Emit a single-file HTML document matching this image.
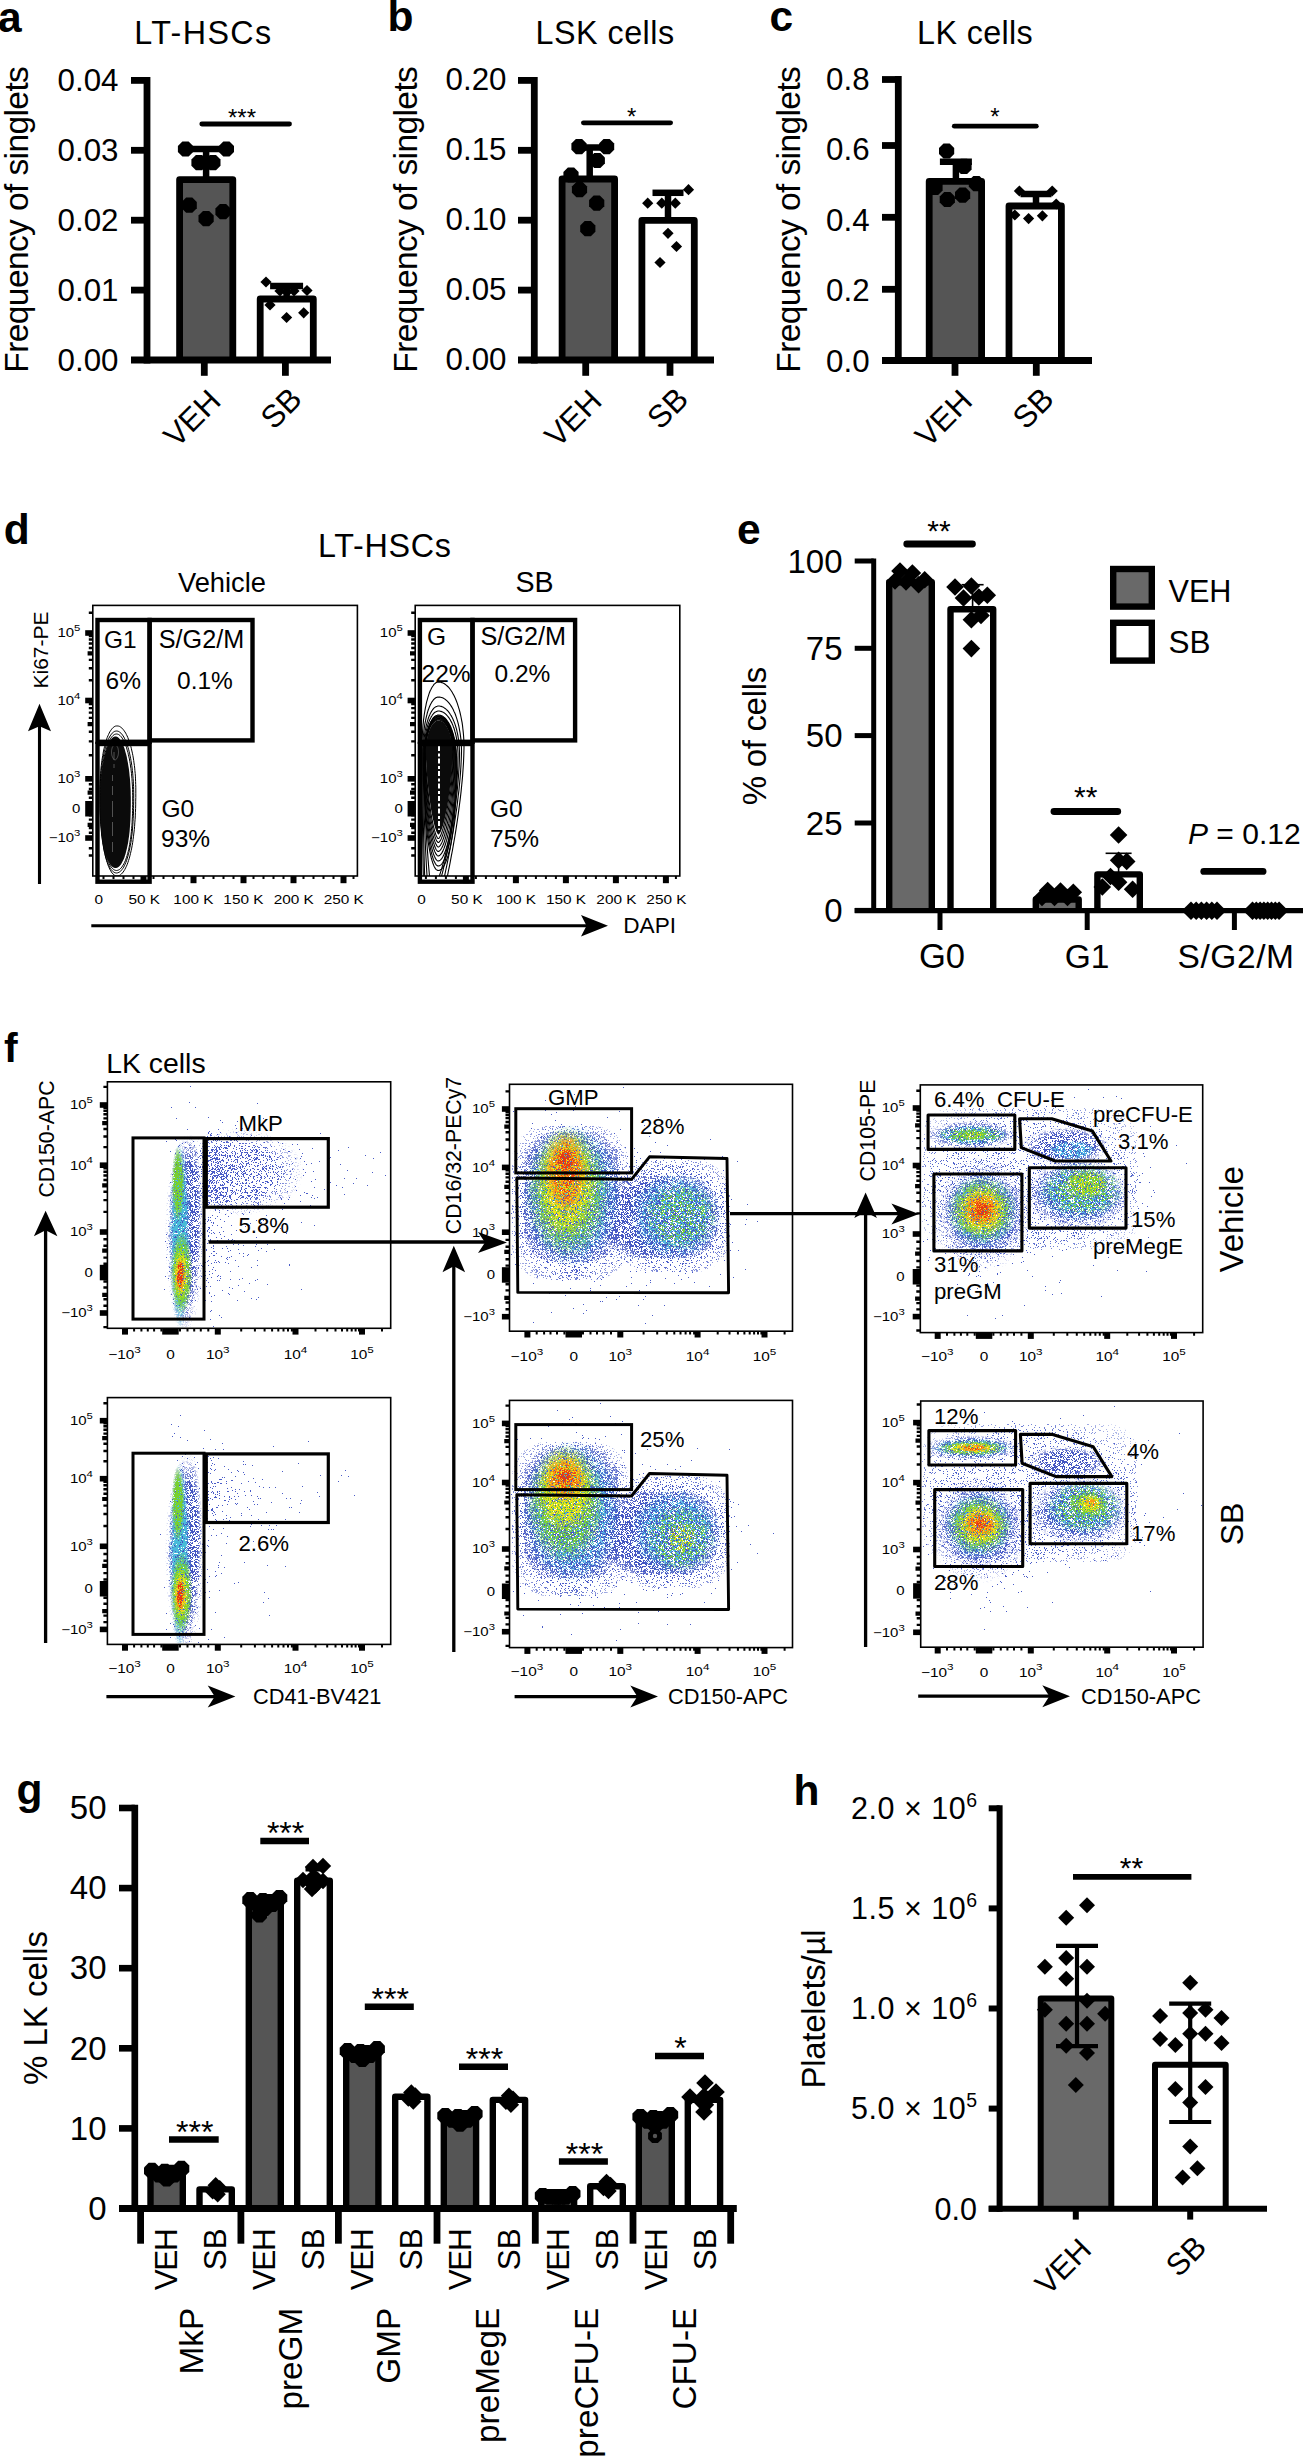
<!DOCTYPE html>
<html><head><meta charset="utf-8"><title>Figure</title><style>html,body{margin:0;padding:0;background:#fff}svg{display:block}</style></head><body>
<svg width="1303" height="2456" viewBox="0 0 1303 2456" font-family="Liberation Sans, Arial, Helvetica, sans-serif" fill="#000">
<rect width="1303" height="2456" fill="#fff"/>
<text x="-2.0" y="31.5" font-size="42.5" font-weight="bold">a</text>
<text x="202.7" y="44.3" font-size="32.3" textLength="137" lengthAdjust="spacing" text-anchor="middle">LT-HSCs</text>
<text x="27.7" y="219.4" font-size="33.5" textLength="306.5" lengthAdjust="spacing" text-anchor="middle" transform="rotate(-90 27.7 219.4)">Frequency of singlets</text>
<text x="118.5" y="91.2" font-size="31.3" text-anchor="end">0.04</text>
<text x="118.5" y="161.2" font-size="31.3" text-anchor="end">0.03</text>
<text x="118.5" y="231.1" font-size="31.3" text-anchor="end">0.02</text>
<text x="118.5" y="301.1" font-size="31.3" text-anchor="end">0.01</text>
<text x="118.5" y="371.0" font-size="31.3" text-anchor="end">0.00</text>
<path d="M179.6 360.0V179.6H232.8V360.0" fill="#555555" stroke="#000" stroke-width="6.8" stroke-linejoin="round"/>
<path d="M260.2 360.0V299.0H313.3V360.0" fill="#fff" stroke="#000" stroke-width="6.8" stroke-linejoin="round"/>
<line x1="131.0" y1="80.4" x2="147.0" y2="80.4" stroke="#000" stroke-width="6.8"/>
<line x1="131.0" y1="150.3" x2="147.0" y2="150.3" stroke="#000" stroke-width="6.8"/>
<line x1="131.0" y1="220.2" x2="147.0" y2="220.2" stroke="#000" stroke-width="6.8"/>
<line x1="131.0" y1="290.1" x2="147.0" y2="290.1" stroke="#000" stroke-width="6.8"/>
<line x1="147.0" y1="77.0" x2="147.0" y2="363.4" stroke="#000" stroke-width="6.8"/>
<line x1="131.0" y1="360.0" x2="331.0" y2="360.0" stroke="#000" stroke-width="6.8"/>
<line x1="204.3" y1="360.0" x2="204.3" y2="375.8" stroke="#000" stroke-width="6.8"/>
<line x1="285.4" y1="360.0" x2="285.4" y2="375.8" stroke="#000" stroke-width="6.8"/>
<line x1="206.1" y1="149.0" x2="206.1" y2="179.2" stroke="#000" stroke-width="6.5"/>
<line x1="180.6" y1="149.0" x2="231.6" y2="149.0" stroke="#000" stroke-width="6.5"/>
<line x1="286.6" y1="286.0" x2="286.6" y2="298.6" stroke="#000" stroke-width="6.5"/>
<line x1="270.1" y1="286.0" x2="303.1" y2="286.0" stroke="#000" stroke-width="6.5"/>
<line x1="201.8" y1="124.0" x2="289.5" y2="124.0" stroke="#000" stroke-width="4.8" stroke-linecap="round"/>
<text x="242.0" y="126.0" font-size="24" text-anchor="middle">***</text>
<g fill="#000">
<polygon points="193.1,152.1 188.6,156.6 182.4,156.6 177.9,152.1 177.9,145.9 182.4,141.4 188.6,141.4 193.1,145.9"/>
<polygon points="234.0,152.1 229.5,156.6 223.3,156.6 218.8,152.1 218.8,145.9 223.3,141.4 229.5,141.4 234.0,145.9"/>
<polygon points="206.6,165.7 202.1,170.2 195.9,170.2 191.4,165.7 191.4,159.5 195.9,155.0 202.1,155.0 206.6,159.5"/>
<polygon points="220.5,165.7 216.0,170.2 209.8,170.2 205.3,165.7 205.3,159.5 209.8,155.0 216.0,155.0 220.5,159.5"/>
<polygon points="196.8,208.3 192.3,212.8 186.1,212.8 181.6,208.3 181.6,202.1 186.1,197.6 192.3,197.6 196.8,202.1"/>
<polygon points="213.7,221.8 209.2,226.3 203.0,226.3 198.5,221.8 198.5,215.6 203.0,211.1 209.2,211.1 213.7,215.6"/>
<polygon points="230.6,214.7 226.1,219.2 219.9,219.2 215.4,214.7 215.4,208.5 219.9,204.0 226.1,204.0 230.6,208.5"/>
<polygon points="260.4,282.0 266.0,276.4 271.6,282.0 266.0,287.6"/>
<polygon points="301.4,290.5 307.0,284.9 312.6,290.5 307.0,296.1"/>
<polygon points="264.4,305.0 270.0,299.4 275.6,305.0 270.0,310.6"/>
<polygon points="281.0,317.5 286.6,311.9 292.2,317.5 286.6,323.1"/>
<polygon points="298.1,312.8 303.7,307.2 309.3,312.8 303.7,318.4"/>
<polygon points="274.4,291.0 280.0,285.4 285.6,291.0 280.0,296.6"/>
<polygon points="281.4,292.0 287.0,286.4 292.6,292.0 287.0,297.6"/>
<polygon points="288.4,291.0 294.0,285.4 299.6,291.0 294.0,296.6"/>
</g>
<text x="222.5" y="403.0" font-size="31.5" text-anchor="end" transform="rotate(-45 222.5 403.0)">VEH</text>
<text x="303.5" y="401.0" font-size="31.5" text-anchor="end" transform="rotate(-45 303.5 401.0)">SB</text>
<text x="387.5" y="31.4" font-size="42.5" font-weight="bold">b</text>
<text x="604.8" y="44.3" font-size="32.3" textLength="138.5" lengthAdjust="spacing" text-anchor="middle">LSK cells</text>
<text x="416.8" y="219.4" font-size="33.5" textLength="306.5" lengthAdjust="spacing" text-anchor="middle" transform="rotate(-90 416.8 219.4)">Frequency of singlets</text>
<text x="506.5" y="90.4" font-size="31.3" text-anchor="end">0.20</text>
<text x="506.5" y="160.3" font-size="31.3" text-anchor="end">0.15</text>
<text x="506.5" y="230.2" font-size="31.3" text-anchor="end">0.10</text>
<text x="506.5" y="300.1" font-size="31.3" text-anchor="end">0.05</text>
<text x="506.5" y="370.0" font-size="31.3" text-anchor="end">0.00</text>
<path d="M562.1 360.0V179.0H614.6V360.0" fill="#555555" stroke="#000" stroke-width="6.8" stroke-linejoin="round"/>
<path d="M641.9 360.0V220.4H694.3V360.0" fill="#fff" stroke="#000" stroke-width="6.8" stroke-linejoin="round"/>
<line x1="518.0" y1="80.4" x2="534.3" y2="80.4" stroke="#000" stroke-width="6.8"/>
<line x1="518.0" y1="150.3" x2="534.3" y2="150.3" stroke="#000" stroke-width="6.8"/>
<line x1="518.0" y1="220.2" x2="534.3" y2="220.2" stroke="#000" stroke-width="6.8"/>
<line x1="518.0" y1="290.1" x2="534.3" y2="290.1" stroke="#000" stroke-width="6.8"/>
<line x1="534.3" y1="77.0" x2="534.3" y2="363.4" stroke="#000" stroke-width="6.8"/>
<line x1="518.0" y1="360.0" x2="714.0" y2="360.0" stroke="#000" stroke-width="6.8"/>
<line x1="585.7" y1="360.0" x2="585.7" y2="375.8" stroke="#000" stroke-width="6.8"/>
<line x1="670.0" y1="360.0" x2="670.0" y2="375.8" stroke="#000" stroke-width="6.8"/>
<line x1="589.7" y1="147.4" x2="589.7" y2="178.6" stroke="#000" stroke-width="6.5"/>
<line x1="573.7" y1="147.4" x2="605.7" y2="147.4" stroke="#000" stroke-width="6.5"/>
<line x1="668.0" y1="192.8" x2="668.0" y2="220.0" stroke="#000" stroke-width="6.5"/>
<line x1="652.5" y1="192.8" x2="683.5" y2="192.8" stroke="#000" stroke-width="6.5"/>
<line x1="583.4" y1="122.8" x2="670.6" y2="122.8" stroke="#000" stroke-width="4.8" stroke-linecap="round"/>
<text x="631.7" y="125.0" font-size="24" text-anchor="middle">*</text>
<g fill="#000">
<polygon points="586.6,149.8 582.1,154.3 575.9,154.3 571.4,149.8 571.4,143.6 575.9,139.1 582.1,139.1 586.6,143.6"/>
<polygon points="614.2,149.8 609.7,154.3 603.5,154.3 599.0,149.8 599.0,143.6 603.5,139.1 609.7,139.1 614.2,143.6"/>
<polygon points="604.9,163.6 600.4,168.1 594.2,168.1 589.7,163.6 589.7,157.4 594.2,152.9 600.4,152.9 604.9,157.4"/>
<polygon points="578.6,178.1 574.1,182.6 567.9,182.6 563.4,178.1 563.4,171.9 567.9,167.4 574.1,167.4 578.6,171.9"/>
<polygon points="587.1,192.8 582.6,197.3 576.4,197.3 571.9,192.8 571.9,186.6 576.4,182.1 582.6,182.1 587.1,186.6"/>
<polygon points="604.3,206.3 599.8,210.8 593.6,210.8 589.1,206.3 589.1,200.1 593.6,195.6 599.8,195.6 604.3,200.1"/>
<polygon points="595.4,231.8 590.9,236.3 584.7,236.3 580.2,231.8 580.2,225.6 584.7,221.1 590.9,221.1 595.4,225.6"/>
<polygon points="682.9,189.7 688.5,184.1 694.1,189.7 688.5,195.3"/>
<polygon points="642.1,203.2 647.7,197.6 653.3,203.2 647.7,208.8"/>
<polygon points="656.2,203.2 661.8,197.6 667.4,203.2 661.8,208.8"/>
<polygon points="669.7,203.2 675.3,197.6 680.9,203.2 675.3,208.8"/>
<polygon points="662.4,233.3 668.0,227.7 673.6,233.3 668.0,238.9"/>
<polygon points="670.9,246.5 676.5,240.9 682.1,246.5 676.5,252.1"/>
<polygon points="654.4,262.5 660.0,256.9 665.6,262.5 660.0,268.1"/>
</g>
<text x="603.5" y="403.0" font-size="31.5" text-anchor="end" transform="rotate(-45 603.5 403.0)">VEH</text>
<text x="690.0" y="401.0" font-size="31.5" text-anchor="end" transform="rotate(-45 690.0 401.0)">SB</text>
<text x="769.4" y="31.4" font-size="42.5" font-weight="bold">c</text>
<text x="974.9" y="44.3" font-size="32.3" textLength="115.7" lengthAdjust="spacing" text-anchor="middle">LK cells</text>
<text x="800.0" y="219.4" font-size="33.5" textLength="306.5" lengthAdjust="spacing" text-anchor="middle" transform="rotate(-90 800.0 219.4)">Frequency of singlets</text>
<text x="869.6" y="89.7" font-size="31.3" text-anchor="end">0.8</text>
<text x="869.6" y="160.0" font-size="31.3" text-anchor="end">0.6</text>
<text x="869.6" y="230.6" font-size="31.3" text-anchor="end">0.4</text>
<text x="869.6" y="301.0" font-size="31.3" text-anchor="end">0.2</text>
<text x="869.6" y="371.5" font-size="31.3" text-anchor="end">0.0</text>
<path d="M929.2 360.5V181.4H981.6V360.5" fill="#555555" stroke="#000" stroke-width="6.8" stroke-linejoin="round"/>
<path d="M1009.0 360.5V206.0H1061.4V360.5" fill="#fff" stroke="#000" stroke-width="6.8" stroke-linejoin="round"/>
<line x1="882.0" y1="79.5" x2="898.3" y2="79.5" stroke="#000" stroke-width="6.8"/>
<line x1="882.0" y1="145.5" x2="898.3" y2="145.5" stroke="#000" stroke-width="6.8"/>
<line x1="882.0" y1="217.3" x2="898.3" y2="217.3" stroke="#000" stroke-width="6.8"/>
<line x1="882.0" y1="289.3" x2="898.3" y2="289.3" stroke="#000" stroke-width="6.8"/>
<line x1="898.3" y1="76.1" x2="898.3" y2="363.9" stroke="#000" stroke-width="6.8"/>
<line x1="882.0" y1="360.5" x2="1092.0" y2="360.5" stroke="#000" stroke-width="6.8"/>
<line x1="955.0" y1="360.5" x2="955.0" y2="375.8" stroke="#000" stroke-width="6.8"/>
<line x1="1036.3" y1="360.5" x2="1036.3" y2="375.8" stroke="#000" stroke-width="6.8"/>
<line x1="955.9" y1="161.8" x2="955.9" y2="181.0" stroke="#000" stroke-width="6.5"/>
<line x1="939.9" y1="161.8" x2="971.9" y2="161.8" stroke="#000" stroke-width="6.5"/>
<line x1="1036.0" y1="194.0" x2="1036.0" y2="205.6" stroke="#000" stroke-width="6.5"/>
<line x1="1020.5" y1="194.0" x2="1051.5" y2="194.0" stroke="#000" stroke-width="6.5"/>
<line x1="954.3" y1="126.2" x2="1036.3" y2="126.2" stroke="#000" stroke-width="4.8" stroke-linecap="round"/>
<text x="994.8" y="125.0" font-size="24" text-anchor="middle">*</text>
<g fill="#000">
<polygon points="954.2,154.1 949.7,158.6 943.5,158.6 939.0,154.1 939.0,147.9 943.5,143.4 949.7,143.4 954.2,147.9"/>
<polygon points="971.6,169.5 967.1,174.0 960.9,174.0 956.4,169.5 956.4,163.3 960.9,158.8 967.1,158.8 971.6,163.3"/>
<polygon points="984.0,186.7 979.5,191.2 973.3,191.2 968.8,186.7 968.8,180.5 973.3,176.0 979.5,176.0 984.0,180.5"/>
<polygon points="942.6,190.4 938.1,194.9 931.9,194.9 927.4,190.4 927.4,184.2 931.9,179.7 938.1,179.7 942.6,184.2"/>
<polygon points="970.2,198.3 965.7,202.8 959.5,202.8 955.0,198.3 955.0,192.1 959.5,187.6 965.7,187.6 970.2,192.1"/>
<polygon points="954.9,202.6 950.4,207.1 944.2,207.1 939.7,202.6 939.7,196.4 944.2,191.9 950.4,191.9 954.9,196.4"/>
<polygon points="1013.8,191.0 1019.4,185.4 1025.0,191.0 1019.4,196.6"/>
<polygon points="1046.6,191.0 1052.2,185.4 1057.8,191.0 1052.2,196.6"/>
<polygon points="1050.6,204.0 1056.2,198.4 1061.8,204.0 1056.2,209.6"/>
<polygon points="1009.2,215.0 1014.8,209.4 1020.4,215.0 1014.8,220.6"/>
<polygon points="1023.0,218.6 1028.6,213.0 1034.2,218.6 1028.6,224.2"/>
<polygon points="1036.8,215.8 1042.4,210.2 1048.0,215.8 1042.4,221.4"/>
</g>
<text x="974.0" y="403.0" font-size="31.5" text-anchor="end" transform="rotate(-45 974.0 403.0)">VEH</text>
<text x="1055.5" y="401.0" font-size="31.5" text-anchor="end" transform="rotate(-45 1055.5 401.0)">SB</text>
<text x="3.7" y="544.2" font-size="42.5" font-weight="bold">d</text>
<text x="384.5" y="556.8" font-size="32.3" textLength="133" lengthAdjust="spacing" text-anchor="middle">LT-HSCs</text>
<text x="222.0" y="591.5" font-size="27.3" text-anchor="middle">Vehicle</text>
<text x="534.5" y="591.5" font-size="28.6" text-anchor="middle">SB</text>
<text x="48.2" y="650.0" font-size="21" text-anchor="middle" transform="rotate(-90 48.2 650.0)">Ki67-PE</text>
<line x1="39.5" y1="884.0" x2="39.5" y2="722.0" stroke="#000" stroke-width="3.1"/>
<polygon points="39.5,703.7 28.0,731.2 39.5,726.2 51.0,731.2" fill="#000"/>
<line x1="91.3" y1="925.7" x2="590.0" y2="925.7" stroke="#000" stroke-width="3.1"/>
<polygon points="608.0,925.7 581.0,915.0 586.5,925.7 581.0,936.5" fill="#000"/>
<text x="623.3" y="932.8" font-size="22.6">DAPI</text>
<clipPath id="cd0"><rect x="93" y="606" width="264" height="270"/></clipPath>
<clipPath id="cd1"><rect x="416" y="606" width="264" height="270"/></clipPath>
<rect x="92.8" y="605.4" width="264.6" height="270.6" fill="none" stroke="#000" stroke-width="1.6"/>
<rect x="85.2" y="630.2" width="7.6" height="5.6"/>
<text transform="translate(80.4 637.4) scale(1.22 1)" font-size="12.3" text-anchor="end">10<tspan font-size="9.3" dy="-6.2">5</tspan></text>
<rect x="85.2" y="697.7" width="7.6" height="5.6"/>
<text transform="translate(80.4 704.9) scale(1.22 1)" font-size="12.3" text-anchor="end">10<tspan font-size="9.3" dy="-6.2">4</tspan></text>
<rect x="85.2" y="776.0" width="7.6" height="5.6"/>
<text transform="translate(80.4 783.2) scale(1.22 1)" font-size="12.3" text-anchor="end">10<tspan font-size="9.3" dy="-6.2">3</tspan></text>
<rect x="85.2" y="801.0" width="7.6" height="15.5"/>
<text transform="translate(80.4 813.2) scale(1.22 1)" font-size="12.3" text-anchor="end">0</text>
<rect x="85.2" y="835.2" width="7.6" height="5.6"/>
<text transform="translate(80.4 842.4) scale(1.22 1)" font-size="12.3" text-anchor="end">−10<tspan font-size="9.3" dy="-6.2">3</tspan></text>
<path d="M88.8 680.2h4M88.8 668.3h4M88.8 659.9h4M88.8 648.0h4M88.8 643.5h4M88.8 639.5h4M88.8 636.1h4M88.8 755.2h4M88.8 741.4h4M88.8 731.7h4M88.8 717.9h4M88.8 712.6h4M88.8 708.1h4M88.8 704.1h4M88.8 612.7h4M88.8 784.2h4M88.8 789.0h4M88.8 797.7h4M88.8 802.2h4M88.8 815.2h4M88.8 819.6h4M88.8 828.1h4M88.8 832.7h4M88.8 848.2h4M88.8 855.5h4" stroke="#000" stroke-width="2.4"/>
<path d="M87.6 653.3h5.2M87.6 724.1h5.2M87.6 792.6h5.2M87.6 824.9h5.2" stroke="#000" stroke-width="4.2"/>
<rect x="140.5" y="876.0" width="6" height="7.2"/>
<rect x="190.5" y="876.0" width="6" height="7.2"/>
<rect x="240.5" y="876.0" width="6" height="7.2"/>
<rect x="290.5" y="876.0" width="6" height="7.2"/>
<rect x="340.5" y="876.0" width="6" height="7.2"/>
<path d="M103.5 876.0v3M113.5 876.0v3M123.5 876.0v3M133.5 876.0v3M153.5 876.0v3M163.5 876.0v3M173.5 876.0v3M183.5 876.0v3M203.5 876.0v3M213.5 876.0v3M223.5 876.0v3M233.5 876.0v3M253.5 876.0v3M263.5 876.0v3M273.5 876.0v3M283.5 876.0v3M303.5 876.0v3M313.5 876.0v3M323.5 876.0v3M333.5 876.0v3M353.5 876.0v3" stroke="#000" stroke-width="2"/>
<text transform="translate(98.8 903.7) scale(1.2 1)" font-size="12.8" text-anchor="middle">0</text>
<text transform="translate(144.3 903.7) scale(1.2 1)" font-size="12.8" text-anchor="middle">50 K</text>
<text transform="translate(193.4 903.7) scale(1.2 1)" font-size="12.8" text-anchor="middle">100 K</text>
<text transform="translate(243.4 903.7) scale(1.2 1)" font-size="12.8" text-anchor="middle">150 K</text>
<text transform="translate(293.8 903.7) scale(1.2 1)" font-size="12.8" text-anchor="middle">200 K</text>
<text transform="translate(343.8 903.7) scale(1.2 1)" font-size="12.8" text-anchor="middle">250 K</text>
<g clip-path="url(#cd0)">
<g fill="none" stroke="#000" stroke-width="1">
<path d="M117.0 725.9L117.8 726.0L118.6 726.1L119.5 726.4L120.3 726.9L121.1 727.4L121.9 728.1L122.7 728.9L123.4 729.8L124.2 730.8L124.9 731.9L125.7 733.1L126.4 734.5L127.1 735.9L127.8 737.5L128.4 739.1L129.1 740.9L129.7 742.7L130.3 744.7L130.9 746.7L131.4 748.8L131.9 751.0L132.4 753.2L132.9 755.6L133.3 758.0L133.7 760.4L134.0 762.9L134.4 765.5L134.7 768.1L134.9 770.7L135.2 773.4L135.4 776.1L135.5 778.9L135.6 781.6L135.7 784.4L135.8 787.2L135.8 790.0L135.8 793.8L135.8 797.5L135.7 801.2L135.7 804.9L135.6 808.6L135.4 812.3L135.3 815.9L135.1 819.4L134.8 822.9L134.6 826.3L134.3 829.7L133.9 833.0L133.5 836.2L133.1 839.3L132.7 842.4L132.2 845.3L131.7 848.1L131.1 850.8L130.5 853.4L129.9 855.9L129.3 858.2L128.6 860.4L127.9 862.5L127.2 864.5L126.4 866.3L125.6 867.9L124.8 869.5L124.0 870.8L123.2 872.0L122.3 873.1L121.4 874.0L120.6 874.7L119.7 875.3L118.8 875.7L117.9 875.9L117.0 876.0L117.0 876.0L116.2 875.9L115.4 875.7L114.6 875.3L113.8 874.7L113.0 874.0L112.2 873.1L111.4 872.0L110.7 870.8L109.9 869.5L109.2 867.9L108.5 866.3L107.8 864.5L107.2 862.5L106.5 860.4L105.9 858.2L105.3 855.9L104.8 853.4L104.2 850.8L103.7 848.1L103.3 845.3L102.8 842.4L102.4 839.3L102.0 836.2L101.7 833.0L101.4 829.7L101.1 826.3L100.9 822.9L100.7 819.4L100.5 815.9L100.3 812.3L100.2 808.6L100.1 804.9L100.1 801.2L100.0 797.5L100.0 793.8L100.0 790.0L100.0 787.2L100.1 784.4L100.1 781.6L100.3 778.9L100.4 776.1L100.6 773.4L100.8 770.7L101.0 768.1L101.3 765.5L101.6 762.9L101.9 760.4L102.3 758.0L102.7 755.6L103.1 753.2L103.5 751.0L104.0 748.8L104.5 746.7L105.0 744.7L105.5 742.7L106.1 740.9L106.7 739.1L107.2 737.5L107.9 735.9L108.5 734.5L109.2 733.1L109.8 731.9L110.5 730.8L111.2 729.8L111.9 728.9L112.6 728.1L113.3 727.4L114.0 726.9L114.8 726.4L115.5 726.1L116.3 726.0L117.0 725.9Z"/>
<path d="M116.5 731.0L117.3 731.1L118.0 731.2L118.7 731.5L119.5 732.0L120.2 732.5L121.0 733.2L121.7 734.0L122.4 734.9L123.1 735.9L123.8 737.0L124.4 738.2L125.1 739.6L125.7 741.0L126.4 742.6L127.0 744.2L127.6 746.0L128.1 747.8L128.7 749.7L129.2 751.8L129.7 753.9L130.1 756.0L130.6 758.3L131.0 760.6L131.4 763.0L131.8 765.4L132.1 768.0L132.4 770.5L132.7 773.1L132.9 775.8L133.1 778.4L133.3 781.1L133.4 783.9L133.6 786.6L133.6 789.4L133.7 792.2L133.7 795.0L133.7 798.4L133.7 801.8L133.6 805.2L133.6 808.5L133.5 811.9L133.4 815.2L133.2 818.5L133.0 821.7L132.8 824.8L132.6 828.0L132.3 831.0L132.0 834.0L131.6 836.9L131.3 839.7L130.9 842.5L130.4 845.1L129.9 847.7L129.4 850.2L128.9 852.5L128.3 854.8L127.7 856.9L127.1 858.9L126.5 860.8L125.8 862.5L125.1 864.2L124.4 865.7L123.7 867.1L122.9 868.3L122.1 869.4L121.4 870.3L120.6 871.2L119.8 871.8L119.0 872.3L118.1 872.7L117.3 872.9L116.5 873.0L116.5 873.0L115.7 872.9L114.9 872.7L114.1 872.3L113.4 871.8L112.6 871.2L111.8 870.3L111.1 869.4L110.4 868.3L109.6 867.1L108.9 865.7L108.2 864.2L107.6 862.5L106.9 860.8L106.3 858.9L105.7 856.9L105.2 854.8L104.6 852.5L104.1 850.2L103.6 847.7L103.2 845.1L102.7 842.5L102.3 839.7L102.0 836.9L101.6 834.0L101.3 831.0L101.1 828.0L100.8 824.8L100.6 821.7L100.5 818.5L100.3 815.2L100.2 811.9L100.1 808.5L100.1 805.2L100.0 801.8L100.0 798.4L100.0 795.0L100.0 792.2L100.1 789.4L100.1 786.6L100.3 783.9L100.4 781.1L100.6 778.4L100.8 775.8L101.0 773.1L101.3 770.5L101.5 768.0L101.9 765.4L102.2 763.0L102.6 760.6L103.0 758.3L103.4 756.0L103.9 753.9L104.3 751.8L104.8 749.7L105.4 747.8L105.9 746.0L106.5 744.2L107.0 742.6L107.6 741.0L108.2 739.6L108.9 738.2L109.5 737.0L110.2 735.9L110.9 734.9L111.5 734.0L112.2 733.2L112.9 732.5L113.6 732.0L114.3 731.5L115.1 731.2L115.8 731.1L116.5 731.0Z"/>
<path d="M116.5 734.0L117.2 734.1L117.9 734.2L118.6 734.5L119.3 735.0L120.0 735.5L120.7 736.2L121.4 737.0L122.0 737.9L122.7 738.9L123.3 740.0L124.0 741.2L124.6 742.6L125.2 744.0L125.8 745.6L126.4 747.2L126.9 749.0L127.4 750.8L128.0 752.7L128.4 754.8L128.9 756.9L129.4 759.0L129.8 761.3L130.2 763.6L130.5 766.0L130.9 768.4L131.2 771.0L131.5 773.5L131.7 776.1L132.0 778.8L132.1 781.4L132.3 784.1L132.5 786.9L132.6 789.6L132.6 792.4L132.7 795.2L132.7 798.0L132.7 801.2L132.7 804.3L132.6 807.5L132.6 810.6L132.5 813.7L132.4 816.8L132.2 819.8L132.1 822.8L131.9 825.7L131.6 828.6L131.4 831.5L131.1 834.2L130.8 837.0L130.4 839.6L130.0 842.1L129.6 844.6L129.2 847.0L128.7 849.3L128.2 851.5L127.6 853.5L127.1 855.5L126.5 857.4L125.9 859.1L125.3 860.8L124.6 862.3L123.9 863.7L123.2 865.0L122.5 866.1L121.8 867.1L121.1 868.0L120.3 868.8L119.6 869.4L118.8 869.9L118.0 870.2L117.3 870.4L116.5 870.5L116.5 870.5L115.7 870.4L115.0 870.2L114.2 869.9L113.5 869.4L112.7 868.8L112.0 868.0L111.3 867.1L110.5 866.1L109.8 865.0L109.2 863.7L108.5 862.3L107.9 860.8L107.2 859.1L106.6 857.4L106.1 855.5L105.5 853.5L105.0 851.5L104.5 849.3L104.0 847.0L103.6 844.6L103.2 842.1L102.8 839.6L102.4 837.0L102.1 834.2L101.8 831.5L101.5 828.6L101.3 825.7L101.1 822.8L101.0 819.8L100.8 816.8L100.7 813.7L100.6 810.6L100.6 807.5L100.5 804.3L100.5 801.2L100.5 798.0L100.5 795.2L100.6 792.4L100.6 789.6L100.7 786.9L100.9 784.1L101.0 781.4L101.2 778.8L101.5 776.1L101.7 773.5L102.0 771.0L102.3 768.4L102.6 766.0L103.0 763.6L103.4 761.3L103.8 759.0L104.2 756.9L104.7 754.8L105.2 752.7L105.7 750.8L106.2 749.0L106.8 747.2L107.3 745.6L107.9 744.0L108.5 742.6L109.1 741.2L109.7 740.0L110.4 738.9L111.0 737.9L111.7 737.0L112.4 736.2L113.0 735.5L113.7 735.0L114.4 734.5L115.1 734.2L115.8 734.1L116.5 734.0Z"/>
</g>
<path d="M115.5 736.5L116.2 736.6L116.8 736.7L117.5 737.0L118.2 737.5L118.8 738.0L119.5 738.7L120.1 739.4L120.7 740.3L121.4 741.3L122.0 742.4L122.6 743.7L123.2 745.0L123.7 746.4L124.3 748.0L124.8 749.6L125.3 751.4L125.8 753.2L126.3 755.1L126.8 757.1L127.2 759.2L127.6 761.3L128.0 763.6L128.4 765.9L128.8 768.2L129.1 770.7L129.4 773.2L129.6 775.7L129.9 778.3L130.1 780.9L130.3 783.6L130.4 786.3L130.6 789.0L130.7 791.7L130.7 794.5L130.8 797.2L130.8 800.0L130.8 803.0L130.8 805.9L130.7 808.9L130.7 811.8L130.6 814.7L130.5 817.6L130.4 820.4L130.2 823.3L130.0 826.0L129.8 828.7L129.6 831.4L129.3 834.0L129.0 836.5L128.6 839.0L128.3 841.4L127.9 843.7L127.4 845.9L127.0 848.1L126.5 850.1L126.0 852.1L125.5 853.9L124.9 855.7L124.4 857.4L123.8 858.9L123.2 860.3L122.5 861.6L121.9 862.8L121.2 863.9L120.5 864.9L119.8 865.7L119.1 866.4L118.4 867.0L117.7 867.4L117.0 867.7L116.2 867.9L115.5 868.0L115.5 868.0L114.8 867.9L114.0 867.7L113.3 867.4L112.6 867.0L111.9 866.4L111.2 865.7L110.5 864.9L109.8 863.9L109.1 862.8L108.5 861.6L107.8 860.3L107.2 858.9L106.6 857.4L106.1 855.7L105.5 853.9L105.0 852.1L104.5 850.1L104.0 848.1L103.6 845.9L103.1 843.7L102.7 841.4L102.4 839.0L102.0 836.5L101.7 834.0L101.4 831.4L101.2 828.7L101.0 826.0L100.8 823.3L100.6 820.4L100.5 817.6L100.4 814.7L100.3 811.8L100.3 808.9L100.2 805.9L100.2 803.0L100.2 800.0L100.2 797.2L100.3 794.5L100.3 791.7L100.4 789.0L100.6 786.3L100.7 783.6L100.9 780.9L101.1 778.3L101.4 775.7L101.6 773.2L101.9 770.7L102.2 768.2L102.6 765.9L103.0 763.6L103.4 761.3L103.8 759.2L104.2 757.1L104.7 755.1L105.2 753.2L105.7 751.4L106.2 749.6L106.7 748.0L107.3 746.4L107.8 745.0L108.4 743.7L109.0 742.4L109.6 741.3L110.3 740.3L110.9 739.4L111.5 738.7L112.2 738.0L112.8 737.5L113.5 737.0L114.2 736.7L114.8 736.6L115.5 736.5Z" fill="#0b0b0b"/>
<path d="M114 752v8m0 4v4M112.5 775v6m0 5v9m0 6v16m0 5v14m0 6v10" stroke="#aaa" stroke-width="0.45" fill="none"/>
<path d="M115.0 745.0L115.2 745.0L115.3 745.0L115.5 745.1L115.6 745.1L115.8 745.2L115.9 745.2L116.1 745.3L116.2 745.4L116.3 745.5L116.5 745.7L116.6 745.8L116.8 745.9L116.9 746.1L117.0 746.3L117.1 746.4L117.2 746.6L117.4 746.8L117.5 747.1L117.6 747.3L117.7 747.5L117.8 747.7L117.9 748.0L118.0 748.2L118.0 748.5L118.1 748.8L118.2 749.0L118.2 749.3L118.3 749.6L118.3 749.9L118.4 750.2L118.4 750.5L118.4 750.8L118.5 751.1L118.5 751.4L118.5 751.7L118.5 752.0L118.5 752.3L118.5 752.7L118.5 753.0L118.4 753.4L118.4 753.7L118.4 754.1L118.3 754.4L118.2 754.7L118.2 755.1L118.1 755.4L118.0 755.7L117.9 756.0L117.8 756.3L117.7 756.6L117.6 756.9L117.5 757.1L117.4 757.4L117.3 757.7L117.2 757.9L117.0 758.1L116.9 758.3L116.8 758.6L116.6 758.7L116.5 758.9L116.3 759.1L116.2 759.3L116.1 759.4L115.9 759.5L115.8 759.6L115.7 759.7L115.5 759.8L115.4 759.9L115.3 759.9L115.2 760.0L115.1 760.0L115.0 760.0L115.0 760.0L114.9 760.0L114.8 760.0L114.7 759.9L114.6 759.9L114.5 759.8L114.3 759.7L114.2 759.6L114.1 759.5L113.9 759.4L113.8 759.3L113.7 759.1L113.5 758.9L113.4 758.7L113.2 758.6L113.1 758.3L113.0 758.1L112.8 757.9L112.7 757.7L112.6 757.4L112.5 757.1L112.4 756.9L112.3 756.6L112.2 756.3L112.1 756.0L112.0 755.7L111.9 755.4L111.8 755.1L111.8 754.7L111.7 754.4L111.6 754.1L111.6 753.7L111.6 753.4L111.5 753.0L111.5 752.7L111.5 752.3L111.5 752.0L111.5 751.7L111.5 751.4L111.5 751.1L111.6 750.8L111.6 750.5L111.6 750.2L111.7 749.9L111.7 749.6L111.8 749.3L111.8 749.0L111.9 748.8L112.0 748.5L112.0 748.2L112.1 748.0L112.2 747.7L112.3 747.5L112.4 747.3L112.5 747.1L112.6 746.8L112.8 746.6L112.9 746.4L113.0 746.3L113.1 746.1L113.2 745.9L113.4 745.8L113.5 745.7L113.7 745.5L113.8 745.4L113.9 745.3L114.1 745.2L114.2 745.2L114.4 745.1L114.5 745.1L114.7 745.0L114.8 745.0L115.0 745.0Z" fill="none" stroke="#888" stroke-width="0.6"/>
</g>
<g fill="none" stroke="#000" stroke-width="4.4">
<rect x="97.5" y="620" width="52.1" height="121.8"/>
<rect x="149.6" y="620" width="102.9" height="120.4"/>
<rect x="97.5" y="744" width="52.1" height="137.7"/>
</g>
<text x="104.0" y="648.0" font-size="24.5">G1</text>
<text x="105.5" y="688.8" font-size="24.5">6%</text>
<text x="158.8" y="648.0" font-size="25.2">S/G2/M</text>
<text x="177.0" y="688.8" font-size="24.5">0.1%</text>
<text x="161.5" y="816.8" font-size="24.5">G0</text>
<text x="161.0" y="846.9" font-size="24.5">93%</text>
<rect x="415.2" y="605.4" width="264.6" height="270.6" fill="none" stroke="#000" stroke-width="1.6"/>
<rect x="407.6" y="630.2" width="7.6" height="5.6"/>
<text transform="translate(402.8 637.4) scale(1.22 1)" font-size="12.3" text-anchor="end">10<tspan font-size="9.3" dy="-6.2">5</tspan></text>
<rect x="407.6" y="697.7" width="7.6" height="5.6"/>
<text transform="translate(402.8 704.9) scale(1.22 1)" font-size="12.3" text-anchor="end">10<tspan font-size="9.3" dy="-6.2">4</tspan></text>
<rect x="407.6" y="776.0" width="7.6" height="5.6"/>
<text transform="translate(402.8 783.2) scale(1.22 1)" font-size="12.3" text-anchor="end">10<tspan font-size="9.3" dy="-6.2">3</tspan></text>
<rect x="407.6" y="801.0" width="7.6" height="15.5"/>
<text transform="translate(402.8 813.2) scale(1.22 1)" font-size="12.3" text-anchor="end">0</text>
<rect x="407.6" y="835.2" width="7.6" height="5.6"/>
<text transform="translate(402.8 842.4) scale(1.22 1)" font-size="12.3" text-anchor="end">−10<tspan font-size="9.3" dy="-6.2">3</tspan></text>
<path d="M411.2 680.2h4M411.2 668.3h4M411.2 659.9h4M411.2 648.0h4M411.2 643.5h4M411.2 639.5h4M411.2 636.1h4M411.2 755.2h4M411.2 741.4h4M411.2 731.7h4M411.2 717.9h4M411.2 712.6h4M411.2 708.1h4M411.2 704.1h4M411.2 612.7h4M411.2 784.2h4M411.2 789.0h4M411.2 797.7h4M411.2 802.2h4M411.2 815.2h4M411.2 819.6h4M411.2 828.1h4M411.2 832.7h4M411.2 848.2h4M411.2 855.5h4" stroke="#000" stroke-width="2.4"/>
<path d="M410.0 653.3h5.2M410.0 724.1h5.2M410.0 792.6h5.2M410.0 824.9h5.2" stroke="#000" stroke-width="4.2"/>
<rect x="462.9" y="876.0" width="6" height="7.2"/>
<rect x="512.9" y="876.0" width="6" height="7.2"/>
<rect x="562.9" y="876.0" width="6" height="7.2"/>
<rect x="612.9" y="876.0" width="6" height="7.2"/>
<rect x="662.9" y="876.0" width="6" height="7.2"/>
<path d="M425.9 876.0v3M435.9 876.0v3M445.9 876.0v3M455.9 876.0v3M475.9 876.0v3M485.9 876.0v3M495.9 876.0v3M505.9 876.0v3M525.9 876.0v3M535.9 876.0v3M545.9 876.0v3M555.9 876.0v3M575.9 876.0v3M585.9 876.0v3M595.9 876.0v3M605.9 876.0v3M625.9 876.0v3M635.9 876.0v3M645.9 876.0v3M655.9 876.0v3M675.9 876.0v3" stroke="#000" stroke-width="2"/>
<text transform="translate(421.4 903.7) scale(1.2 1)" font-size="12.8" text-anchor="middle">0</text>
<text transform="translate(466.9 903.7) scale(1.2 1)" font-size="12.8" text-anchor="middle">50 K</text>
<text transform="translate(516.0 903.7) scale(1.2 1)" font-size="12.8" text-anchor="middle">100 K</text>
<text transform="translate(566.0 903.7) scale(1.2 1)" font-size="12.8" text-anchor="middle">150 K</text>
<text transform="translate(616.4 903.7) scale(1.2 1)" font-size="12.8" text-anchor="middle">200 K</text>
<text transform="translate(666.4 903.7) scale(1.2 1)" font-size="12.8" text-anchor="middle">250 K</text>
<g clip-path="url(#cd1)">
<g fill="none" stroke="#000" stroke-width="1.1">
<path d="M438.5 682.0L439.6 682.1L440.7 682.3L441.8 682.6L442.9 683.0L444.0 683.6L445.1 684.2L446.2 685.1L447.2 686.0L448.3 687.0L449.3 688.2L450.3 689.5L451.2 690.8L452.2 692.3L453.1 693.9L454.0 695.6L454.9 697.4L455.7 699.3L456.5 701.3L457.3 703.4L458.0 705.6L458.7 707.8L459.4 710.1L460.0 712.5L460.6 715.0L461.1 717.5L461.6 720.1L462.1 722.7L462.5 725.4L462.8 728.2L463.1 730.9L463.4 733.7L463.6 736.5L463.8 739.4L463.9 742.2L464.0 745.1L464.0 748.0L463.8 755.3L463.5 762.6L463.0 769.9L462.5 777.1L461.8 784.3L461.1 791.4L460.3 798.4L459.4 805.3L458.5 812.1L457.6 818.8L456.6 825.3L455.6 831.8L454.6 838.0L453.5 844.1L452.5 850.0L451.4 855.7L450.4 861.2L449.4 866.4L448.3 871.5L447.4 876.3L446.4 880.9L445.5 885.2L444.6 889.3L443.7 893.1L443.0 896.6L442.2 899.8L441.5 902.7L440.9 905.4L440.4 907.7L439.9 909.8L439.5 911.5L439.1 913.0L438.8 914.1L438.7 914.9L438.5 915.3L438.5 915.5L438.5 1200.0L438.5 1199.6L438.4 1198.3L438.2 1196.1L438.0 1193.1L437.7 1189.3L437.4 1184.6L437.0 1179.1L436.6 1172.7L436.1 1165.6L435.6 1157.7L435.0 1148.9L434.4 1139.4L433.7 1129.2L433.1 1118.3L432.4 1106.6L431.7 1094.3L431.0 1081.2L430.2 1067.6L429.5 1053.4L428.8 1038.5L428.1 1023.2L427.4 1007.3L426.8 990.9L426.1 974.0L425.5 956.7L424.9 939.0L424.4 921.0L423.9 902.6L423.5 883.9L423.1 865.0L422.8 845.8L422.5 826.5L422.3 807.0L422.1 787.4L422.0 767.7L422.0 748.0L422.0 745.1L422.1 742.2L422.1 739.4L422.3 736.5L422.4 733.7L422.6 730.9L422.8 728.2L423.0 725.4L423.3 722.7L423.5 720.1L423.9 717.5L424.2 715.0L424.6 712.5L425.0 710.1L425.4 707.8L425.9 705.6L426.3 703.4L426.8 701.3L427.4 699.3L427.9 697.4L428.5 695.6L429.0 693.9L429.6 692.3L430.2 690.8L430.9 689.5L431.5 688.2L432.2 687.0L432.9 686.0L433.5 685.1L434.2 684.2L434.9 683.6L435.6 683.0L436.3 682.6L437.1 682.3L437.8 682.1L438.5 682.0"/>
<path d="M438.5 697.0L439.5 697.1L440.5 697.2L441.5 697.5L442.5 697.8L443.5 698.3L444.5 698.9L445.4 699.5L446.4 700.3L447.3 701.2L448.2 702.1L449.1 703.2L450.0 704.3L450.9 705.6L451.7 706.9L452.5 708.3L453.3 709.8L454.0 711.4L454.8 713.0L455.5 714.8L456.1 716.6L456.7 718.4L457.3 720.3L457.9 722.3L458.4 724.4L458.9 726.5L459.3 728.6L459.7 730.8L460.1 733.0L460.4 735.3L460.7 737.6L461.0 739.9L461.2 742.2L461.3 744.6L461.4 747.0L461.5 749.4L461.5 751.8L461.3 758.3L461.0 764.8L460.6 771.4L460.1 777.8L459.5 784.3L458.9 790.6L458.1 796.9L457.4 803.1L456.6 809.2L455.7 815.2L454.8 821.1L453.9 826.9L453.0 832.5L452.0 837.9L451.1 843.2L450.2 848.3L449.2 853.3L448.3 858.0L447.4 862.5L446.5 866.8L445.6 871.0L444.8 874.8L444.0 878.5L443.2 881.9L442.5 885.0L441.8 887.9L441.2 890.6L440.7 892.9L440.2 895.0L439.7 896.9L439.4 898.4L439.1 899.7L438.8 900.7L438.6 901.4L438.5 901.9L438.5 902.0L438.5 1100.0L438.5 1099.7L438.4 1098.7L438.2 1097.0L438.0 1094.7L437.8 1091.7L437.4 1088.1L437.1 1083.9L436.7 1079.0L436.2 1073.5L435.7 1067.4L435.1 1060.7L434.6 1053.3L433.9 1045.5L433.3 1037.0L432.6 1028.0L432.0 1018.5L431.3 1008.5L430.6 998.0L429.9 987.0L429.2 975.6L428.6 963.8L427.9 951.5L427.3 938.9L426.6 925.9L426.1 912.6L425.5 898.9L425.0 885.0L424.5 870.9L424.1 856.5L423.8 841.9L423.4 827.1L423.2 812.2L423.0 797.2L422.8 782.1L422.7 766.9L422.7 751.8L422.7 749.4L422.8 747.0L422.8 744.6L422.9 742.2L423.1 739.9L423.2 737.6L423.4 735.3L423.7 733.0L423.9 730.8L424.2 728.6L424.5 726.5L424.8 724.4L425.2 722.3L425.6 720.3L426.0 718.4L426.4 716.6L426.9 714.8L427.3 713.0L427.8 711.4L428.3 709.8L428.9 708.3L429.4 706.9L430.0 705.6L430.6 704.3L431.2 703.2L431.8 702.1L432.5 701.2L433.1 700.3L433.7 699.5L434.4 698.9L435.1 698.3L435.8 697.8L436.4 697.5L437.1 697.2L437.8 697.1L438.5 697.0"/>
<path d="M438.5 706.0L439.4 706.0L440.3 706.2L441.2 706.4L442.1 706.7L443.0 707.1L443.9 707.6L444.8 708.2L445.7 708.9L446.5 709.7L447.4 710.5L448.2 711.4L449.0 712.4L449.8 713.5L450.5 714.7L451.3 715.9L452.0 717.2L452.7 718.6L453.3 720.1L454.0 721.6L454.6 723.1L455.2 724.8L455.7 726.5L456.2 728.2L456.7 730.0L457.1 731.8L457.5 733.7L457.9 735.6L458.2 737.6L458.5 739.6L458.8 741.6L459.0 743.6L459.2 745.7L459.3 747.7L459.4 749.8L459.5 751.9L459.5 754.0L459.4 759.8L459.2 765.7L458.8 771.5L458.4 777.3L457.9 783.0L457.4 788.7L456.8 794.3L456.1 799.8L455.4 805.3L454.6 810.6L453.9 815.9L453.0 821.0L452.2 826.0L451.3 830.9L450.5 835.6L449.6 840.1L448.7 844.5L447.8 848.8L447.0 852.8L446.2 856.6L445.3 860.3L444.5 863.8L443.8 867.0L443.1 870.0L442.4 872.9L441.7 875.4L441.1 877.8L440.6 879.9L440.1 881.8L439.7 883.4L439.3 884.8L439.0 886.0L438.8 886.9L438.6 887.5L438.5 887.9L438.5 888.0L438.5 1000.0L438.5 999.8L438.4 999.1L438.2 997.9L438.0 996.3L437.8 994.2L437.5 991.6L437.1 988.6L436.7 985.2L436.3 981.3L435.8 977.0L435.3 972.2L434.7 967.0L434.1 961.5L433.5 955.5L432.9 949.2L432.2 942.4L431.6 935.4L430.9 927.9L430.2 920.2L429.6 912.1L428.9 903.8L428.3 895.1L427.7 886.2L427.1 877.0L426.5 867.6L426.0 858.0L425.5 848.1L425.1 838.1L424.7 828.0L424.3 817.7L424.0 807.2L423.8 796.7L423.6 786.1L423.4 775.4L423.3 764.7L423.3 754.0L423.3 751.9L423.4 749.8L423.4 747.7L423.5 745.7L423.7 743.6L423.8 741.6L424.0 739.6L424.2 737.6L424.5 735.6L424.7 733.7L425.0 731.8L425.3 730.0L425.7 728.2L426.0 726.5L426.4 724.8L426.9 723.1L427.3 721.6L427.8 720.1L428.2 718.6L428.7 717.2L429.2 715.9L429.8 714.7L430.3 713.5L430.9 712.4L431.5 711.4L432.1 710.5L432.7 709.7L433.3 708.9L433.9 708.2L434.6 707.6L435.2 707.1L435.9 706.7L436.5 706.4L437.2 706.2L437.8 706.0L438.5 706.0"/>
<path d="M438.5 711.0L439.4 711.0L440.2 711.2L441.0 711.4L441.9 711.7L442.7 712.0L443.5 712.5L444.4 713.0L445.2 713.7L446.0 714.4L446.7 715.1L447.5 716.0L448.2 716.9L449.0 717.9L449.7 719.0L450.4 720.1L451.0 721.4L451.7 722.6L452.3 724.0L452.9 725.4L453.4 726.8L454.0 728.3L454.5 729.9L454.9 731.5L455.4 733.1L455.8 734.8L456.2 736.5L456.5 738.3L456.8 740.1L457.1 741.9L457.3 743.8L457.5 745.7L457.7 747.6L457.8 749.5L457.9 751.4L458.0 753.3L458.0 755.2L457.9 760.6L457.8 765.9L457.6 771.3L457.2 776.6L456.9 781.8L456.5 787.0L456.0 792.2L455.4 797.2L454.9 802.2L454.2 807.1L453.6 811.9L452.9 816.6L452.2 821.2L451.4 825.7L450.6 830.0L449.9 834.2L449.1 838.2L448.3 842.0L447.5 845.8L446.7 849.3L445.9 852.6L445.1 855.8L444.4 858.8L443.7 861.6L443.0 864.1L442.3 866.5L441.7 868.7L441.1 870.6L440.5 872.3L440.1 873.8L439.6 875.1L439.3 876.1L439.0 876.9L438.7 877.5L438.6 877.9L438.5 878.0L438.5 950.0L438.5 949.8L438.4 949.3L438.3 948.3L438.1 947.0L437.8 945.4L437.5 943.4L437.2 941.0L436.8 938.3L436.4 935.2L435.9 931.8L435.4 928.0L434.9 923.9L434.3 919.5L433.7 914.8L433.1 909.8L432.5 904.4L431.8 898.8L431.2 893.0L430.6 886.8L429.9 880.4L429.3 873.8L428.7 867.0L428.1 859.9L427.6 852.6L427.0 845.2L426.5 837.6L426.0 829.8L425.6 821.9L425.2 813.8L424.9 805.7L424.6 797.4L424.3 789.1L424.1 780.7L424.0 772.2L423.9 763.7L423.9 755.2L423.9 753.3L424.0 751.4L424.0 749.5L424.1 747.6L424.2 745.7L424.4 743.8L424.6 741.9L424.8 740.1L425.0 738.3L425.3 736.5L425.5 734.8L425.9 733.1L426.2 731.5L426.5 729.9L426.9 728.3L427.3 726.8L427.7 725.4L428.2 724.0L428.6 722.6L429.1 721.4L429.6 720.1L430.1 719.0L430.7 717.9L431.2 716.9L431.8 716.0L432.3 715.1L432.9 714.4L433.5 713.7L434.1 713.0L434.7 712.5L435.3 712.0L436.0 711.7L436.6 711.4L437.2 711.2L437.9 711.0L438.5 711.0"/>
<path d="M438.3 715.0L439.1 715.0L439.9 715.2L440.7 715.4L441.5 715.7L442.3 716.1L443.0 716.5L443.8 717.1L444.6 717.7L445.3 718.4L446.0 719.2L446.7 720.1L447.4 721.0L448.1 722.0L448.8 723.1L449.4 724.3L450.1 725.5L450.7 726.8L451.2 728.2L451.8 729.6L452.3 731.1L452.8 732.6L453.3 734.2L453.7 735.8L454.1 737.5L454.5 739.2L454.9 741.0L455.2 742.8L455.5 744.6L455.8 746.5L456.0 748.4L456.2 750.3L456.3 752.2L456.4 754.1L456.5 756.1L456.6 758.0L456.6 760.0L456.6 764.8L456.6 769.6L456.5 774.4L456.4 779.2L456.3 783.9L456.2 788.6L456.0 793.2L455.8 797.8L455.6 802.3L455.3 806.7L455.0 811.0L454.6 815.2L454.3 819.4L453.8 823.4L453.4 827.3L452.9 831.0L452.4 834.7L451.9 838.1L451.3 841.5L450.7 844.6L450.1 847.7L449.4 850.5L448.7 853.2L448.0 855.7L447.3 858.0L446.5 860.1L445.8 862.1L445.0 863.8L444.2 865.4L443.4 866.7L442.5 867.9L441.7 868.8L440.9 869.6L440.0 870.1L439.2 870.4L438.3 870.5L438.3 870.5L437.6 870.4L437.0 870.1L436.3 869.6L435.6 868.8L435.0 867.9L434.3 866.7L433.7 865.4L433.1 863.8L432.5 862.1L431.9 860.1L431.3 858.0L430.7 855.7L430.2 853.2L429.6 850.5L429.1 847.7L428.6 844.6L428.1 841.5L427.7 838.1L427.3 834.7L426.9 831.0L426.5 827.3L426.2 823.4L425.8 819.4L425.5 815.2L425.3 811.0L425.0 806.7L424.8 802.3L424.6 797.8L424.5 793.2L424.3 788.6L424.2 783.9L424.1 779.2L424.1 774.4L424.0 769.6L424.0 764.8L424.0 760.0L424.0 758.0L424.1 756.1L424.1 754.1L424.2 752.2L424.3 750.3L424.5 748.4L424.7 746.5L424.9 744.6L425.1 742.8L425.3 741.0L425.6 739.2L425.9 737.5L426.2 735.8L426.6 734.2L427.0 732.6L427.3 731.1L427.8 729.6L428.2 728.2L428.6 726.8L429.1 725.5L429.6 724.3L430.1 723.1L430.6 722.0L431.2 721.0L431.7 720.1L432.3 719.2L432.8 718.4L433.4 717.7L434.0 717.1L434.6 716.5L435.2 716.1L435.8 715.7L436.4 715.4L437.1 715.2L437.7 715.0L438.3 715.0Z"/>
<path d="M438.3 715.7L439.1 715.7L439.8 715.9L440.6 716.1L441.4 716.4L442.1 716.7L442.9 717.2L443.6 717.7L444.4 718.3L445.1 719.0L445.8 719.7L446.5 720.6L447.2 721.5L447.8 722.5L448.5 723.5L449.1 724.6L449.7 725.8L450.3 727.0L450.8 728.3L451.4 729.7L451.9 731.1L452.4 732.6L452.8 734.1L453.3 735.7L453.7 737.3L454.0 738.9L454.4 740.6L454.7 742.3L455.0 744.1L455.2 745.9L455.4 747.7L455.6 749.5L455.8 751.4L455.9 753.2L456.0 755.1L456.0 757.0L456.0 758.9L456.0 763.5L456.0 768.2L455.9 772.8L455.8 777.5L455.7 782.0L455.5 786.6L455.4 791.1L455.1 795.5L454.9 799.9L454.6 804.1L454.3 808.3L453.9 812.4L453.5 816.4L453.1 820.3L452.6 824.1L452.1 827.7L451.6 831.2L451.1 834.6L450.5 837.9L449.9 840.9L449.3 843.9L448.7 846.6L448.0 849.2L447.3 851.6L446.6 853.9L445.9 856.0L445.1 857.8L444.4 859.5L443.6 861.0L442.9 862.3L442.1 863.5L441.3 864.4L440.6 865.1L439.8 865.6L439.0 865.9L438.3 866.0L438.3 866.0L437.7 865.9L437.1 865.6L436.5 865.1L435.9 864.4L435.3 863.5L434.7 862.3L434.0 861.0L433.4 859.5L432.9 857.8L432.3 856.0L431.7 853.9L431.1 851.6L430.6 849.2L430.1 846.6L429.6 843.9L429.1 840.9L428.6 837.9L428.1 834.6L427.7 831.2L427.3 827.7L426.9 824.1L426.5 820.3L426.2 816.4L425.9 812.4L425.6 808.3L425.4 804.1L425.1 799.9L424.9 795.5L424.7 791.1L424.6 786.6L424.5 782.0L424.4 777.5L424.3 772.8L424.2 768.2L424.2 763.5L424.2 758.9L424.2 757.0L424.3 755.1L424.3 753.2L424.4 751.4L424.5 749.5L424.7 747.7L424.9 745.9L425.1 744.1L425.3 742.3L425.5 740.6L425.8 738.9L426.1 737.3L426.4 735.7L426.7 734.1L427.1 732.6L427.5 731.1L427.9 729.7L428.3 728.3L428.8 727.0L429.2 725.8L429.7 724.6L430.2 723.5L430.7 722.5L431.2 721.5L431.8 720.6L432.3 719.7L432.9 719.0L433.5 718.3L434.1 717.7L434.7 717.2L435.2 716.7L435.9 716.4L436.5 716.1L437.1 715.9L437.7 715.7L438.3 715.7Z"/>
<path d="M438.3 716.4L439.0 716.4L439.8 716.6L440.5 716.8L441.3 717.0L442.0 717.4L442.7 717.8L443.5 718.3L444.2 718.9L444.9 719.5L445.6 720.3L446.2 721.1L446.9 721.9L447.5 722.9L448.1 723.9L448.7 724.9L449.3 726.1L449.9 727.3L450.4 728.5L450.9 729.8L451.4 731.2L451.9 732.6L452.4 734.0L452.8 735.5L453.2 737.1L453.5 738.6L453.8 740.3L454.2 741.9L454.4 743.6L454.7 745.3L454.9 747.0L455.1 748.8L455.2 750.5L455.3 752.3L455.4 754.1L455.4 755.9L455.5 757.7L455.4 762.2L455.4 766.7L455.3 771.2L455.2 775.6L455.1 780.1L454.9 784.4L454.7 788.8L454.4 793.0L454.2 797.2L453.9 801.4L453.5 805.4L453.1 809.4L452.7 813.2L452.3 817.0L451.8 820.6L451.4 824.1L450.8 827.5L450.3 830.7L449.7 833.9L449.2 836.8L448.5 839.7L447.9 842.3L447.3 844.8L446.6 847.2L445.9 849.3L445.3 851.3L444.6 853.1L443.8 854.8L443.1 856.2L442.4 857.5L441.7 858.6L441.0 859.4L440.3 860.1L439.6 860.6L438.9 860.9L438.3 861.0L438.3 861.0L437.8 860.9L437.3 860.6L436.7 860.1L436.1 859.4L435.5 858.6L435.0 857.5L434.4 856.2L433.8 854.8L433.2 853.1L432.7 851.3L432.1 849.3L431.6 847.2L431.0 844.8L430.5 842.3L430.0 839.7L429.5 836.8L429.0 833.9L428.6 830.7L428.1 827.5L427.7 824.1L427.3 820.6L427.0 817.0L426.6 813.2L426.3 809.4L426.0 805.4L425.7 801.4L425.5 797.2L425.2 793.0L425.0 788.8L424.9 784.4L424.7 780.1L424.6 775.6L424.5 771.2L424.4 766.7L424.4 762.2L424.4 757.7L424.4 755.9L424.5 754.1L424.5 752.3L424.6 750.5L424.7 748.8L424.9 747.0L425.0 745.3L425.2 743.6L425.5 741.9L425.7 740.3L426.0 738.6L426.3 737.1L426.6 735.5L426.9 734.0L427.3 732.6L427.7 731.2L428.1 729.8L428.5 728.5L428.9 727.3L429.4 726.1L429.8 724.9L430.3 723.9L430.8 722.9L431.4 721.9L431.9 721.1L432.4 720.3L433.0 719.5L433.5 718.9L434.1 718.3L434.7 717.8L435.3 717.4L435.9 717.0L436.5 716.8L437.1 716.6L437.7 716.4L438.3 716.4Z"/>
<path d="M438.3 717.1L439.0 717.1L439.7 717.3L440.5 717.4L441.2 717.7L441.9 718.0L442.6 718.4L443.3 718.9L444.0 719.5L444.6 720.1L445.3 720.8L446.0 721.6L446.6 722.4L447.2 723.3L447.8 724.2L448.4 725.3L449.0 726.3L449.5 727.5L450.0 728.7L450.5 729.9L451.0 731.2L451.5 732.5L451.9 733.9L452.3 735.4L452.7 736.8L453.0 738.3L453.3 739.9L453.6 741.5L453.9 743.1L454.1 744.7L454.3 746.4L454.5 748.0L454.6 749.7L454.7 751.4L454.8 753.1L454.9 754.8L454.9 756.6L454.9 760.9L454.8 765.2L454.7 769.5L454.6 773.8L454.4 778.1L454.2 782.3L454.0 786.5L453.7 790.6L453.4 794.6L453.1 798.6L452.8 802.5L452.4 806.3L452.0 810.0L451.5 813.6L451.1 817.1L450.6 820.5L450.1 823.7L449.5 826.9L449.0 829.9L448.4 832.7L447.8 835.5L447.2 838.0L446.6 840.4L445.9 842.7L445.3 844.8L444.6 846.7L444.0 848.4L443.3 850.0L442.7 851.4L442.0 852.6L441.3 853.6L440.7 854.5L440.0 855.1L439.4 855.6L438.8 855.9L438.3 856.0L438.3 856.0L437.9 855.9L437.4 855.6L436.9 855.1L436.3 854.5L435.8 853.6L435.2 852.6L434.7 851.4L434.2 850.0L433.6 848.4L433.1 846.7L432.5 844.8L432.0 842.7L431.5 840.4L431.0 838.0L430.4 835.5L430.0 832.7L429.5 829.9L429.0 826.9L428.6 823.7L428.2 820.5L427.8 817.1L427.4 813.6L427.0 810.0L426.7 806.3L426.4 802.5L426.1 798.6L425.8 794.6L425.6 790.6L425.3 786.5L425.1 782.3L425.0 778.1L424.8 773.8L424.7 769.5L424.7 765.2L424.6 760.9L424.6 756.6L424.6 754.8L424.7 753.1L424.7 751.4L424.8 749.7L424.9 748.0L425.1 746.4L425.2 744.7L425.4 743.1L425.6 741.5L425.9 739.9L426.1 738.3L426.4 736.8L426.7 735.4L427.1 733.9L427.4 732.5L427.8 731.2L428.2 729.9L428.6 728.7L429.0 727.5L429.5 726.3L430.0 725.3L430.4 724.2L430.9 723.3L431.4 722.4L432.0 721.6L432.5 720.8L433.1 720.1L433.6 719.5L434.2 718.9L434.8 718.4L435.3 718.0L435.9 717.7L436.5 717.4L437.1 717.3L437.7 717.1L438.3 717.1Z"/>
<path d="M438.3 717.8L439.0 717.8L439.7 717.9L440.4 718.1L441.1 718.4L441.8 718.7L442.4 719.1L443.1 719.5L443.8 720.1L444.4 720.7L445.1 721.3L445.7 722.1L446.3 722.8L446.9 723.7L447.5 724.6L448.0 725.6L448.6 726.6L449.1 727.7L449.6 728.8L450.1 730.0L450.6 731.2L451.0 732.5L451.4 733.8L451.8 735.2L452.2 736.6L452.5 738.1L452.8 739.5L453.1 741.0L453.3 742.6L453.6 744.1L453.8 745.7L453.9 747.3L454.1 748.9L454.2 750.5L454.3 752.1L454.3 753.8L454.3 755.4L454.3 759.6L454.2 763.8L454.1 768.0L453.9 772.1L453.8 776.2L453.5 780.3L453.3 784.3L453.0 788.3L452.7 792.2L452.4 796.0L452.0 799.8L451.6 803.5L451.2 807.0L450.7 810.5L450.3 813.9L449.8 817.2L449.3 820.3L448.8 823.4L448.2 826.3L447.6 829.0L447.1 831.6L446.5 834.1L445.9 836.5L445.3 838.6L444.7 840.6L444.1 842.5L443.4 844.2L442.8 845.7L442.2 847.1L441.6 848.2L441.0 849.2L440.4 850.0L439.8 850.7L439.3 851.1L438.7 851.4L438.3 851.5L438.3 851.5L437.9 851.4L437.5 851.1L437.0 850.7L436.5 850.0L436.0 849.2L435.5 848.2L435.0 847.1L434.5 845.7L434.0 844.2L433.4 842.5L432.9 840.6L432.4 838.6L431.9 836.5L431.4 834.1L430.9 831.6L430.4 829.0L429.9 826.3L429.5 823.4L429.0 820.3L428.6 817.2L428.2 813.9L427.8 810.5L427.4 807.0L427.1 803.5L426.8 799.8L426.4 796.0L426.2 792.2L425.9 788.3L425.7 784.3L425.4 780.3L425.3 776.2L425.1 772.1L425.0 768.0L424.9 763.8L424.8 759.6L424.8 755.4L424.8 753.8L424.9 752.1L424.9 750.5L425.0 748.9L425.1 747.3L425.3 745.7L425.4 744.1L425.6 742.6L425.8 741.0L426.1 739.5L426.3 738.1L426.6 736.6L426.9 735.2L427.2 733.8L427.6 732.5L428.0 731.2L428.3 730.0L428.8 728.8L429.2 727.7L429.6 726.6L430.1 725.6L430.6 724.6L431.0 723.7L431.6 722.8L432.1 722.1L432.6 721.3L433.1 720.7L433.7 720.1L434.2 719.5L434.8 719.1L435.4 718.7L436.0 718.4L436.5 718.1L437.1 717.9L437.7 717.8L438.3 717.8Z"/>
<path d="M438.3 718.5L439.0 718.5L439.6 718.6L440.3 718.8L441.0 719.0L441.6 719.3L442.3 719.7L442.9 720.2L443.6 720.7L444.2 721.2L444.8 721.9L445.4 722.5L446.0 723.3L446.6 724.1L447.2 725.0L447.7 725.9L448.2 726.9L448.7 727.9L449.2 729.0L449.7 730.1L450.1 731.3L450.6 732.5L451.0 733.8L451.3 735.1L451.7 736.4L452.0 737.8L452.3 739.2L452.6 740.6L452.8 742.0L453.0 743.5L453.2 745.0L453.4 746.5L453.5 748.1L453.6 749.6L453.7 751.2L453.7 752.7L453.7 754.3L453.7 758.3L453.6 762.4L453.5 766.4L453.3 770.4L453.1 774.4L452.9 778.3L452.6 782.2L452.3 786.0L451.9 789.8L451.6 793.5L451.2 797.1L450.8 800.6L450.4 804.1L449.9 807.5L449.5 810.7L449.0 813.9L448.5 816.9L448.0 819.8L447.5 822.6L446.9 825.3L446.4 827.8L445.8 830.2L445.2 832.5L444.7 834.6L444.1 836.5L443.5 838.3L442.9 839.9L442.4 841.4L441.8 842.7L441.2 843.8L440.7 844.8L440.1 845.6L439.6 846.2L439.1 846.6L438.7 846.9L438.3 847.0L438.3 847.0L438.0 846.9L437.6 846.6L437.2 846.2L436.7 845.6L436.3 844.8L435.8 843.8L435.3 842.7L434.8 841.4L434.3 839.9L433.8 838.3L433.3 836.5L432.8 834.6L432.3 832.5L431.8 830.2L431.4 827.8L430.9 825.3L430.4 822.6L430.0 819.8L429.5 816.9L429.1 813.9L428.7 810.7L428.3 807.5L427.9 804.1L427.5 800.6L427.2 797.1L426.9 793.5L426.5 789.8L426.3 786.0L426.0 782.2L425.8 778.3L425.6 774.4L425.4 770.4L425.2 766.4L425.1 762.4L425.0 758.3L425.0 754.3L425.0 752.7L425.1 751.2L425.1 749.6L425.2 748.1L425.3 746.5L425.5 745.0L425.6 743.5L425.8 742.0L426.0 740.6L426.2 739.2L426.5 737.8L426.8 736.4L427.1 735.1L427.4 733.8L427.7 732.5L428.1 731.3L428.5 730.1L428.9 729.0L429.3 727.9L429.8 726.9L430.2 725.9L430.7 725.0L431.2 724.1L431.7 723.3L432.2 722.5L432.7 721.9L433.2 721.2L433.8 720.7L434.3 720.2L434.9 719.7L435.4 719.3L436.0 719.0L436.6 718.8L437.1 718.6L437.7 718.5L438.3 718.5Z"/>
<path d="M438.3 719.2L438.9 719.2L439.6 719.3L440.2 719.5L440.9 719.7L441.5 720.0L442.1 720.4L442.8 720.8L443.4 721.2L444.0 721.8L444.6 722.4L445.2 723.0L445.7 723.7L446.3 724.5L446.8 725.3L447.4 726.2L447.9 727.1L448.3 728.1L448.8 729.1L449.3 730.2L449.7 731.3L450.1 732.5L450.5 733.7L450.8 734.9L451.2 736.2L451.5 737.5L451.8 738.8L452.0 740.2L452.3 741.5L452.5 742.9L452.7 744.4L452.8 745.8L452.9 747.2L453.0 748.7L453.1 750.2L453.2 751.7L453.2 753.1L453.1 757.0L453.0 760.9L452.8 764.8L452.6 768.7L452.4 772.5L452.1 776.3L451.8 780.0L451.5 783.7L451.2 787.3L450.8 790.9L450.4 794.4L450.0 797.8L449.6 801.2L449.1 804.4L448.7 807.5L448.2 810.6L447.7 813.5L447.2 816.3L446.7 819.0L446.2 821.6L445.7 824.0L445.1 826.3L444.6 828.5L444.1 830.5L443.5 832.4L443.0 834.1L442.4 835.7L441.9 837.1L441.4 838.4L440.9 839.5L440.4 840.4L439.9 841.1L439.4 841.7L439.0 842.2L438.6 842.4L438.3 842.5L438.3 842.5L438.0 842.4L437.7 842.2L437.3 841.7L436.9 841.1L436.5 840.4L436.0 839.5L435.6 838.4L435.1 837.1L434.7 835.7L434.2 834.1L433.7 832.4L433.2 830.5L432.8 828.5L432.3 826.3L431.8 824.0L431.3 821.6L430.9 819.0L430.4 816.3L430.0 813.5L429.6 810.6L429.2 807.5L428.7 804.4L428.4 801.2L428.0 797.8L427.6 794.4L427.3 790.9L427.0 787.3L426.7 783.7L426.4 780.0L426.1 776.3L425.9 772.5L425.7 768.7L425.5 764.8L425.4 760.9L425.3 757.0L425.2 753.1L425.2 751.7L425.2 750.2L425.3 748.7L425.4 747.2L425.5 745.8L425.6 744.4L425.8 742.9L426.0 741.5L426.2 740.2L426.4 738.8L426.7 737.5L427.0 736.2L427.3 734.9L427.6 733.7L427.9 732.5L428.3 731.3L428.6 730.2L429.0 729.1L429.4 728.1L429.9 727.1L430.3 726.2L430.8 725.3L431.3 724.5L431.8 723.7L432.3 723.0L432.8 722.4L433.3 721.8L433.8 721.2L434.4 720.8L434.9 720.4L435.5 720.0L436.0 719.7L436.6 719.5L437.2 719.3L437.7 719.2L438.3 719.2Z"/>
<path d="M438.3 719.9L438.9 719.9L439.5 720.0L440.2 720.2L440.8 720.4L441.4 720.7L442.0 721.0L442.6 721.4L443.2 721.8L443.8 722.3L444.3 722.9L444.9 723.5L445.4 724.2L446.0 724.9L446.5 725.7L447.0 726.5L447.5 727.4L448.0 728.3L448.4 729.3L448.8 730.3L449.3 731.4L449.6 732.5L450.0 733.6L450.4 734.8L450.7 736.0L451.0 737.2L451.3 738.4L451.5 739.7L451.7 741.0L451.9 742.3L452.1 743.7L452.3 745.1L452.4 746.4L452.5 747.8L452.5 749.2L452.6 750.6L452.6 752.0L452.5 755.8L452.4 759.5L452.2 763.3L451.9 767.0L451.7 770.7L451.4 774.4L451.1 778.0L450.8 781.6L450.4 785.1L450.0 788.6L449.6 791.9L449.2 795.2L448.8 798.5L448.3 801.6L447.9 804.7L447.4 807.6L447.0 810.4L446.5 813.2L446.0 815.8L445.5 818.3L445.0 820.6L444.5 822.9L444.0 825.0L443.5 826.9L443.0 828.7L442.5 830.4L442.0 831.9L441.5 833.3L441.0 834.5L440.6 835.6L440.1 836.4L439.7 837.2L439.3 837.8L438.9 838.2L438.5 838.4L438.3 838.5L438.3 838.5L438.1 838.4L437.8 838.2L437.4 837.8L437.1 837.2L436.7 836.4L436.3 835.6L435.8 834.5L435.4 833.3L435.0 831.9L434.5 830.4L434.1 828.7L433.6 826.9L433.2 825.0L432.7 822.9L432.3 820.6L431.8 818.3L431.4 815.8L430.9 813.2L430.5 810.4L430.1 807.6L429.6 804.7L429.2 801.6L428.8 798.5L428.5 795.2L428.1 791.9L427.7 788.6L427.4 785.1L427.1 781.6L426.8 778.0L426.5 774.4L426.2 770.7L426.0 767.0L425.8 763.3L425.6 759.5L425.5 755.8L425.4 752.0L425.4 750.6L425.4 749.2L425.5 747.8L425.6 746.4L425.7 745.1L425.8 743.7L426.0 742.3L426.2 741.0L426.4 739.7L426.6 738.4L426.9 737.2L427.1 736.0L427.4 734.8L427.7 733.6L428.1 732.5L428.4 731.4L428.8 730.3L429.2 729.3L429.6 728.3L430.0 727.4L430.4 726.5L430.9 725.7L431.4 724.9L431.9 724.2L432.3 723.5L432.8 722.9L433.4 722.3L433.9 721.8L434.4 721.4L435.0 721.0L435.5 720.7L436.1 720.4L436.6 720.2L437.2 720.0L437.7 719.9L438.3 719.9Z"/>
</g>
<path d="M438.5 720.5L439.1 720.5L439.7 720.6L440.3 720.8L440.9 721.0L441.5 721.2L442.1 721.6L442.7 722.0L443.3 722.4L443.9 722.9L444.4 723.5L445.0 724.1L445.5 724.7L446.0 725.4L446.5 726.2L447.0 727.0L447.5 727.9L448.0 728.8L448.4 729.7L448.8 730.7L449.2 731.8L449.6 732.8L450.0 733.9L450.3 735.1L450.6 736.2L450.9 737.5L451.2 738.7L451.4 739.9L451.7 741.2L451.9 742.5L452.0 743.8L452.2 745.2L452.3 746.5L452.4 747.9L452.4 749.3L452.5 750.6L452.5 752.0L452.4 755.6L452.3 759.2L452.1 762.8L451.9 766.3L451.6 769.9L451.3 773.4L451.0 776.8L450.7 780.2L450.3 783.6L450.0 786.9L449.6 790.1L449.2 793.2L448.8 796.3L448.3 799.3L447.9 802.2L447.4 805.0L447.0 807.7L446.5 810.3L446.0 812.8L445.5 815.2L445.0 817.5L444.6 819.6L444.1 821.6L443.6 823.4L443.1 825.2L442.6 826.8L442.1 828.2L441.6 829.5L441.2 830.7L440.7 831.7L440.3 832.5L439.8 833.2L439.4 833.8L439.1 834.2L438.7 834.4L438.5 834.5L438.5 834.5L438.3 834.4L438.0 834.2L437.6 833.8L437.3 833.2L436.9 832.5L436.5 831.7L436.1 830.7L435.7 829.5L435.2 828.2L434.8 826.8L434.4 825.2L433.9 823.4L433.5 821.6L433.0 819.6L432.6 817.5L432.1 815.2L431.7 812.8L431.2 810.3L430.8 807.7L430.4 805.0L430.0 802.2L429.6 799.3L429.2 796.3L428.8 793.2L428.4 790.1L428.1 786.9L427.8 783.6L427.4 780.2L427.1 776.8L426.9 773.4L426.6 769.9L426.4 766.3L426.2 762.8L426.0 759.2L425.9 755.6L425.8 752.0L425.8 750.6L425.8 749.3L425.9 747.9L426.0 746.5L426.1 745.2L426.2 743.8L426.4 742.5L426.6 741.2L426.8 739.9L427.0 738.7L427.2 737.5L427.5 736.2L427.8 735.1L428.1 733.9L428.4 732.8L428.8 731.8L429.1 730.7L429.5 729.7L429.9 728.8L430.3 727.9L430.8 727.0L431.2 726.2L431.7 725.4L432.1 724.7L432.6 724.1L433.1 723.5L433.6 722.9L434.2 722.4L434.7 722.0L435.2 721.6L435.8 721.2L436.3 721.0L436.8 720.8L437.4 720.6L437.9 720.5L438.5 720.5Z" fill="#0b0b0b"/>
<path d="M439.0 746v84" stroke="#fff" stroke-width="2" stroke-dasharray="5 2.5 3 2" fill="none"/>
</g>
<g fill="none" stroke="#000" stroke-width="4.4">
<rect x="419.9" y="620" width="52.6" height="121.8"/>
<rect x="472.5" y="620" width="102.6" height="120.4"/>
<rect x="419.9" y="744" width="52.6" height="137.7"/>
</g>
<text x="427.0" y="645.0" font-size="24.5">G</text>
<text x="421.5" y="681.7" font-size="24.5">22%</text>
<text x="480.5" y="645.0" font-size="25.2">S/G2/M</text>
<text x="494.5" y="681.7" font-size="24.5">0.2%</text>
<text x="490.0" y="816.8" font-size="24.5">G0</text>
<text x="490.0" y="846.9" font-size="24.5">75%</text>
<text x="736.9" y="544.3" font-size="42.5" font-weight="bold">e</text>
<text x="765.5" y="736.0" font-size="33" textLength="138.5" lengthAdjust="spacing" text-anchor="middle" transform="rotate(-90 765.5 736.0)">% of cells</text>
<text x="842.5" y="572.7" font-size="33" text-anchor="end">100</text>
<text x="842.5" y="660.0" font-size="33" text-anchor="end">75</text>
<text x="842.5" y="747.3" font-size="33" text-anchor="end">50</text>
<text x="842.5" y="834.7" font-size="33" text-anchor="end">25</text>
<text x="842.5" y="922.1" font-size="33" text-anchor="end">0</text>
<path d="M889.2 910.6V582.2H931.8V910.6" fill="#696969" stroke="#000" stroke-width="6.4" stroke-linejoin="round"/>
<path d="M950.5 910.6V609.2H993.2V910.6" fill="#fff" stroke="#000" stroke-width="6.4" stroke-linejoin="round"/>
<path d="M1035.8 910.6V899.5H1078.7V910.6" fill="#696969" stroke="#000" stroke-width="6.4" stroke-linejoin="round"/>
<path d="M1097.4 910.6V874.4H1139.8V910.6" fill="#fff" stroke="#000" stroke-width="6.4" stroke-linejoin="round"/>
<line x1="854.7" y1="561.0" x2="873.7" y2="561.0" stroke="#000" stroke-width="5"/>
<line x1="854.7" y1="648.3" x2="873.7" y2="648.3" stroke="#000" stroke-width="5"/>
<line x1="854.7" y1="735.6" x2="873.7" y2="735.6" stroke="#000" stroke-width="5"/>
<line x1="854.7" y1="823.0" x2="873.7" y2="823.0" stroke="#000" stroke-width="5"/>
<line x1="854.7" y1="910.4" x2="873.7" y2="910.4" stroke="#000" stroke-width="5"/>
<line x1="873.7" y1="558.5" x2="873.7" y2="913.0" stroke="#000" stroke-width="5"/>
<line x1="854.7" y1="910.6" x2="1303.0" y2="910.6" stroke="#000" stroke-width="5.3"/>
<line x1="940.0" y1="910.0" x2="940.0" y2="930.0" stroke="#000" stroke-width="5"/>
<line x1="1087.2" y1="910.0" x2="1087.2" y2="930.0" stroke="#000" stroke-width="5"/>
<line x1="1234.4" y1="910.0" x2="1234.4" y2="930.0" stroke="#000" stroke-width="5"/>
<text x="942.0" y="967.8" font-size="34.6" text-anchor="middle">G0</text>
<text x="1087.0" y="967.8" font-size="33.5" text-anchor="middle">G1</text>
<text x="1235.7" y="967.8" font-size="33.5" textLength="116.5" lengthAdjust="spacing" text-anchor="middle">S/G2/M</text>
<line x1="972.6" y1="584.7" x2="972.6" y2="606.0" stroke="#000" stroke-width="1.6"/>
<line x1="961.6" y1="584.7" x2="983.6" y2="584.7" stroke="#000" stroke-width="1.6"/>
<line x1="1118.6" y1="853.3" x2="1118.6" y2="872.0" stroke="#000" stroke-width="1.6"/>
<line x1="1105.6" y1="853.3" x2="1131.6" y2="853.3" stroke="#000" stroke-width="1.6"/>
<line x1="906.8" y1="544.0" x2="972.4" y2="544.0" stroke="#000" stroke-width="6.9" stroke-linecap="round"/>
<text x="939.0" y="541.0" font-size="30" text-anchor="middle">**</text>
<line x1="1054.0" y1="811.5" x2="1117.7" y2="811.5" stroke="#000" stroke-width="6.9" stroke-linecap="round"/>
<text x="1085.7" y="806.5" font-size="30" text-anchor="middle">**</text>
<line x1="1203.8" y1="871.4" x2="1263.0" y2="871.4" stroke="#000" stroke-width="6.9" stroke-linecap="round"/>
<text x="1188.0" y="843.5" font-size="30"><tspan font-style="italic">P</tspan> = 0.12</text>
<g fill="#000">
<polygon points="891.2,571.0 900.0,562.2 908.8,571.0 900.0,579.8"/>
<polygon points="903.6,573.0 912.4,564.2 921.2,573.0 912.4,581.8"/>
<polygon points="915.9,579.8 924.7,571.0 933.5,579.8 924.7,588.6"/>
<polygon points="886.2,581.0 895.0,572.2 903.8,581.0 895.0,589.8"/>
<polygon points="897.2,582.0 906.0,573.2 914.8,582.0 906.0,590.8"/>
<polygon points="909.8,584.7 918.6,575.9 927.4,584.7 918.6,593.5"/>
<polygon points="946.2,587.0 955.0,578.2 963.8,587.0 955.0,595.8"/>
<polygon points="962.6,586.0 971.4,577.2 980.2,586.0 971.4,594.8"/>
<polygon points="978.5,595.3 987.3,586.5 996.1,595.3 987.3,604.1"/>
<polygon points="954.7,598.0 963.5,589.2 972.3,598.0 963.5,606.8"/>
<polygon points="970.0,597.0 978.8,588.2 987.6,597.0 978.8,605.8"/>
<polygon points="962.6,619.8 971.4,611.0 980.2,619.8 971.4,628.6"/>
<polygon points="972.2,615.4 981.0,606.6 989.8,615.4 981.0,624.2"/>
<polygon points="962.6,648.6 971.4,639.8 980.2,648.6 971.4,657.4"/>
<polygon points="1038.9,890.5 1047.7,881.7 1056.5,890.5 1047.7,899.3"/>
<polygon points="1051.7,891.0 1060.5,882.2 1069.3,891.0 1060.5,899.8"/>
<polygon points="1064.5,892.3 1073.3,883.5 1082.1,892.3 1073.3,901.1"/>
<polygon points="1033.2,897.5 1042.0,888.7 1050.8,897.5 1042.0,906.3"/>
<polygon points="1045.7,897.5 1054.5,888.7 1063.3,897.5 1054.5,906.3"/>
<polygon points="1058.7,897.5 1067.5,888.7 1076.3,897.5 1067.5,906.3"/>
<polygon points="1109.8,835.0 1118.6,826.2 1127.4,835.0 1118.6,843.8"/>
<polygon points="1109.8,860.2 1118.6,851.4 1127.4,860.2 1118.6,869.0"/>
<polygon points="1117.9,861.4 1126.7,852.6 1135.5,861.4 1126.7,870.2"/>
<polygon points="1101.7,876.5 1110.5,867.7 1119.3,876.5 1110.5,885.3"/>
<polygon points="1093.5,887.0 1102.3,878.2 1111.1,887.0 1102.3,895.8"/>
<polygon points="1109.8,882.3 1118.6,873.5 1127.4,882.3 1118.6,891.1"/>
<polygon points="1123.8,889.3 1132.6,880.5 1141.4,889.3 1132.6,898.1"/>
<polygon points="1181.7,910.7 1191.0,901.4 1200.3,910.7 1191.0,920.0"/>
<polygon points="1186.9,910.7 1196.2,901.4 1205.5,910.7 1196.2,920.0"/>
<polygon points="1192.1,910.7 1201.4,901.4 1210.7,910.7 1201.4,920.0"/>
<polygon points="1197.3,910.7 1206.6,901.4 1215.9,910.7 1206.6,920.0"/>
<polygon points="1202.5,910.7 1211.8,901.4 1221.1,910.7 1211.8,920.0"/>
<polygon points="1207.7,910.7 1217.0,901.4 1226.3,910.7 1217.0,920.0"/>
<polygon points="1243.2,910.7 1252.5,901.4 1261.8,910.7 1252.5,920.0"/>
<polygon points="1247.0,910.7 1256.3,901.4 1265.6,910.7 1256.3,920.0"/>
<polygon points="1250.8,910.7 1260.1,901.4 1269.4,910.7 1260.1,920.0"/>
<polygon points="1254.6,910.7 1263.9,901.4 1273.2,910.7 1263.9,920.0"/>
<polygon points="1258.4,910.7 1267.7,901.4 1277.0,910.7 1267.7,920.0"/>
<polygon points="1262.2,910.7 1271.5,901.4 1280.8,910.7 1271.5,920.0"/>
<polygon points="1266.0,910.7 1275.3,901.4 1284.6,910.7 1275.3,920.0"/>
<polygon points="1269.8,910.7 1279.1,901.4 1288.4,910.7 1279.1,920.0"/>
</g>
<rect x="1113.2" y="569.0" width="38.6" height="37.6" fill="#696969" stroke="#000" stroke-width="6.4"/>
<rect x="1113.2" y="622.8" width="38.6" height="37.8" fill="#fff" stroke="#000" stroke-width="6.4"/>
<text x="1168.5" y="601.6" font-size="30.6">VEH</text>
<text x="1168.5" y="653.3" font-size="31.5">SB</text>
<defs>
<radialGradient id="rg"><stop offset="0.62" stop-color="#fff"/><stop offset="1" stop-color="#000"/></radialGradient>
<radialGradient id="rg2" r="0.72"><stop offset="0.6" stop-color="#fff"/><stop offset="1" stop-color="#000"/></radialGradient>
<mask id="fr" maskContentUnits="objectBoundingBox"><rect width="1" height="1" fill="url(#rg2)"/></mask>
<mask id="fd" maskContentUnits="objectBoundingBox"><rect width="1" height="1" fill="url(#rg)"/></mask>
<pattern id="pB0" width="40" height="40" patternUnits="userSpaceOnUse"><path d="M0 0m15 0h1m5 0h1m1 0h1m2 0h1M0 1m3 0h1m6 0h1m5 0h1m3 0h1m6 0h1M0 2m15 0h1M0 3h1m9 0h1m7 0h1m2 0h1m11 0h2m3 0h1M0 4m4 0h1m19 0h1m9 0h1m1 0h1M0 5m5 0h1M0 6m2 0h2m1 0h1m4 0h1m2 0h1m3 0h1m10 0h1M0 7m1 0h1m28 0h1m4 0h1m1 0h1M0 8m11 0h1m21 0h1M0 9m1 0h1m17 0h1M0 10m26 0h1m10 0h1m1 0h1M0 11m10 0h1m8 0h1m9 0h1M0 12m13 0h1m2 0h1m16 0h1m4 0h1M0 13m11 0h1m2 0h1m6 0h1m11 0h1m1 0h1M0 14m1 0h1m2 0h1m16 0h1M0 15m12 0h2m5 0h2m9 0h1M0 16m10 0h2m5 0h1m2 0h1M0 17m18 0h1m6 0h1m2 0h2m2 0h1M0 18m34 0h1M0 19h1m3 0h1m23 0h1m9 0h1M0 20m16 0h1m3 0h1M0 21m2 0h1m11 0h1m5 0h1M0 22m15 0h1m9 0h1m6 0h1M0 23m18 0h1M0 24m7 0h2m10 0h1m11 0h1M0 25m15 0h1m7 0h1m4 0h1m6 0h1M0 26m11 0h1m3 0h1m5 0h2M0 27m4 0h1m10 0h1m18 0h1m4 0h1M0 28m4 0h1m8 0h1M0 29m5 0h1m6 0h1m5 0h1m7 0h1m5 0h1M0 30h1m4 0h1m6 0h1m6 0h2m13 0h1m2 0h1M0 31m23 0h1m3 0h1M0 32m1 0h1m2 0h1m4 0h1m2 0h1m2 0h1m19 0h2M0 33m11 0h1m2 0h1m18 0h1m2 0h1m1 0h1M0 34m4 0h1m22 0h1m10 0h1M0 35m32 0h2M0 36m3 0h1m23 0h1m10 0h1M0 37m1 0h1m5 0h1m23 0h1M0 38h2m2 0h1m9 0h1m11 0h1m2 0h1m4 0h1m2 0h1M0 39m13 0h1m24 0h1" transform="translate(0 .5)" stroke="#5064cc" stroke-width="1" fill="none"/></pattern>
<pattern id="pB1" width="40" height="40" patternUnits="userSpaceOnUse"><path d="M0 0m8 0h1m14 0h1m10 0h1M0 1m5 0h1m5 0h1m8 0h1m10 0h1M0 2m2 0h1m10 0h1m1 0h2m3 0h1m5 0h1m8 0h1M0 3m3 0h1m2 0h2m10 0h1M0 4m1 0h1m9 0h1m8 0h1m1 0h1m7 0h1M0 5m6 0h1m7 0h1m2 0h2m7 0h1m1 0h1m3 0h1m3 0h1M0 6h1m1 0h2m5 0h1m5 0h1m1 0h1m7 0h2m3 0h1m1 0h2m4 0h1M0 7h1m1 0h1m19 0h1m1 0h1m4 0h1m6 0h1m2 0h1M0 8m12 0h2m8 0h1m7 0h1m1 0h1m4 0h1M0 9m1 0h1m5 0h1m6 0h1m2 0h2m3 0h2m8 0h1m2 0h1M0 10m4 0h1m1 0h1m3 0h1m17 0h1M0 11m1 0h1m2 0h1m4 0h1m3 0h1m5 0h1m13 0h1m4 0h1M0 12m5 0h1m10 0h1m13 0h1m2 0h1m1 0h1m1 0h1M0 13m1 0h1m1 0h2m6 0h1m9 0h1m4 0h1m9 0h1M0 14m3 0h1m2 0h2m2 0h2m6 0h2m6 0h1m10 0h1M0 15m16 0h1m10 0h1m10 0h1M0 16m1 0h1m1 0h1m6 0h1m3 0h1m6 0h1m2 0h1m2 0h1m2 0h1m6 0h1m1 0h1M0 17m4 0h1m12 0h1m2 0h2m3 0h1m6 0h1m1 0h1M0 18m13 0h1m7 0h1m2 0h1m7 0h1m5 0h1M0 19m5 0h1m32 0h1M0 20m6 0h1m1 0h1m8 0h1m1 0h1m10 0h2M0 21m16 0h1m9 0h2m9 0h1M0 22m11 0h2m10 0h1m3 0h2m3 0h1M0 23h1m1 0h2m1 0h2m2 0h1m6 0h1M0 24m20 0h1m9 0h1M0 25m5 0h1m8 0h1m6 0h1m8 0h1m8 0h1M0 26m2 0h1m5 0h2m5 0h1m18 0h1M0 27m12 0h1m1 0h1m3 0h2m4 0h3M0 28m1 0h1m3 0h1m19 0h1m1 0h1M0 29m4 0h1m8 0h1m1 0h2m2 0h1m16 0h1M0 30h1m4 0h1m5 0h2m1 0h1m1 0h2m9 0h1M0 31h1m11 0h1m3 0h2m3 0h1m10 0h1m1 0h1M0 32m2 0h1m1 0h4m2 0h2m3 0h2m2 0h1m2 0h2m2 0h1m4 0h1m3 0h1M0 33m1 0h1m5 0h1m10 0h1m13 0h1m2 0h1m1 0h1M0 34m14 0h3m4 0h1m13 0h1M0 35h2m6 0h3m6 0h1m1 0h1m1 0h3m1 0h1m3 0h1M0 36m2 0h1m5 0h2m15 0h1m1 0h1m1 0h2m8 0h1M0 37m2 0h2m2 0h1m4 0h1m2 0h1m1 0h2m5 0h1m6 0h1m7 0h1M0 38h1m6 0h1m7 0h3m8 0h1M0 39m10 0h1m4 0h2m2 0h1m11 0h1m4 0h2" transform="translate(0 .5)" stroke="#4a5cc8" stroke-width="1" fill="none"/></pattern>
<pattern id="pB2" width="40" height="40" patternUnits="userSpaceOnUse"><path d="M0 0h1m2 0h2m1 0h1m1 0h1m3 0h1m1 0h1m1 0h2m1 0h1m9 0h1m8 0h2M0 1h2m1 0h1m3 0h1m1 0h1m2 0h1m1 0h1m1 0h2m5 0h1m1 0h1m1 0h3m2 0h1m2 0h2m2 0h1M0 2m3 0h4m3 0h3m6 0h1m3 0h1m1 0h6m3 0h5M0 3m1 0h4m1 0h1m2 0h3m2 0h1m1 0h1m2 0h1m5 0h1m1 0h1m1 0h2m3 0h1m3 0h2M0 4h1m4 0h2m1 0h4m2 0h1m1 0h2m1 0h1m1 0h7m1 0h1m1 0h1m2 0h2m3 0h1M0 5m13 0h1m4 0h1m1 0h1m1 0h1m1 0h1m3 0h1m1 0h2m3 0h2m2 0h1M0 6m2 0h1m1 0h2m2 0h1m1 0h1m1 0h2m8 0h2m3 0h1m1 0h4m2 0h3M0 7h2m7 0h1m2 0h1m1 0h1m1 0h2m7 0h1m3 0h2m8 0h1M0 8m1 0h1m4 0h1m3 0h6m4 0h1m4 0h3m1 0h1m9 0h1M0 9m4 0h2m9 0h4m1 0h2m1 0h4m3 0h1m1 0h1m1 0h3m1 0h1M0 10m1 0h1m1 0h3m6 0h2m4 0h1m3 0h1m2 0h1m1 0h2m1 0h3m1 0h1M0 11h1m1 0h1m1 0h2m1 0h1m2 0h1m1 0h1m4 0h1m1 0h1m3 0h1m2 0h1m4 0h2m1 0h1m1 0h3M0 12m3 0h3m3 0h5m2 0h1m1 0h1m2 0h2m2 0h1m1 0h1m3 0h2m4 0h2M0 13h3m1 0h4m3 0h1m1 0h1m2 0h1m1 0h2m1 0h1m5 0h2m1 0h1m1 0h1m2 0h2M0 14h1m1 0h1m2 0h4m3 0h1m1 0h2m4 0h3m1 0h1m8 0h3m3 0h1M0 15m6 0h1m1 0h1m3 0h1m1 0h1m1 0h1m6 0h1m3 0h1m1 0h3m1 0h1m4 0h2M0 16m4 0h2m4 0h2m3 0h4m2 0h2m1 0h1m3 0h1m1 0h1m1 0h1m3 0h1m2 0h1M0 17m1 0h3m1 0h2m1 0h1m1 0h2m8 0h2m1 0h1m3 0h3m9 0h1M0 18h1m3 0h1m3 0h1m1 0h6m1 0h1m5 0h1m2 0h1m6 0h2m3 0h1M0 19m4 0h3m11 0h1m5 0h1m1 0h2m1 0h1m1 0h1m2 0h1m1 0h1M0 20m2 0h2m2 0h1m5 0h1m2 0h1m2 0h1m2 0h3m3 0h1m4 0h1m2 0h2M0 21h1m1 0h1m9 0h1m1 0h2m1 0h3m2 0h5m7 0h2m1 0h1M0 22h1m2 0h1m1 0h3m2 0h1m4 0h1m3 0h2m1 0h3m1 0h2m2 0h1m8 0h1M0 23m1 0h2m1 0h1m1 0h1m7 0h2m3 0h1m1 0h2m1 0h1m2 0h1m1 0h1m1 0h1m6 0h1M0 24h2m3 0h1m1 0h4m2 0h2m2 0h1m1 0h2m2 0h1m4 0h3M0 25m6 0h2m1 0h1m4 0h2m2 0h2m11 0h1m4 0h3M0 26m1 0h1m3 0h2m1 0h2m4 0h1m1 0h2m2 0h1m1 0h3m8 0h2m4 0h1M0 27m2 0h1m4 0h1m2 0h1m1 0h4m6 0h1m1 0h1m1 0h1m2 0h1m1 0h6m1 0h1M0 28h1m10 0h3m1 0h1m1 0h1m4 0h1m1 0h1m4 0h2m1 0h2m3 0h2M0 29m3 0h8m2 0h2m1 0h2m1 0h1m3 0h2m1 0h1m1 0h1m2 0h2M0 30h1m3 0h3m2 0h1m2 0h5m6 0h1m4 0h1m1 0h1m3 0h2m1 0h1M0 31m4 0h2m1 0h1m1 0h1m5 0h1m6 0h2m2 0h1m3 0h1m1 0h1m2 0h5M0 32m2 0h1m8 0h2m3 0h1m1 0h1m3 0h2m1 0h2m3 0h2m3 0h1m1 0h3M0 33m1 0h2m2 0h2m4 0h1m12 0h1m2 0h2m6 0h1m2 0h2M0 34h1m2 0h2m4 0h2m1 0h1m1 0h2m1 0h2m3 0h1m2 0h3m1 0h1m2 0h1m1 0h1m1 0h1M0 35m4 0h2m1 0h3m1 0h1m3 0h4m1 0h2m1 0h1m3 0h1m2 0h1m1 0h1m1 0h3M0 36m1 0h1m5 0h3m1 0h1m1 0h1m1 0h2m1 0h1m2 0h3m1 0h1m2 0h1m1 0h1m2 0h1m1 0h1m1 0h2M0 37m1 0h1m1 0h1m1 0h1m2 0h2m1 0h1m1 0h1m1 0h1m2 0h2m2 0h2m1 0h2m4 0h2m4 0h3M0 38h1m1 0h1m2 0h1m2 0h7m2 0h1m4 0h1m2 0h1m1 0h2m1 0h1m1 0h1M0 39m7 0h2m1 0h1m2 0h2m1 0h1m2 0h1m2 0h1m12 0h3" transform="translate(0 .5)" stroke="#4254c0" stroke-width="1" fill="none"/></pattern>
<pattern id="pC" width="40" height="40" patternUnits="userSpaceOnUse"><path d="M0 0h1m6 0h1m1 0h1m2 0h2m3 0h1m4 0h4m1 0h3m2 0h1m2 0h1m2 0h1M0 1m2 0h1m2 0h2m2 0h2m4 0h2m2 0h7m4 0h1m1 0h1m5 0h1M0 2h1m1 0h1m1 0h2m1 0h2m1 0h1m2 0h1m1 0h1m1 0h2m4 0h3m1 0h3m6 0h2m1 0h1M0 3m1 0h4m1 0h4m3 0h3m4 0h3m1 0h3m1 0h3m1 0h1m1 0h2m3 0h1M0 4m3 0h2m5 0h1m2 0h2m4 0h1m1 0h1m6 0h1m1 0h6m3 0h1M0 5h1m1 0h2m2 0h2m2 0h1m1 0h1m1 0h1m2 0h1m2 0h1m2 0h1m3 0h2m3 0h1m2 0h2M0 6h1m2 0h1m6 0h3m8 0h2m1 0h1m1 0h3m1 0h1m3 0h2M0 7h1m1 0h2m1 0h2m1 0h1m1 0h1m2 0h1m1 0h1m1 0h2m3 0h1m2 0h2m1 0h3m6 0h2M0 8m3 0h4m4 0h4m3 0h2m1 0h1m3 0h2m1 0h2m5 0h4M0 9h2m5 0h1m1 0h1m1 0h4m1 0h3m3 0h2m1 0h2m4 0h1M0 10m3 0h1m6 0h1m2 0h1m3 0h4m4 0h3m11 0h1M0 11h1m2 0h1m2 0h2m2 0h1m1 0h1m2 0h1m4 0h2m1 0h1m1 0h1m1 0h1m2 0h1m1 0h2m3 0h3M0 12m1 0h4m2 0h1m1 0h1m2 0h1m5 0h1m3 0h3m1 0h1m3 0h1m7 0h1M0 13m3 0h3m7 0h4m4 0h2m2 0h1m1 0h1m2 0h1m1 0h1M0 14h1m1 0h2m1 0h1m3 0h1m1 0h1m5 0h1m2 0h1m1 0h2m6 0h2m7 0h1M0 15m2 0h1m2 0h1m8 0h1m2 0h1m1 0h1m1 0h4m5 0h1m2 0h1m3 0h1m1 0h1M0 16h1m1 0h2m11 0h2m2 0h1m1 0h1m3 0h2m1 0h3m3 0h1m1 0h1m1 0h1M0 17h1m3 0h2m1 0h4m1 0h2m2 0h1m5 0h1m1 0h5m1 0h1m2 0h1m1 0h1M0 18h1m2 0h1m3 0h2m5 0h1m2 0h1m3 0h1m1 0h1m1 0h1m1 0h1m4 0h4M0 19h2m1 0h1m1 0h1m2 0h1m1 0h4m2 0h1m1 0h2m3 0h1m4 0h1m2 0h4m2 0h1M0 20h2m4 0h1m8 0h2m2 0h1m3 0h1m3 0h1m7 0h1m1 0h1m1 0h1M0 21h3m1 0h1m1 0h2m1 0h1m1 0h1m1 0h2m2 0h1m1 0h1m1 0h1m3 0h1m6 0h2M0 22m1 0h3m5 0h2m1 0h1m2 0h2m2 0h1m1 0h1m2 0h3m3 0h1m1 0h1m3 0h2m1 0h1M0 23h1m1 0h2m1 0h1m1 0h1m2 0h1m2 0h1m1 0h1m1 0h1m3 0h1m3 0h2m4 0h1m1 0h1m3 0h3M0 24h3m1 0h1m1 0h1m1 0h1m1 0h2m1 0h3m3 0h1m1 0h1m1 0h2m1 0h1m5 0h1m2 0h1m1 0h1M0 25m3 0h1m2 0h1m5 0h1m2 0h1m2 0h1m1 0h2m2 0h2m7 0h2m1 0h1m1 0h1M0 26m1 0h2m4 0h2m1 0h3m2 0h3m5 0h1m1 0h1m1 0h2m1 0h1m1 0h1m2 0h3M0 27m1 0h5m1 0h1m1 0h3m5 0h2m5 0h1m9 0h1M0 28h1m2 0h2m4 0h9m2 0h1m1 0h1m1 0h1m8 0h2m3 0h1M0 29h1m1 0h3m4 0h7m1 0h1m2 0h1m1 0h1m3 0h1m11 0h2M0 30m2 0h1m1 0h2m1 0h1m1 0h1m1 0h1m3 0h1m1 0h2m1 0h3m1 0h2m3 0h3m1 0h3m2 0h2M0 31h1m2 0h2m1 0h1m1 0h3m2 0h2m1 0h1m1 0h1m2 0h1m2 0h1m1 0h1m3 0h2m2 0h1m2 0h1m1 0h1M0 32h3m1 0h1m1 0h1m1 0h1m6 0h1m6 0h2m1 0h1m4 0h1m5 0h3M0 33m2 0h5m2 0h2m2 0h1m5 0h1m1 0h3m2 0h2m3 0h1m3 0h1m1 0h2M0 34h3m1 0h2m1 0h1m1 0h3m2 0h5m1 0h3m1 0h2m3 0h1m2 0h2m2 0h1m1 0h2M0 35m3 0h3m2 0h1m2 0h1m1 0h2m3 0h1m1 0h1m7 0h2m1 0h2m3 0h4M0 36h2m3 0h1m1 0h1m2 0h1m1 0h1m3 0h2m2 0h1m3 0h3m1 0h1m1 0h1m1 0h1m3 0h1m1 0h2M0 37m1 0h1m2 0h1m4 0h1m1 0h1m1 0h2m2 0h1m2 0h1m3 0h3m1 0h1m1 0h1m1 0h1m2 0h4M0 38m1 0h2m5 0h1m3 0h4m1 0h4m3 0h1m1 0h1m1 0h2m5 0h3m1 0h1M0 39h4m3 0h1m2 0h1m1 0h4m4 0h2m1 0h1m1 0h3m6 0h1m1 0h3" transform="translate(0 .5)" stroke="#4fb4e4" stroke-width="1" fill="none"/></pattern>
<pattern id="pG" width="40" height="40" patternUnits="userSpaceOnUse"><path d="M0 0m2 0h1m2 0h2m1 0h1m2 0h3m2 0h3m3 0h1m1 0h2m3 0h1m4 0h4m1 0h1M0 1m2 0h2m1 0h1m2 0h2m2 0h1m1 0h1m4 0h3m1 0h7m1 0h2m2 0h5M0 2m1 0h2m1 0h1m5 0h1m1 0h6m2 0h2m2 0h4m1 0h2m2 0h3m1 0h1M0 3m1 0h1m1 0h2m1 0h2m4 0h1m1 0h7m1 0h3m1 0h1m1 0h1m3 0h1m3 0h3M0 4m3 0h1m1 0h1m1 0h2m1 0h1m2 0h1m6 0h2m1 0h1m1 0h3m4 0h7M0 5h1m1 0h4m1 0h3m2 0h2m5 0h1m2 0h1m2 0h3m1 0h2m1 0h2m1 0h1m1 0h2M0 6m1 0h1m4 0h3m5 0h3m1 0h2m1 0h6m1 0h3m1 0h1m1 0h1m1 0h1m1 0h2M0 7m1 0h11m1 0h1m7 0h1m1 0h2m1 0h1m1 0h2m3 0h2m2 0h1M0 8m1 0h3m1 0h3m2 0h2m5 0h1m2 0h2m4 0h1m2 0h1m4 0h2m1 0h2M0 9m1 0h2m3 0h3m2 0h1m3 0h4m4 0h1m1 0h1m2 0h3m1 0h1m1 0h1m1 0h2m1 0h1M0 10h1m5 0h2m1 0h1m1 0h1m1 0h1m1 0h2m4 0h1m1 0h2m1 0h2m5 0h3m2 0h2M0 11m2 0h1m1 0h2m3 0h3m1 0h1m2 0h1m1 0h2m1 0h1m2 0h5m2 0h1m3 0h4M0 12h2m1 0h1m1 0h3m4 0h1m1 0h5m2 0h1m2 0h1m1 0h2m1 0h9m1 0h1M0 13h2m1 0h3m2 0h1m1 0h1m2 0h1m1 0h3m1 0h5m1 0h2m1 0h3m2 0h1m1 0h1m3 0h1M0 14m2 0h1m1 0h1m1 0h4m1 0h3m5 0h5m1 0h1m2 0h2m2 0h1m5 0h2M0 15h1m1 0h1m1 0h2m1 0h1m1 0h1m1 0h1m4 0h1m1 0h1m2 0h3m2 0h1m2 0h1m1 0h3m1 0h1m1 0h2M0 16h6m1 0h2m1 0h1m4 0h3m2 0h1m1 0h3m1 0h3m1 0h1m1 0h4m1 0h2M0 17h1m3 0h1m4 0h1m2 0h1m1 0h2m4 0h6m1 0h1m2 0h1m2 0h1m2 0h3M0 18m4 0h4m2 0h2m1 0h9m1 0h1m1 0h2m1 0h4m1 0h2m1 0h2M0 19h1m1 0h2m2 0h1m1 0h3m1 0h2m1 0h2m2 0h5m1 0h1m2 0h4m1 0h2m1 0h1m2 0h1M0 20h1m1 0h1m4 0h2m3 0h7m1 0h2m2 0h1m1 0h1m1 0h1m2 0h1m4 0h2m1 0h1M0 21h1m1 0h2m1 0h1m1 0h1m1 0h1m2 0h4m2 0h1m2 0h3m1 0h3m2 0h4m1 0h1m1 0h3M0 22h1m2 0h3m1 0h1m2 0h2m1 0h1m1 0h2m1 0h1m2 0h2m1 0h2m3 0h5m2 0h4M0 23h4m2 0h2m2 0h1m2 0h1m2 0h1m1 0h1m1 0h2m1 0h1m1 0h1m2 0h1m3 0h2m1 0h2m2 0h1M0 24h4m1 0h2m1 0h3m1 0h1m1 0h7m1 0h1m2 0h6m1 0h2m1 0h1m2 0h2M0 25m1 0h3m1 0h3m2 0h5m1 0h3m1 0h1m1 0h2m1 0h1m2 0h1m2 0h1m1 0h2m1 0h1m1 0h1M0 26h1m4 0h1m3 0h3m2 0h1m1 0h1m5 0h4m3 0h1m1 0h2m2 0h1m3 0h1M0 27h1m1 0h16m1 0h3m3 0h3m1 0h1m3 0h3m1 0h1m1 0h1M0 28m2 0h3m1 0h3m1 0h1m1 0h4m1 0h1m4 0h5m5 0h1m1 0h1m2 0h2M0 29h2m1 0h2m1 0h6m2 0h1m3 0h1m5 0h1m2 0h4m1 0h2m3 0h3M0 30m2 0h2m2 0h7m1 0h2m3 0h1m4 0h3m1 0h4m2 0h2m2 0h1M0 31m5 0h8m1 0h1m4 0h1m2 0h4m2 0h3m1 0h1m1 0h2m2 0h2M0 32m3 0h3m4 0h1m2 0h1m1 0h2m1 0h2m2 0h3m4 0h2m5 0h1m1 0h1M0 33m2 0h3m3 0h1m1 0h2m2 0h1m1 0h3m2 0h4m1 0h3m2 0h3m2 0h2m1 0h1M0 34m3 0h1m8 0h4m1 0h3m3 0h6m1 0h3m1 0h1m1 0h3M0 35h1m1 0h2m2 0h1m4 0h3m2 0h1m2 0h1m2 0h1m4 0h2m1 0h4m1 0h3m1 0h1M0 36h3m1 0h2m4 0h3m1 0h3m1 0h2m2 0h2m1 0h6m3 0h2m1 0h3M0 37m7 0h3m2 0h1m3 0h1m1 0h9m1 0h3m3 0h2m1 0h3M0 38h4m1 0h4m1 0h1m2 0h2m1 0h1m4 0h5m4 0h1m1 0h3m1 0h1m1 0h2M0 39h5m2 0h4m1 0h1m2 0h2m4 0h2m2 0h3m3 0h3m2 0h1m1 0h2" transform="translate(0 .5)" stroke="#74cc3c" stroke-width="1" fill="none"/></pattern>
<pattern id="pY" width="40" height="40" patternUnits="userSpaceOnUse"><path d="M0 0m1 0h1m3 0h4m1 0h1m1 0h4m1 0h2m1 0h8m1 0h1m1 0h1m3 0h3m1 0h1M0 1h1m1 0h1m1 0h2m2 0h2m1 0h1m1 0h4m1 0h1m1 0h1m3 0h2m1 0h5m3 0h4M0 2h3m1 0h1m1 0h1m1 0h4m1 0h2m3 0h5m1 0h4m1 0h1m1 0h1m2 0h1m2 0h1M0 3h1m1 0h1m1 0h1m2 0h2m2 0h1m1 0h3m1 0h2m1 0h2m1 0h1m1 0h1m3 0h4m1 0h6M0 4h2m1 0h2m1 0h1m2 0h3m1 0h1m3 0h3m1 0h4m1 0h1m1 0h1m1 0h1m1 0h3m1 0h2m1 0h1M0 5m3 0h3m8 0h3m1 0h1m1 0h1m5 0h1m1 0h2m1 0h3m3 0h3M0 6h2m1 0h1m4 0h1m2 0h3m1 0h2m2 0h2m2 0h1m3 0h3m5 0h1m1 0h3M0 7h1m1 0h2m2 0h1m2 0h2m3 0h3m2 0h1m1 0h1m3 0h2m1 0h1m5 0h6M0 8h3m4 0h2m1 0h5m1 0h1m1 0h1m1 0h1m1 0h1m1 0h1m1 0h4m1 0h3m3 0h1M0 9m1 0h3m1 0h3m1 0h2m1 0h4m2 0h4m3 0h1m1 0h2m2 0h6M0 10m3 0h2m2 0h1m3 0h1m2 0h1m1 0h1m3 0h5m2 0h2m2 0h1m1 0h2m2 0h1M0 11m4 0h1m9 0h5m2 0h4m1 0h1m2 0h2m1 0h5m2 0h1M0 12h3m2 0h2m3 0h1m1 0h1m2 0h2m2 0h1m5 0h2m1 0h1m2 0h1m1 0h3m1 0h3M0 13m2 0h2m1 0h1m1 0h3m1 0h9m1 0h4m1 0h2m1 0h3m2 0h2m1 0h3M0 14m1 0h1m5 0h1m1 0h1m2 0h1m1 0h1m3 0h2m2 0h1m1 0h1m1 0h2m1 0h1m1 0h1m2 0h1m3 0h2M0 15h4m3 0h3m2 0h1m1 0h2m1 0h1m2 0h1m2 0h2m4 0h1m3 0h3m1 0h3M0 16h3m2 0h2m1 0h1m2 0h4m1 0h2m1 0h1m1 0h4m5 0h3m2 0h2m1 0h2M0 17h2m2 0h7m1 0h1m1 0h3m3 0h1m1 0h3m1 0h5m1 0h6M0 18m1 0h1m1 0h1m2 0h1m2 0h4m2 0h1m2 0h3m2 0h3m1 0h1m1 0h1m2 0h2m1 0h1m1 0h1M0 19h4m3 0h2m1 0h3m1 0h5m1 0h1m2 0h5m1 0h1m1 0h2m1 0h3M0 20h1m2 0h4m3 0h4m1 0h3m3 0h1m1 0h3m1 0h1m1 0h2m3 0h1m1 0h1m1 0h2M0 21m1 0h3m1 0h8m1 0h1m2 0h2m1 0h1m2 0h2m1 0h1m2 0h3m1 0h1m1 0h1m1 0h1M0 22m2 0h1m1 0h1m3 0h1m1 0h1m1 0h2m2 0h1m1 0h4m1 0h2m2 0h1m1 0h2m1 0h1m1 0h3m1 0h1M0 23h1m1 0h1m1 0h2m1 0h2m3 0h2m2 0h5m3 0h2m3 0h2m1 0h1m1 0h1m1 0h4M0 24h2m1 0h7m1 0h5m5 0h3m1 0h1m1 0h2m2 0h3m1 0h1m1 0h1m1 0h1M0 25m1 0h1m1 0h1m1 0h1m3 0h1m1 0h2m1 0h6m1 0h1m6 0h1m1 0h3m1 0h4m1 0h1M0 26h1m2 0h6m1 0h1m1 0h1m1 0h1m2 0h1m2 0h12m1 0h2m1 0h3M0 27h1m1 0h1m3 0h1m1 0h1m1 0h3m1 0h2m1 0h1m1 0h3m1 0h1m2 0h1m2 0h2m1 0h1m1 0h3m1 0h2M0 28h1m2 0h1m1 0h5m1 0h1m1 0h1m2 0h5m6 0h5m2 0h2m2 0h2M0 29h1m1 0h3m1 0h1m3 0h7m1 0h3m1 0h3m3 0h1m2 0h1m4 0h1M0 30m3 0h1m1 0h2m1 0h1m4 0h3m1 0h2m1 0h1m4 0h1m2 0h12M0 31h2m1 0h1m1 0h1m1 0h4m1 0h2m1 0h7m1 0h1m3 0h2m2 0h1m3 0h1m1 0h1m1 0h1M0 32h4m5 0h1m5 0h5m1 0h1m4 0h3m2 0h4m1 0h2m1 0h1M0 33h2m5 0h7m1 0h2m4 0h3m1 0h1m1 0h7m1 0h2m1 0h2M0 34m1 0h4m1 0h4m1 0h5m3 0h1m1 0h2m3 0h2m1 0h3m2 0h1M0 35h2m1 0h1m1 0h2m2 0h4m2 0h1m2 0h1m2 0h2m2 0h1m2 0h1m1 0h4m1 0h1M0 36m1 0h4m2 0h3m2 0h2m2 0h3m3 0h7m4 0h3m1 0h2M0 37h1m1 0h1m2 0h1m1 0h4m2 0h1m2 0h4m1 0h2m1 0h2m3 0h5m2 0h1m1 0h2M0 38h2m2 0h1m1 0h2m1 0h8m1 0h1m4 0h2m1 0h2m1 0h6m2 0h1m1 0h1M0 39m2 0h1m1 0h1m1 0h7m2 0h4m2 0h1m1 0h1m3 0h3m2 0h2m1 0h1" transform="translate(0 .5)" stroke="#ece41c" stroke-width="1" fill="none"/></pattern>
<pattern id="pO" width="40" height="40" patternUnits="userSpaceOnUse"><path d="M0 0m2 0h1m2 0h2m1 0h7m1 0h2m2 0h1m1 0h2m3 0h5m1 0h1m1 0h3M0 1h2m2 0h1m1 0h1m1 0h1m2 0h3m3 0h1m1 0h1m1 0h2m1 0h1m1 0h7m2 0h3m1 0h1M0 2m1 0h2m1 0h1m2 0h14m2 0h1m2 0h1m2 0h4m1 0h4M0 3h1m2 0h1m1 0h1m1 0h3m2 0h1m2 0h1m2 0h1m1 0h2m2 0h1m1 0h1m1 0h1m2 0h1m1 0h1m2 0h3M0 4m1 0h5m1 0h8m1 0h3m4 0h3m4 0h3m4 0h1M0 5m2 0h2m1 0h1m3 0h1m3 0h1m2 0h3m1 0h3m1 0h1m1 0h9m4 0h1M0 6m1 0h5m2 0h2m4 0h1m1 0h8m2 0h4m2 0h1m1 0h3m2 0h1M0 7m1 0h1m4 0h3m4 0h2m6 0h2m1 0h1m2 0h7m4 0h2M0 8m3 0h1m1 0h2m1 0h2m1 0h2m1 0h1m1 0h2m1 0h1m1 0h3m1 0h4m1 0h1m5 0h1m2 0h1M0 9h1m2 0h2m2 0h2m2 0h1m3 0h1m1 0h3m1 0h1m2 0h2m3 0h4m1 0h1m1 0h1M0 10m1 0h1m1 0h1m1 0h6m1 0h4m1 0h1m1 0h1m1 0h2m1 0h1m2 0h6m4 0h2M0 11m1 0h3m4 0h1m2 0h2m2 0h1m1 0h1m1 0h1m2 0h1m1 0h2m1 0h1m3 0h4m2 0h1m1 0h1M0 12m1 0h2m1 0h2m2 0h1m1 0h1m1 0h1m4 0h4m1 0h2m1 0h1m2 0h2m2 0h1m4 0h1M0 13m4 0h2m2 0h5m1 0h4m4 0h1m3 0h4m5 0h1m1 0h2M0 14m1 0h1m2 0h6m2 0h3m1 0h1m1 0h2m1 0h2m1 0h4m1 0h2m2 0h1m1 0h3m1 0h1M0 15h5m1 0h1m1 0h2m1 0h7m1 0h1m1 0h3m1 0h3m1 0h1m1 0h1m3 0h1m1 0h1M0 16h4m1 0h3m6 0h1m1 0h2m1 0h2m2 0h2m1 0h3m1 0h1m1 0h2m3 0h2M0 17m1 0h3m2 0h1m2 0h2m1 0h1m1 0h2m1 0h2m1 0h1m2 0h1m1 0h2m1 0h2m1 0h1m1 0h1m3 0h3M0 18m1 0h1m2 0h2m2 0h3m1 0h1m2 0h2m1 0h6m1 0h1m1 0h2m3 0h1m1 0h1m2 0h1M0 19m2 0h2m1 0h1m1 0h2m2 0h4m1 0h2m1 0h1m6 0h6m1 0h3m2 0h2M0 20m1 0h2m2 0h3m2 0h7m2 0h1m1 0h2m1 0h4m1 0h1m1 0h6m2 0h1M0 21h3m1 0h1m1 0h9m2 0h2m2 0h1m2 0h2m1 0h1m1 0h2m2 0h1m1 0h1M0 22m1 0h2m1 0h2m1 0h1m3 0h1m1 0h1m2 0h1m1 0h3m2 0h1m2 0h1m1 0h4m1 0h4m1 0h1M0 23m1 0h6m3 0h1m2 0h4m2 0h5m2 0h1m2 0h1m2 0h3m1 0h1m2 0h1M0 24h1m2 0h1m1 0h1m5 0h4m3 0h1m3 0h1m1 0h3m3 0h1m1 0h1m2 0h2M0 25m1 0h2m1 0h1m2 0h3m2 0h1m1 0h1m2 0h1m1 0h2m6 0h3m2 0h2m2 0h1m2 0h1M0 26m6 0h1m1 0h1m1 0h3m3 0h3m3 0h7m1 0h2m1 0h1m2 0h1m1 0h2M0 27m1 0h1m1 0h1m1 0h1m6 0h1m1 0h3m1 0h1m5 0h1m2 0h1m1 0h3m2 0h1m1 0h1M0 28h3m1 0h1m5 0h1m3 0h2m2 0h3m7 0h1m1 0h1m1 0h1m2 0h2m1 0h1M0 29h2m3 0h1m4 0h1m5 0h1m2 0h2m1 0h3m1 0h1m4 0h5m1 0h1m1 0h1M0 30m2 0h3m1 0h1m1 0h1m2 0h1m1 0h3m1 0h1m1 0h3m3 0h2m2 0h1m4 0h3m2 0h1M0 31h1m1 0h1m1 0h1m1 0h1m2 0h1m1 0h1m2 0h1m3 0h2m3 0h1m1 0h1m3 0h1m1 0h9M0 32h1m1 0h5m1 0h1m4 0h1m1 0h1m1 0h1m1 0h1m1 0h1m2 0h1m2 0h1m1 0h2m2 0h2m2 0h1m1 0h1M0 33m2 0h2m4 0h1m2 0h3m1 0h1m1 0h4m2 0h2m4 0h1m3 0h3M0 34h1m4 0h2m1 0h2m1 0h1m4 0h1m2 0h2m1 0h2m3 0h1m2 0h1m1 0h3m2 0h1m1 0h1M0 35m6 0h1m2 0h9m3 0h2m1 0h2m3 0h1m3 0h1m3 0h2M0 36m1 0h1m1 0h2m3 0h2m3 0h1m1 0h2m2 0h1m2 0h1m2 0h3m1 0h1m1 0h1m1 0h1m1 0h5M0 37m4 0h1m1 0h3m2 0h2m5 0h1m3 0h1m1 0h1m1 0h1m2 0h1m1 0h2m2 0h1m1 0h1M0 38h3m4 0h2m2 0h1m4 0h1m1 0h3m1 0h1m1 0h1m3 0h2m1 0h1m1 0h2m1 0h4M0 39h2m1 0h2m2 0h5m2 0h3m1 0h2m2 0h1m4 0h1m3 0h1m1 0h1" transform="translate(0 .5)" stroke="#f89a18" stroke-width="1" fill="none"/></pattern>
<pattern id="pR" width="40" height="40" patternUnits="userSpaceOnUse"><path d="M0 0h1m1 0h1m1 0h1m4 0h1m6 0h1m1 0h1m2 0h2m2 0h1m1 0h1m1 0h1m2 0h1m1 0h3m1 0h2M0 1h6m5 0h1m2 0h1m1 0h3m1 0h1m2 0h2m1 0h2m1 0h1m1 0h1m1 0h1m1 0h1m2 0h1M0 2h2m3 0h1m1 0h2m1 0h4m1 0h3m2 0h2m3 0h1m1 0h4m1 0h5m1 0h2M0 3m2 0h4m1 0h1m1 0h1m1 0h8m1 0h1m2 0h1m2 0h1m2 0h3m5 0h1M0 4m4 0h1m3 0h5m1 0h1m2 0h1m3 0h1m2 0h2m4 0h1m2 0h2m1 0h1m1 0h1M0 5m1 0h2m1 0h1m1 0h4m3 0h1m1 0h2m2 0h2m2 0h3m3 0h1m2 0h4m1 0h3M0 6m1 0h2m2 0h2m1 0h1m1 0h1m2 0h1m3 0h1m1 0h1m2 0h1m1 0h5m2 0h1m2 0h4M0 7m3 0h3m3 0h4m1 0h3m1 0h5m1 0h2m1 0h3m2 0h2m4 0h2M0 8h2m3 0h2m3 0h2m1 0h1m1 0h1m1 0h1m1 0h1m1 0h3m2 0h2m1 0h2m3 0h2m2 0h1M0 9m3 0h2m1 0h2m2 0h3m1 0h3m3 0h3m1 0h1m1 0h3m2 0h1m1 0h1m2 0h4M0 10h1m2 0h2m2 0h3m1 0h1m2 0h1m1 0h4m2 0h2m3 0h1m2 0h1m1 0h1m1 0h2m1 0h1m1 0h1M0 11h2m1 0h1m1 0h2m1 0h2m1 0h8m3 0h4m1 0h2m1 0h1m1 0h3m1 0h2M0 12h1m4 0h1m1 0h1m4 0h1m4 0h3m1 0h3m1 0h4m1 0h1m1 0h3m2 0h2M0 13h2m1 0h1m1 0h1m3 0h6m1 0h5m1 0h1m2 0h1m3 0h3m1 0h1m1 0h2M0 14h1m2 0h2m1 0h3m2 0h5m2 0h8m1 0h3m1 0h3m1 0h2m1 0h2M0 15m2 0h1m1 0h4m1 0h1m1 0h1m2 0h1m1 0h1m2 0h4m3 0h1m3 0h3m2 0h1M0 16m5 0h2m1 0h3m1 0h2m4 0h3m3 0h1m2 0h2m3 0h4m1 0h1m1 0h1M0 17h4m1 0h3m1 0h2m2 0h3m1 0h1m2 0h1m1 0h2m1 0h2m3 0h1m1 0h7M0 18h1m3 0h7m2 0h1m1 0h1m3 0h1m1 0h3m1 0h1m1 0h1m2 0h3m3 0h2m1 0h1M0 19h1m1 0h2m2 0h1m1 0h1m2 0h5m1 0h4m1 0h4m4 0h1m2 0h1m3 0h2M0 20h1m1 0h3m1 0h5m3 0h4m1 0h1m5 0h1m4 0h1m2 0h1M0 21m3 0h1m1 0h4m3 0h2m1 0h1m2 0h1m4 0h1m1 0h1m3 0h1m1 0h2m2 0h1m2 0h2M0 22m2 0h1m7 0h2m4 0h1m2 0h4m2 0h1m2 0h2m2 0h2m1 0h4M0 23m3 0h2m4 0h1m2 0h1m1 0h2m1 0h2m2 0h1m4 0h6m1 0h5m1 0h1M0 24h3m1 0h1m1 0h2m1 0h2m3 0h1m2 0h2m1 0h3m1 0h1m1 0h2m1 0h1m1 0h2m1 0h3m1 0h1M0 25m2 0h6m3 0h5m2 0h3m5 0h1m1 0h4m2 0h1m1 0h2m1 0h1M0 26m1 0h1m1 0h1m2 0h9m1 0h7m2 0h1m2 0h3m4 0h1m3 0h1M0 27h1m1 0h1m3 0h3m1 0h2m2 0h5m1 0h1m1 0h1m1 0h4m2 0h1m1 0h1m2 0h5M0 28m1 0h1m2 0h2m1 0h1m3 0h6m1 0h1m3 0h8m1 0h1m1 0h2m1 0h2m1 0h1M0 29h1m3 0h9m1 0h2m4 0h3m2 0h1m2 0h7m1 0h1M0 30h2m1 0h2m1 0h2m1 0h4m1 0h2m3 0h3m1 0h1m2 0h3m1 0h1m1 0h1m1 0h2m1 0h2M0 31m4 0h1m1 0h1m3 0h1m1 0h3m3 0h2m2 0h1m2 0h2m3 0h2m2 0h3m2 0h1M0 32m2 0h3m2 0h2m1 0h1m3 0h1m1 0h1m1 0h4m2 0h1m1 0h2m2 0h2m2 0h1m1 0h3M0 33m2 0h1m4 0h4m6 0h2m1 0h3m5 0h3m3 0h2m3 0h1M0 34h3m2 0h3m3 0h1m6 0h2m3 0h5m1 0h2m1 0h2m1 0h2m2 0h1M0 35m1 0h3m1 0h1m3 0h1m1 0h1m3 0h1m2 0h2m1 0h2m5 0h1m1 0h2m1 0h1m2 0h2m1 0h1M0 36h5m1 0h3m3 0h1m2 0h4m1 0h2m7 0h2m2 0h1m4 0h1M0 37h5m1 0h5m4 0h7m3 0h1m4 0h2m2 0h1m1 0h3M0 38h1m1 0h4m1 0h2m3 0h1m3 0h2m1 0h7m1 0h4m1 0h1m1 0h1m1 0h2M0 39m1 0h1m1 0h3m1 0h2m1 0h1m3 0h8m1 0h3m1 0h6m1 0h2m2 0h1" transform="translate(0 .5)" stroke="#e63a12" stroke-width="1" fill="none"/></pattern>
<pattern id="pG1" width="40" height="40" patternUnits="userSpaceOnUse"><path d="M0 0m5 0h1m5 0h2m2 0h1m5 0h4m9 0h1m1 0h1M0 1h1m6 0h2m9 0h1m3 0h1M0 2h2m1 0h1m2 0h1m19 0h1m2 0h2m3 0h2m2 0h2M0 3m1 0h1m2 0h1m9 0h1m7 0h1m8 0h2m1 0h1m4 0h1M0 4h1m1 0h1m3 0h1m2 0h3m1 0h1m10 0h1m1 0h1m1 0h3M0 5h1m2 0h1m2 0h4m2 0h1m3 0h2m4 0h1m1 0h1m2 0h2m4 0h2m1 0h2M0 6h1m2 0h1m1 0h2m1 0h1m3 0h2m4 0h1m2 0h1m1 0h1m5 0h1m1 0h1m1 0h1m1 0h1m2 0h1M0 7m7 0h1m1 0h2m5 0h1m2 0h3m1 0h2m6 0h1m2 0h2M0 8m1 0h1m5 0h1m10 0h1m1 0h1m1 0h1m3 0h1m3 0h2M0 9h1m2 0h1m5 0h1m3 0h2m6 0h1m1 0h2m3 0h1m2 0h1m3 0h1M0 10m1 0h1m1 0h2m3 0h2m1 0h1m1 0h2m7 0h2m3 0h1m4 0h1m1 0h2M0 11m1 0h1m4 0h1m1 0h1m1 0h1m10 0h1m1 0h1m1 0h1m1 0h1m3 0h1m3 0h3M0 12m7 0h1m2 0h1m2 0h1m3 0h1m2 0h1m1 0h1M0 13m3 0h1m3 0h1m1 0h2m1 0h2m7 0h2m1 0h1m5 0h1m2 0h2m3 0h1M0 14m3 0h1m3 0h1m6 0h1m1 0h1m4 0h1m2 0h2M0 15m1 0h1m3 0h1m2 0h1m4 0h1m3 0h1m1 0h1m12 0h3m1 0h1m1 0h1M0 16h1m3 0h1m17 0h1m1 0h1m5 0h2m1 0h1m1 0h1m1 0h2M0 17m3 0h1m7 0h1m4 0h1m7 0h1m4 0h1m3 0h2m3 0h1M0 18h1m4 0h1m1 0h1m2 0h1m1 0h1m3 0h1m4 0h2m5 0h1m2 0h4m1 0h1m2 0h1M0 19m1 0h1m5 0h1m2 0h1m28 0h1M0 20m1 0h1m1 0h2m7 0h1m8 0h1m9 0h2m5 0h1M0 21m2 0h1m7 0h1m4 0h1m8 0h1m7 0h1m1 0h1m1 0h2M0 22m6 0h1m1 0h1m1 0h1m5 0h1m6 0h1m1 0h2m4 0h1m6 0h2M0 23m7 0h2m1 0h3m7 0h1m6 0h1m4 0h1m1 0h1M0 24m1 0h1m1 0h1m6 0h2m2 0h1m4 0h1m10 0h3m2 0h1M0 25h1m6 0h2m5 0h1m3 0h1m1 0h2m1 0h1m9 0h1M0 26h1m2 0h1m5 0h2m4 0h1m3 0h1m2 0h1m3 0h1M0 27h1m17 0h2m2 0h1m1 0h2m6 0h2M0 28h1m2 0h3m1 0h2m5 0h1m4 0h2m11 0h1m3 0h1m1 0h1M0 29m2 0h3m4 0h1m1 0h1m3 0h1m5 0h3m7 0h1m1 0h2m1 0h1m2 0h1M0 30m2 0h3m2 0h1m7 0h1m2 0h1m3 0h2m3 0h1m2 0h1M0 31h1m2 0h2m3 0h1m1 0h2m4 0h1m2 0h1m4 0h1m2 0h1m1 0h1M0 32m1 0h3m2 0h2m2 0h1m1 0h1m3 0h1m1 0h1m16 0h1M0 33m2 0h1m5 0h3m5 0h2m3 0h1m1 0h3m5 0h1m4 0h1M0 34m1 0h1m2 0h1m3 0h1m2 0h2m3 0h1m3 0h1m1 0h3m8 0h1m3 0h2M0 35h1m4 0h1m4 0h1m7 0h1m6 0h3m1 0h1m1 0h1m2 0h1M0 36m1 0h2m5 0h1m2 0h1m8 0h1m4 0h1m4 0h3m3 0h2m1 0h1M0 37m2 0h1m10 0h1m4 0h1m3 0h1m5 0h3m1 0h1m5 0h1M0 38m2 0h1m1 0h3m2 0h1m8 0h2m2 0h1m3 0h1m1 0h2m4 0h2m2 0h1M0 39m2 0h1m1 0h1m5 0h2m11 0h1m1 0h2m8 0h1" transform="translate(0 .5)" stroke="#74cc3c" stroke-width="1" fill="none"/></pattern>
<pattern id="pY1" width="40" height="40" patternUnits="userSpaceOnUse"><path d="M0 0m4 0h2m3 0h1m5 0h2m1 0h1m6 0h1m2 0h2m6 0h1M0 1m3 0h1m6 0h1m2 0h1m4 0h1m4 0h1m10 0h1M0 2m1 0h1m2 0h1m3 0h2m10 0h2m2 0h1m4 0h2m6 0h1M0 3m5 0h1m1 0h2m6 0h1m6 0h1m2 0h2m5 0h1m3 0h1M0 4h1m1 0h1m3 0h2m3 0h1m4 0h1m1 0h1m3 0h1m4 0h1m1 0h1m2 0h2m4 0h1M0 5m3 0h1m8 0h1m11 0h5m2 0h2M0 6m3 0h1m3 0h2m12 0h1m1 0h1m2 0h1m3 0h1m4 0h1m2 0h1M0 7m3 0h2m10 0h3m7 0h1m12 0h2M0 8h1m3 0h1m5 0h1m1 0h1m10 0h1m7 0h1m6 0h1M0 9m4 0h1m7 0h1m2 0h1m4 0h1m10 0h1m1 0h1m1 0h1M0 10m2 0h2m3 0h1m3 0h1m4 0h3m7 0h1M0 11m1 0h1m1 0h2m7 0h1m11 0h1m5 0h1m2 0h1M0 12m5 0h1m6 0h1m4 0h1m2 0h2m3 0h1m2 0h1m8 0h1M0 13m1 0h1m4 0h1m3 0h1m2 0h1m3 0h1m11 0h2m1 0h2M0 14h1m6 0h1m4 0h1m4 0h2m1 0h1m1 0h1m9 0h1m1 0h1m4 0h1M0 15m2 0h1m6 0h1m5 0h1m4 0h1m10 0h1m5 0h1M0 16m6 0h1m1 0h1m5 0h1m2 0h1m6 0h1m1 0h1m1 0h1m1 0h1m3 0h3M0 17m6 0h2m1 0h2m2 0h1m5 0h2m1 0h1m3 0h1m1 0h1m3 0h1m1 0h2m2 0h1M0 18m1 0h1m2 0h1m4 0h1m2 0h1m1 0h1m6 0h1m4 0h1m3 0h1m4 0h1m2 0h2M0 19m1 0h1m1 0h1m5 0h1m7 0h1m1 0h2m4 0h1m1 0h1m6 0h2M0 20h1m1 0h1m17 0h2m5 0h1m2 0h1m2 0h1M0 21h1m1 0h1m3 0h2m4 0h1m2 0h1m6 0h1m4 0h1m2 0h2m3 0h1m2 0h1M0 22m2 0h1m1 0h2m3 0h1m3 0h1m1 0h1m5 0h4m2 0h1m8 0h1m2 0h1M0 23m1 0h1m1 0h1m1 0h1m3 0h1m1 0h1m1 0h1m1 0h1m1 0h1m2 0h1m7 0h1m2 0h1M0 24h2m1 0h1m4 0h1m5 0h1m5 0h1m3 0h1m3 0h1m1 0h2m1 0h1m4 0h2M0 25m1 0h1m1 0h1m6 0h2m8 0h1m7 0h2m2 0h1m1 0h1M0 26m1 0h1m2 0h1m2 0h1m2 0h1m4 0h1m1 0h1m4 0h3m1 0h1m2 0h1m3 0h1m5 0h1M0 27m1 0h2m4 0h1m5 0h3m1 0h2m2 0h1m16 0h1M0 28h1m6 0h1m2 0h2m7 0h1m17 0h2M0 29m4 0h1m2 0h1m5 0h1m1 0h1m1 0h2m1 0h2m3 0h1m9 0h1m2 0h2M0 30m3 0h1m4 0h1m3 0h1m5 0h1m10 0h1m7 0h2M0 31m2 0h1m1 0h1m2 0h1m2 0h1m2 0h1m1 0h1m2 0h3m2 0h1M0 32h1m1 0h1m8 0h1m4 0h2m12 0h2m1 0h1m1 0h2m1 0h1M0 33m2 0h3m3 0h2m1 0h1m2 0h1m6 0h1m4 0h1m7 0h1M0 34m2 0h2m4 0h1m1 0h1m3 0h2m4 0h1m4 0h1m1 0h1m3 0h1m2 0h2m1 0h1M0 35h1m3 0h1m4 0h1m4 0h1m1 0h1m14 0h1m1 0h1m3 0h1m1 0h1M0 36h2m2 0h1m2 0h2m1 0h1m19 0h2m7 0h1M0 37m3 0h2m2 0h1m5 0h1m3 0h1m9 0h1m2 0h1M0 38m2 0h2m4 0h1m1 0h1m10 0h1m1 0h1m5 0h2m3 0h1M0 39h1m1 0h1m1 0h1m32 0h1m1 0h1" transform="translate(0 .5)" stroke="#e4e020" stroke-width="1" fill="none"/></pattern>
<pattern id="pR1" width="40" height="40" patternUnits="userSpaceOnUse"><path d="M0 0m5 0h1m3 0h1m1 0h1m1 0h2m4 0h2m2 0h1m8 0h1m2 0h2m1 0h1M0 1m1 0h1m6 0h2m1 0h1m1 0h1m2 0h1m1 0h1m6 0h1m12 0h1M0 2m5 0h1m1 0h1m6 0h2m1 0h1m1 0h2m8 0h1m5 0h1m1 0h1M0 3h2m1 0h1m1 0h1m5 0h1m4 0h2m1 0h1m3 0h1m1 0h1m6 0h1m5 0h2M0 4m5 0h3m1 0h2m1 0h1m3 0h1m1 0h1m1 0h1m1 0h1m6 0h2m1 0h1m2 0h2M0 5m1 0h2m6 0h1m1 0h1m3 0h1m1 0h2m1 0h1m4 0h3m2 0h1m8 0h1M0 6m2 0h2m1 0h1m2 0h2m11 0h2m3 0h1m2 0h4M0 7m2 0h1m1 0h3m10 0h1m3 0h1m1 0h1m11 0h1m3 0h1M0 8m1 0h2m5 0h2m1 0h1m1 0h1m3 0h1m8 0h1m11 0h1M0 9m3 0h1m1 0h2m3 0h1m1 0h1m2 0h2m1 0h1m1 0h1m5 0h1m1 0h1m1 0h1m3 0h1m1 0h2m1 0h1M0 10m2 0h2m7 0h1m2 0h1m5 0h1m1 0h1m6 0h1m6 0h1M0 11m4 0h3m6 0h1m1 0h1m1 0h1m2 0h2m4 0h1m3 0h1m3 0h1m1 0h2M0 12h1m3 0h1m3 0h1m10 0h1m5 0h2m1 0h2m1 0h1m2 0h1m1 0h2M0 13m1 0h3m1 0h1m2 0h1m4 0h1m8 0h2m1 0h3m6 0h4m1 0h1M0 14m4 0h4m3 0h3m2 0h2m1 0h1m1 0h1m3 0h1m4 0h1m2 0h1m3 0h1M0 15m1 0h1m2 0h1m2 0h1m4 0h3m11 0h2m2 0h1m7 0h1M0 16m2 0h1m2 0h1m2 0h1m2 0h3m2 0h1m7 0h2m2 0h2m2 0h1m2 0h1m3 0h1M0 17h1m1 0h2m5 0h1m6 0h1m2 0h1m1 0h1m2 0h3m9 0h1M0 18m2 0h1m1 0h1m5 0h1m2 0h2m2 0h1m10 0h1m7 0h1m2 0h1M0 19m1 0h2m1 0h2m4 0h6m1 0h3m4 0h1m2 0h1m5 0h2m2 0h1m1 0h1M0 20m4 0h1m2 0h2m1 0h1m1 0h2m3 0h1m3 0h1m1 0h1m1 0h3m2 0h1m4 0h2M0 21m3 0h1m5 0h3m6 0h1m1 0h2m7 0h1m1 0h2m5 0h1M0 22m3 0h1m5 0h2m8 0h1m4 0h1m6 0h1m4 0h1m1 0h1M0 23m3 0h2m2 0h1m3 0h1m4 0h2m7 0h1m2 0h1m2 0h1m2 0h2M0 24m1 0h1m4 0h2m1 0h1m10 0h1m1 0h2m1 0h2m7 0h1m2 0h1m1 0h1M0 25m2 0h1m2 0h4m7 0h2m17 0h1m1 0h1M0 26m6 0h1m6 0h1m2 0h1m19 0h1M0 27m6 0h2m8 0h2m2 0h1m3 0h1m10 0h1m3 0h1M0 28m1 0h2m5 0h1m2 0h1m18 0h1m4 0h1m2 0h1M0 29h1m3 0h1m8 0h1m1 0h1m2 0h1m3 0h2m2 0h5m1 0h1m3 0h1M0 30m2 0h1m1 0h1m2 0h1m1 0h1m3 0h1m1 0h1m4 0h1m5 0h1m1 0h1m1 0h1m2 0h1m5 0h1M0 31m4 0h2m2 0h2m6 0h2m3 0h1m1 0h1m1 0h2m1 0h1m1 0h2m1 0h1m1 0h1M0 32m6 0h1m5 0h1m1 0h2m4 0h3m2 0h1m1 0h1m7 0h1m1 0h1m1 0h1M0 33h1m2 0h1m4 0h1m1 0h1m2 0h3m4 0h2m1 0h1m6 0h1M0 34m3 0h2m3 0h1m11 0h1m4 0h1m3 0h2M0 35m5 0h1m2 0h2m3 0h3m3 0h1m16 0h1m1 0h1M0 36m1 0h1m2 0h1m1 0h2m1 0h2m7 0h1m7 0h3m10 0h1M0 37m5 0h2m2 0h1m6 0h1m2 0h1m1 0h1m5 0h1m4 0h2m3 0h1M0 38m4 0h5m3 0h2m5 0h1m1 0h1m2 0h1m2 0h1m1 0h1m3 0h3M0 39m1 0h1m3 0h1m5 0h2m3 0h1m1 0h1m3 0h2m1 0h1m5 0h1m1 0h2m3 0h1" transform="translate(0 .5)" stroke="#ea4414" stroke-width="1" fill="none"/></pattern>
<pattern id="pC2" width="40" height="40" patternUnits="userSpaceOnUse"><path d="M0 0h2m2 0h8m1 0h8m2 0h1m1 0h9m1 0h1m2 0h2M0 1h3m2 0h1m1 0h3m1 0h3m2 0h6m2 0h3m1 0h1m1 0h5m2 0h3M0 2h1m1 0h1m2 0h6m1 0h12m2 0h1m1 0h3m2 0h1m1 0h5M0 3m1 0h1m2 0h3m3 0h1m1 0h2m1 0h1m3 0h10m1 0h2m3 0h1m2 0h1M0 4h4m2 0h19m2 0h5m1 0h2m1 0h4M0 5m1 0h5m1 0h1m1 0h3m2 0h1m4 0h4m2 0h3m1 0h2m1 0h4m1 0h3M0 6m2 0h1m1 0h2m1 0h1m1 0h7m3 0h2m2 0h4m1 0h4m2 0h6M0 7h12m1 0h1m1 0h2m2 0h2m1 0h1m1 0h3m1 0h1m1 0h6m1 0h3M0 8h2m1 0h9m1 0h2m1 0h7m1 0h2m1 0h2m1 0h5m1 0h4M0 9h3m2 0h1m1 0h2m2 0h8m1 0h7m1 0h2m1 0h1m1 0h1m2 0h2m1 0h1M0 10h4m1 0h2m1 0h3m1 0h4m1 0h1m1 0h9m1 0h4m1 0h4m1 0h1M0 11m1 0h1m1 0h9m1 0h5m1 0h4m2 0h10m1 0h1m2 0h1M0 12m1 0h5m1 0h1m1 0h5m4 0h4m1 0h2m1 0h1m1 0h3m1 0h6m1 0h1M0 13h1m2 0h1m2 0h3m1 0h3m3 0h3m1 0h3m2 0h6m1 0h1m1 0h3m1 0h1M0 14m2 0h2m2 0h6m1 0h3m1 0h2m1 0h1m2 0h6m2 0h9M0 15h2m3 0h1m4 0h2m1 0h3m1 0h7m1 0h1m1 0h2m1 0h6m2 0h2M0 16h7m1 0h5m1 0h1m3 0h1m4 0h2m1 0h3m1 0h7m1 0h2M0 17h1m1 0h2m2 0h5m2 0h12m1 0h2m2 0h7m1 0h1M0 18m1 0h1m5 0h1m1 0h4m2 0h1m1 0h1m1 0h3m1 0h1m1 0h5m1 0h4m1 0h1m2 0h1M0 19h1m1 0h8m2 0h2m1 0h7m2 0h4m1 0h4m2 0h5M0 20h5m1 0h1m1 0h1m1 0h3m1 0h2m1 0h1m1 0h2m1 0h3m4 0h1m1 0h2m1 0h3m1 0h1M0 21m1 0h1m1 0h3m1 0h15m1 0h7m1 0h3m1 0h2m2 0h1M0 22h2m2 0h1m1 0h6m2 0h8m1 0h4m1 0h2m1 0h7m1 0h1M0 23h3m1 0h1m1 0h1m1 0h1m3 0h1m1 0h3m1 0h3m1 0h6m1 0h1m3 0h1m1 0h3M0 24h1m1 0h2m2 0h2m3 0h5m1 0h3m2 0h5m1 0h5m1 0h5M0 25h2m1 0h5m1 0h1m1 0h3m1 0h4m3 0h13m1 0h4M0 26m2 0h3m3 0h18m2 0h3m1 0h2m1 0h2m1 0h2M0 27h4m1 0h3m1 0h8m1 0h3m1 0h1m1 0h7m1 0h2m1 0h4M0 28h2m1 0h8m1 0h4m1 0h1m1 0h1m1 0h4m3 0h2m1 0h5m1 0h3M0 29m2 0h10m1 0h1m1 0h2m1 0h1m1 0h1m2 0h1m2 0h2m2 0h1m1 0h2m1 0h2m1 0h2M0 30h2m1 0h16m1 0h3m1 0h13m1 0h2M0 31h8m3 0h4m2 0h1m1 0h2m5 0h2m2 0h6m2 0h1M0 32m3 0h1m1 0h2m1 0h2m1 0h10m2 0h3m1 0h8m1 0h1m1 0h1M0 33m1 0h1m2 0h2m1 0h1m3 0h3m4 0h1m2 0h1m1 0h5m2 0h1m1 0h1m1 0h1m1 0h1m1 0h2M0 34h5m2 0h7m2 0h4m1 0h7m1 0h9m1 0h1M0 35m1 0h4m1 0h8m1 0h2m1 0h1m1 0h4m1 0h3m1 0h2m2 0h1m1 0h4M0 36h7m3 0h1m1 0h3m1 0h3m1 0h1m1 0h4m1 0h1m1 0h8m1 0h2M0 37m1 0h5m1 0h8m2 0h3m1 0h2m2 0h1m1 0h3m1 0h2m2 0h1m1 0h1M0 38h2m1 0h2m1 0h2m2 0h1m3 0h8m1 0h2m1 0h4m1 0h1m2 0h2m1 0h3M0 39h3m1 0h3m1 0h4m1 0h3m1 0h9m1 0h1m1 0h2m1 0h1m1 0h2m1 0h2" transform="translate(0 .5)" stroke="#48bcd8" stroke-width="1" fill="none"/></pattern>
<pattern id="pG2" width="40" height="40" patternUnits="userSpaceOnUse"><path d="M0 0h5m2 0h1m2 0h2m1 0h1m1 0h1m1 0h9m1 0h13M0 1m2 0h4m1 0h5m1 0h2m1 0h2m2 0h6m1 0h3m1 0h2m1 0h6M0 2m1 0h5m1 0h2m2 0h10m2 0h5m1 0h11M0 3h13m2 0h4m1 0h1m1 0h2m1 0h1m2 0h3m1 0h8M0 4h1m1 0h7m1 0h3m1 0h17m1 0h8M0 5h1m1 0h8m1 0h3m1 0h7m1 0h7m1 0h2m1 0h6M0 6h12m1 0h2m1 0h3m2 0h2m1 0h6m1 0h3m1 0h5M0 7m1 0h5m1 0h5m3 0h8m1 0h10m1 0h5M0 8m2 0h27m1 0h6m1 0h3M0 9h22m3 0h7m1 0h1m2 0h2m1 0h1M0 10h15m1 0h2m1 0h5m1 0h6m1 0h5m1 0h2M0 11h12m1 0h2m1 0h6m1 0h2m1 0h14M0 12h5m1 0h6m2 0h4m1 0h1m1 0h5m1 0h3m1 0h3m3 0h3M0 13h4m2 0h1m1 0h1m4 0h1m1 0h10m1 0h5m1 0h6m1 0h1M0 14h5m1 0h6m1 0h7m2 0h2m1 0h2m1 0h1m1 0h3m1 0h1m1 0h2M0 15h8m1 0h4m1 0h11m1 0h3m1 0h3m1 0h5M0 16h1m1 0h2m2 0h13m1 0h5m1 0h1m1 0h3m1 0h8M0 17h2m2 0h1m1 0h4m1 0h2m2 0h12m1 0h11M0 18h3m1 0h2m1 0h3m2 0h5m1 0h1m1 0h13m1 0h5M0 19h2m1 0h21m1 0h5m1 0h4m1 0h4M0 20h4m1 0h4m1 0h3m1 0h1m3 0h2m1 0h5m2 0h12M0 21h1m2 0h9m1 0h4m1 0h10m2 0h1m1 0h7M0 22m2 0h11m1 0h9m2 0h4m1 0h3m1 0h3m1 0h1M0 23m1 0h5m1 0h5m2 0h1m1 0h6m2 0h2m1 0h1m1 0h7m1 0h1m1 0h1M0 24h2m1 0h1m1 0h5m1 0h1m1 0h11m2 0h6m1 0h1m1 0h3m1 0h1M0 25h3m1 0h1m1 0h9m1 0h2m1 0h11m1 0h2m1 0h2m1 0h3M0 26h1m1 0h2m1 0h1m1 0h1m2 0h2m1 0h4m2 0h3m1 0h6m2 0h5m1 0h2M0 27m1 0h5m1 0h1m1 0h5m1 0h11m1 0h2m1 0h1m1 0h1m1 0h6M0 28m1 0h1m1 0h7m1 0h2m1 0h5m2 0h1m1 0h3m2 0h2m1 0h9M0 29h3m1 0h3m1 0h7m1 0h2m1 0h6m4 0h1m1 0h1m1 0h4m1 0h1M0 30h4m2 0h4m1 0h10m1 0h1m1 0h8m1 0h4m1 0h2M0 31m2 0h5m1 0h5m1 0h1m1 0h6m1 0h3m1 0h2m1 0h5m1 0h4M0 32m1 0h5m1 0h2m1 0h1m1 0h8m1 0h1m1 0h8m2 0h2m2 0h2M0 33h14m1 0h4m1 0h6m2 0h1m1 0h1m1 0h6m1 0h1M0 34h2m1 0h4m2 0h1m2 0h13m1 0h1m1 0h12M0 35h7m1 0h1m1 0h5m1 0h4m1 0h5m1 0h6m1 0h6M0 36h5m1 0h1m1 0h4m2 0h7m2 0h1m2 0h2m1 0h4m1 0h2m1 0h3M0 37m1 0h1m2 0h2m1 0h1m2 0h4m1 0h4m1 0h5m1 0h9m1 0h2m1 0h1M0 38h7m1 0h6m1 0h1m1 0h8m1 0h1m1 0h6m1 0h5M0 39h1m1 0h4m1 0h5m1 0h9m1 0h1m1 0h3m1 0h4m2 0h4" transform="translate(0 .5)" stroke="#78d030" stroke-width="1" fill="none"/></pattern>
</defs>
<text x="4.0" y="1061.5" font-size="41" font-weight="bold">f</text>
<text x="106.2" y="1073.0" font-size="28.4">LK cells</text>
<text x="54.0" y="1139.0" font-size="21.3" text-anchor="middle" transform="rotate(-90 54.0 1139.0)">CD150-APC</text>
<line x1="45.6" y1="1643.0" x2="45.6" y2="1230.0" stroke="#000" stroke-width="3.3"/>
<polygon points="45.6,1210.8 33.9,1236.3 45.6,1230.3 57.4,1236.3" fill="#000"/>
<text x="461.3" y="1155.5" font-size="21.3" text-anchor="middle" transform="rotate(-90 461.3 1155.5)">CD16/32-PECy7</text>
<line x1="453.8" y1="1652.0" x2="453.8" y2="1265.0" stroke="#000" stroke-width="3.3"/>
<polygon points="453.8,1245.7 442.5,1272.2 453.8,1266.2 465.1,1272.2" fill="#000"/>
<text x="874.6" y="1130.5" font-size="21.3" text-anchor="middle" transform="rotate(-90 874.6 1130.5)">CD105-PE</text>
<line x1="865.6" y1="1647.0" x2="865.6" y2="1212.0" stroke="#000" stroke-width="3.3"/>
<polygon points="865.6,1192.5 854.3,1218.0 865.6,1212.0 876.9,1218.0" fill="#000"/>
<line x1="106.4" y1="1696.6" x2="218.0" y2="1696.6" stroke="#000" stroke-width="3.3"/>
<polygon points="235.4,1696.6 207.7,1685.6 214.7,1696.6 207.7,1707.6" fill="#000"/>
<text x="253.0" y="1704.3" font-size="21.8">CD41-BV421</text>
<line x1="514.6" y1="1696.6" x2="640.0" y2="1696.6" stroke="#000" stroke-width="3.3"/>
<polygon points="658.0,1696.6 630.3,1685.6 637.3,1696.6 630.3,1707.6" fill="#000"/>
<text x="668.0" y="1704.3" font-size="21.8">CD150-APC</text>
<line x1="918.2" y1="1696.2" x2="1052.0" y2="1696.2" stroke="#000" stroke-width="3.3"/>
<polygon points="1070.0,1696.2 1042.3,1685.2 1049.3,1696.2 1042.3,1707.2" fill="#000"/>
<text x="1081.0" y="1704.0" font-size="21.8">CD150-APC</text>
<text x="1243.0" y="1219.3" font-size="33" text-anchor="middle" transform="rotate(-90 1243.0 1219.3)">Vehicle</text>
<text x="1243.0" y="1524.0" font-size="32" text-anchor="middle" transform="rotate(-90 1243.0 1524.0)">SB</text>
<clipPath id="cf0"><rect x="108.4" y="1082.8" width="281.29999999999995" height="244.5"/></clipPath>
<g clip-path="url(#cf0)">
<ellipse cx="185.0" cy="1234.0" rx="20.0" ry="100.0" fill="url(#pB1)" mask="url(#fd)"/>
<ellipse cx="184.0" cy="1234.0" rx="16.0" ry="96.0" fill="url(#pB2)" mask="url(#fd)"/>
<ellipse cx="191.0" cy="1212.0" rx="11.0" ry="78.0" fill="url(#pB2)" mask="url(#fd)"/>
<ellipse cx="180.0" cy="1236.0" rx="11.5" ry="95.0" fill="url(#pC)" mask="url(#fd)"/>
<ellipse cx="180.0" cy="1236.0" rx="8.5" ry="92.0" fill="url(#pC2)" mask="url(#fd)"/>
<ellipse cx="178.0" cy="1184.0" rx="6.5" ry="38.0" fill="url(#pG2)" mask="url(#fd)"/>
<ellipse cx="181.5" cy="1273.0" rx="11.0" ry="42.0" fill="url(#pG2)" mask="url(#fd)"/>
<ellipse cx="181.0" cy="1274.0" rx="8.0" ry="27.0" fill="url(#pY)" mask="url(#fd)"/>
<ellipse cx="181.0" cy="1274.0" rx="6.0" ry="22.0" fill="url(#pY1)" mask="url(#fd)"/>
<ellipse cx="180.5" cy="1275.0" rx="5.5" ry="19.0" fill="url(#pO)" mask="url(#fd)"/>
<ellipse cx="180.3" cy="1275.0" rx="3.4" ry="13.0" fill="url(#pR)"/>
<ellipse cx="238.0" cy="1172.0" rx="66.0" ry="44.0" fill="url(#pB1)" mask="url(#fd)"/>
<ellipse cx="222.0" cy="1172.0" rx="38.0" ry="36.0" fill="url(#pB1)" mask="url(#fd)"/>
</g>
<path d="M0 0m190 1086h1m-2 16h1m67 1h1m-87 4h1m23 0h1m12 10h1m-33 1h1m86 0h1m-44 2h1m16 1h1m-16 1h1m12 3h1m0 3h1m5 0h1m-56 1h1m30 0h1m-10 2h1m-2 1h1m11 0h1m15 0h1m-29 1h1m2 0h1m108 0h1m-111 1h1m6 0h1m-8 1h1m0 0h1m39 0h1m-45 1h1m10 0h1m10 0h1m-4 1h1m0 0h1m83 0h1m-120 1h1m0 0h1m14 0h1m0 0h1m8 0h1m38 0h1m1 0h1m-85 1h1m36 0h1m15 0h1m-53 1h1m31 0h1m4 0h1m1 0h1m1 0h1m16 0h1m1 0h1m-71 1h1m26 0h1m17 0h1m9 0h1m15 0h1m-53 1h1m22 0h1m15 0h1m1 0h1m37 0h1m13 0h1m-97 1h1m33 0h1m13 0h1m8 0h1m42 0h1m9 1h1m4 0h1m-119 1h1m9 0h1m4 0h1m26 0h1m2 0h1m1 0h1m1 0h1m5 0h1m18 0h1m-76 1h1m38 0h1m2 0h1m7 0h1m0 0h1m11 0h1m15 0h1m13 0h1m-87 1h1m4 0h1m16 0h1m8 0h1m4 0h1m3 0h1m10 0h1m26 0h1m2 0h1m81 0h1m-133 1h1m2 0h1m3 0h1m2 0h1m6 0h1m5 0h1m2 0h1m69 0h1m-102 1h1m0 0h1m7 0h1m29 0h1m2 0h1m2 0h1m26 0h1m15 0h1m-92 1h1m2 0h1m30 0h1m4 0h1m17 0h1m72 0h1m-169 1h1m36 0h1m9 0h1m7 0h1m31 0h1m3 0h1m26 0h1m0 0h1m-111 1h1m16 0h1m12 0h1m4 0h1m1 0h1m2 0h1m21 0h1m25 0h1m1 0h1m110 0h1m-206 1h1m33 0h1m5 0h1m11 0h1m74 0h1m-84 1h1m1 0h1m3 0h1m15 0h1m4 0h1m1 0h1m14 0h1m-79 1h1m21 0h1m0 0h1m4 0h1m1 0h1m8 0h1m0 0h1m1 0h1m2 0h1m1 0h1m1 0h1m10 0h1m2 0h1m116 0h1m-177 1h1m22 0h1m21 0h1m2 0h1m36 0h1m26 0h1m26 0h1m-119 1h1m12 0h1m3 0h1m2 0h1m4 0h1m1 0h1m8 0h1m22 0h1m7 0h1m52 0h1m-119 1h1m0 0h1m0 0h1m4 0h1m25 0h1m1 0h1m5 0h1m3 0h1m13 0h1m8 0h1m14 0h1m4 0h1m28 0h1m43 0h1m-163 1h1m0 0h1m2 0h1m1 0h1m0 0h1m3 0h1m5 0h1m6 0h1m13 0h1m4 0h1m3 0h1m8 0h1m1 0h1m-61 1h1m0 0h1m4 0h1m5 0h1m0 0h1m5 0h1m5 0h1m2 0h1m14 0h1m1 0h1m12 0h1m4 0h1m-66 1h1m0 0h1m4 0h1m3 0h1m1 0h1m3 0h1m7 0h1m1 0h1m3 0h1m3 0h1m3 0h1m0 0h1m57 0h1m14 0h1m-135 1h1m32 0h1m8 0h1m9 0h1m10 0h1m-69 1h1m30 0h1m5 0h1m8 0h1m13 0h1m2 0h1m4 0h1m16 0h1m26 0h1m18 0h1m-136 1h1m3 0h1m9 0h1m17 0h1m6 0h1m4 0h1m1 0h1m9 0h1m6 0h1m6 0h1m2 0h1m25 0h1m13 0h1m16 0h1m33 0h1m-156 1h1m22 0h1m2 0h1m6 0h1m2 0h1m2 0h1m4 0h1m1 0h1m0 0h1m1 0h1m7 0h1m15 0h1m-77 1h1m5 0h1m18 0h1m1 0h1m7 0h1m1 0h1m6 0h1m7 0h1m7 0h1m2 0h1m3 0h1m13 0h1m-52 1h1m3 0h1m0 0h1m2 0h1m0 0h1m8 0h1m9 0h1m35 0h1m-68 1h1m5 0h1m2 0h1m1 0h1m7 0h1m0 0h1m3 0h1m0 0h1m5 0h1m3 0h1m18 0h1m1 0h1m0 0h1m2 0h1m-59 1h1m0 0h1m2 0h1m3 0h1m11 0h1m2 0h1m1 0h1m13 0h1m15 0h1m25 0h1m10 0h1m-120 1h1m22 0h1m1 0h1m6 0h1m2 0h1m1 0h1m3 0h1m1 0h1m3 0h1m8 0h1m5 0h1m13 0h1m3 0h1m82 0h1m-173 1h1m6 0h1m6 0h1m17 0h1m0 0h1m2 0h1m0 0h1m0 0h1m0 0h1m2 0h1m0 0h1m2 0h1m2 0h1m2 0h1m15 0h1m9 0h1m7 0h1m3 0h1m7 0h1m16 0h1m22 0h1m-118 1h1m15 0h1m0 0h1m0 0h1m1 0h1m3 0h1m1 0h1m1 0h1m1 0h1m3 0h1m0 0h1m5 0h1m4 0h1m2 0h1m8 0h1m13 0h1m36 0h1m66 0h1m-165 1h1m2 0h1m0 0h1m1 0h1m2 0h1m2 0h1m3 0h1m0 0h1m11 0h1m3 0h1m3 0h1m12 0h1m22 0h1m-110 1h1m13 0h1m5 0h1m26 0h1m0 0h1m0 0h1m0 0h1m0 0h1m4 0h1m6 0h1m6 0h1m31 0h1m-86 1h1m23 0h1m0 0h1m0 0h1m0 0h1m0 0h1m0 0h1m4 0h1m2 0h1m3 0h1m4 0h1m7 0h1m5 0h1m7 0h1m2 0h1m42 0h1m81 0h1m-174 1h1m1 0h1m0 0h1m1 0h1m1 0h1m2 0h1m0 0h1m2 0h1m3 0h1m10 0h1m11 0h1m-57 1h1m14 0h1m0 0h1m2 0h1m0 0h1m2 0h1m5 0h1m5 0h1m1 0h1m9 0h1m3 0h1m4 0h1m27 0h1m8 0h1m-99 1h1m2 0h1m16 0h1m3 0h1m6 0h1m0 0h1m1 0h1m8 0h1m5 0h1m6 0h1m20 0h1m19 0h1m54 0h1m11 0h1m-148 1h1m2 0h1m8 0h1m0 0h1m0 0h1m3 0h1m4 0h1m3 0h1m9 0h1m7 0h1m5 0h1m16 0h1m2 0h1m14 0h1m19 0h1m-129 1h1m22 0h1m0 0h1m1 0h1m0 0h1m13 0h1m1 0h1m14 0h1m-58 1h1m1 0h1m16 0h1m1 0h1m0 0h1m1 0h1m9 0h1m3 0h1m0 0h1m4 0h1m6 0h1m12 0h1m6 0h1m5 0h1m5 0h1m39 0h1m-142 1h1m38 0h1m2 0h1m1 0h1m1 0h1m1 0h1m4 0h1m7 0h1m10 0h1m3 0h1m15 0h1m0 0h1m13 0h1m52 0h1m-143 1h1m22 0h1m1 0h1m10 0h1m6 0h1m3 0h1m1 0h1m27 0h1m6 0h1m80 0h1m-168 1h1m5 0h1m29 0h1m1 0h1m11 0h1m0 0h1m33 0h1m5 0h1m-93 1h1m22 0h1m0 0h1m2 0h1m2 0h1m4 0h1m1 0h1m0 0h1m6 0h1m1 0h1m8 0h1m6 0h1m4 0h1m21 0h1m60 0h1m30 0h1m-153 1h1m17 0h1m61 0h1m-88 1h1m1 0h1m4 0h1m6 0h1m0 0h1m3 0h1m13 0h1m8 0h1m2 0h1m3 0h1m2 0h1m4 0h1m48 0h1m27 0h1m-136 1h1m2 0h1m2 0h1m0 0h1m2 0h1m1 0h1m0 0h1m1 0h1m0 0h1m8 0h1m13 0h1m27 0h1m-68 1h1m7 0h1m7 0h1m3 0h1m8 0h1m4 0h1m13 0h1m68 0h1m-149 1h1m31 0h1m0 0h1m2 0h1m2 0h1m0 0h1m10 0h1m2 0h1m0 0h1m0 0h1m3 0h1m1 0h1m57 0h1m-118 1h1m28 0h1m2 0h1m5 0h1m9 0h1m17 0h1m30 0h1m10 0h1m-82 1h1m2 0h1m10 0h1m4 0h1m7 0h1m8 0h1m21 0h1m39 0h1m-128 1h1m23 0h1m11 0h1m6 0h1m5 0h1m38 0h1m40 0h1m0 0h1m-135 1h1m37 0h1m4 0h1m3 0h1m0 0h1m4 0h1m4 0h1m112 0h1m-151 1h1m14 0h1m5 0h1m4 0h1m9 0h1m10 0h1m5 0h1m7 0h1m23 0h1m20 0h1m11 0h1m-136 1h1m2 0h1m6 0h1m22 0h1m6 0h1m5 0h1m0 0h1m18 0h1m8 0h1m-68 1h1m4 0h1m4 0h1m7 0h1m3 0h1m4 0h1m3 0h1m1 0h1m0 0h1m9 0h1m11 0h1m38 0h1m8 0h1m21 0h1m5 0h1m-129 1h1m5 0h1m3 0h1m6 0h1m15 0h1m7 0h1m14 0h1m1 0h1m2 0h1m30 0h1m32 0h1m-138 1h1m29 0h1m16 0h1m44 0h1m11 0h1m6 0h1m-119 1h1m9 0h1m24 0h1m5 0h1m1 0h1m1 0h1m7 0h1m2 0h1m0 0h1m0 0h1m5 0h1m-24 1h1m5 0h1m7 0h1m0 0h1m0 0h1m1 0h1m24 0h1m45 0h1m-129 1h1m10 0h1m1 0h1m22 0h1m0 0h1m7 0h1m2 0h1m1 0h1m35 0h1m-77 1h1m0 0h1m4 0h1m17 0h1m2 0h1m26 0h1m20 0h1m26 0h1m-78 1h1m0 0h1m5 0h1m4 0h1m5 0h1m5 0h1m9 0h1m11 0h1m4 0h1m-81 1h1m9 0h1m32 0h1m32 0h1m55 0h1m17 0h1m-137 1h1m12 0h1m8 0h1m5 0h1m3 0h1m18 0h1m-61 1h1m3 0h1m7 0h1m14 0h1m62 0h1m-96 1h1m46 0h1m-37 1h1m25 0h1m66 0h1m-95 1h1m26 0h1m3 0h1m7 0h1m-34 2h1m24 0h1m29 0h1m-72 1h1m1 0h1m3 0h1m46 0h1m10 0h1m-64 1h1m8 0h1m1 0h1m10 0h1m23 0h1m17 0h1m-49 1h1m2 0h1m13 0h1m53 0h1m-71 1h1m20 0h1m10 0h1m-53 1h1m8 0h1m1 0h1m20 0h1m1 0h1m-28 1h1m1 0h1m2 0h1m26 0h1m-11 1h1m2 0h1m11 0h1m-47 1h1m8 0h1m9 0h1m14 0h1m1 0h1m45 0h1m6 0h1m-87 1h1m13 0h1m15 0h1m16 0h1m-53 1h1m3 0h1m3 0h1m30 0h1m1 0h1m47 0h1m39 0h1m-113 1h1m8 0h1m6 0h1m7 0h1m30 0h1m5 0h1m-59 1h1m92 0h1m-105 1h1m7 0h1m22 0h1m4 0h1m13 0h1m17 0h1m64 0h1m-147 1h1m9 0h1m4 0h1m61 0h1m-38 1h1m0 0h1m11 0h1m-35 1h1m21 0h1m70 0h1m-103 1h1m29 0h1m-2 1h1m3 0h1m24 0h1m-61 1h1m9 0h1m20 0h1m15 0h1m41 0h1m-90 1h1m14 0h1m17 0h1m3 0h1m5 0h1m34 0h1m-67 1h1m12 0h1m9 0h1m2 0h1m71 0h1m-121 1h1m35 0h1m17 0h1m10 0h1m-47 1h1m22 0h1m-1 1h1m15 0h1m-51 1h1m20 0h1m20 0h1m39 0h1m-68 1h1m31 0h1m-17 1h1m4 0h1m17 0h1m3 0h1m-25 1h1m1 0h1m6 0h1m13 0h1m2 0h1m-70 1h1m50 0h1m27 0h1m-33 1h1m-44 1h1m37 0h1m-33 1h1m57 0h1m4 0h1m17 0h1m10 0h1m-85 1h1m29 0h1m29 0h1m-31 1h1m12 0h1m28 0h1m-89 1h1m11 0h1m14 0h1m16 0h1m1 1h1m8 0h1m4 0h1m33 0h1m-56 1h1m31 0h1m35 0h1m-93 1h1m23 0h1m23 0h1m27 0h1m-84 1h1m12 0h1m7 0h1m16 0h1m0 0h1m13 0h1m37 0h1m-75 1h1m-4 1h1m21 0h1m4 0h1m22 0h1m3 0h1m-60 1h1m1 0h1m61 0h1m-36 1h1m0 0h1m32 0h1m-39 1h1m11 0h1m9 0h1m11 0h1m-78 1h1m17 0h1m2 0h1m39 0h1m1 0h1m-36 1h1m31 0h1m0 1h1m-20 1h1m6 0h1m19 0h1m21 0h1m-67 1h1m15 0h1m10 0h1m-44 1h1m29 0h1m8 0h1m1 0h1m2 0h1m5 0h1m-44 1h1m28 0h1m16 0h1m60 1h1m-108 1h1m0 0h1m6 0h1m10 0h1m6 0h1m48 0h1m31 0h1m-104 1h1m15 0h1m35 0h1m-70 1h1m28 0h1m14 0h1m37 0h1m-81 1h1m11 0h1m11 0h1m2 0h1m-8 1h1m20 0h1m2 1h1m-47 1h1m14 0h1m20 0h1m3 0h1m20 0h1m-49 1h1m-5 1h1m14 0h1m18 0h1m-4 1h1m-35 1h1m13 0h1m6 0h1m8 0h1m12 0h1m-54 1h1m17 0h1m2 0h1m0 0h1m13 0h1m15 0h1m2 0h1m-10 1h1m-44 1h1m14 0h1m23 0h1m12 0h1m21 0h1m-61 1h1m47 0h1m8 0h1m17 0h1m-81 1h1m10 0h1m17 0h1m10 0h1m1 0h1m35 0h1m-82 1h1m9 0h1m7 1h1m1 0h1m13 0h1m-29 1h1m3 0h1m64 0h1m-62 1h1m78 0h1m-30 1h1m-43 1h1m9 0h1m3 0h1m-31 1h1m48 0h1m-30 1h1m31 0h1m-69 1h1m32 0h1m103 0h1m-119 1h1m38 0h1m21 1h1m-36 1h1m-28 1h1m2 0h1m6 0h1m16 0h1m18 0h1m-58 1h1m8 0h1m48 0h1m-49 1h1m6 0h1m4 0h1m20 0h1m-39 1h1m34 0h1m46 1h1m-8 1h1m-79 1h1m82 0h1m-77 1h1m11 0h1m2 0h1m9 0h1m31 0h1m-47 1h1m19 0h1m-39 2h1m2 2h1m2 0h1m31 5h1m-2 1h1m-24 1h1m31 3h1m-31 2h1m31 0h1m-37 2h1m24 0h1m2 7h1" transform="translate(0 .5)" stroke="#4a5cc8" stroke-width="1" fill="none"/>
<rect x="107.4" y="1081.8" width="283.3" height="246.5" fill="none" stroke="#000" stroke-width="1.6"/>
<rect x="99.8" y="1102.2" width="7.6" height="5.6"/>
<text transform="translate(92.9 1109.4) scale(1.22 1)" font-size="12.3" text-anchor="end">10<tspan font-size="9.3" dy="-6.2">5</tspan></text>
<rect x="99.8" y="1162.4" width="7.6" height="5.6"/>
<text transform="translate(92.9 1169.6) scale(1.22 1)" font-size="12.3" text-anchor="end">10<tspan font-size="9.3" dy="-6.2">4</tspan></text>
<rect x="99.8" y="1229.2" width="7.6" height="5.6"/>
<text transform="translate(92.9 1236.4) scale(1.22 1)" font-size="12.3" text-anchor="end">10<tspan font-size="9.3" dy="-6.2">3</tspan></text>
<rect x="99.8" y="1264.8" width="7.6" height="15.5"/>
<text transform="translate(92.9 1277.0) scale(1.22 1)" font-size="12.3" text-anchor="end">0</text>
<rect x="99.8" y="1310.2" width="7.6" height="5.6"/>
<text transform="translate(92.9 1317.4) scale(1.22 1)" font-size="12.3" text-anchor="end">−10<tspan font-size="9.3" dy="-6.2">3</tspan></text>
<path d="M103.4 1147.1h4M103.4 1136.5h4M103.4 1129.0h4M103.4 1118.4h4M103.4 1114.3h4M103.4 1110.8h4M103.4 1107.8h4M103.4 1211.9h4M103.4 1200.1h4M103.4 1191.8h4M103.4 1180.0h4M103.4 1175.5h4M103.4 1171.7h4M103.4 1168.3h4M103.4 1086.9h4M103.4 1239.3h4M103.4 1245.8h4M103.4 1257.6h4M103.4 1263.7h4M103.4 1281.5h4M103.4 1287.5h4M103.4 1299.3h4M103.4 1305.7h4M103.4 1327.1h4" stroke="#000" stroke-width="2.4"/>
<path d="M102.2 1123.1h5.2M102.2 1185.3h5.2M102.2 1250.7h5.2M102.2 1294.8h5.2" stroke="#000" stroke-width="4.2"/>
<rect x="122.0" y="1328.3" width="6" height="6.3"/>
<rect x="162.2" y="1328.3" width="16.5" height="6.3"/>
<rect x="214.8" y="1328.3" width="6" height="6.3"/>
<rect x="292.5" y="1328.3" width="6" height="6.3"/>
<rect x="359.0" y="1328.3" width="6" height="6.3"/>
<path d="M241.2 1328.3v3.2M254.9 1328.3v3.2M264.6 1328.3v3.2M272.1 1328.3v3.2M278.3 1328.3v3.2M283.5 1328.3v3.2M288.0 1328.3v3.2M291.9 1328.3v3.2M315.5 1328.3v3.2M327.2 1328.3v3.2M335.5 1328.3v3.2M342.0 1328.3v3.2M347.2 1328.3v3.2M351.7 1328.3v3.2M355.6 1328.3v3.2M359.0 1328.3v3.2M382.0 1328.3v3.2M134.1 1328.3v3.2M180.0 1328.3v3.2M141.4 1328.3v3.2M187.5 1328.3v3.2M147.8 1328.3v3.2M194.2 1328.3v3.2M154.1 1328.3v3.2M200.8 1328.3v3.2M161.4 1328.3v3.2M208.3 1328.3v3.2" stroke="#000" stroke-width="2"/>
<text transform="translate(124.5 1358.8) scale(1.22 1)" font-size="12.6" text-anchor="middle">−10<tspan font-size="9.6" dy="-6.3">3</tspan></text>
<text transform="translate(170.5 1358.8) scale(1.22 1)" font-size="12.6" text-anchor="middle">0</text>
<text transform="translate(217.8 1358.8) scale(1.22 1)" font-size="12.6" text-anchor="middle">10<tspan font-size="9.6" dy="-6.3">3</tspan></text>
<text transform="translate(295.5 1358.8) scale(1.22 1)" font-size="12.6" text-anchor="middle">10<tspan font-size="9.6" dy="-6.3">4</tspan></text>
<text transform="translate(362.0 1358.8) scale(1.22 1)" font-size="12.6" text-anchor="middle">10<tspan font-size="9.6" dy="-6.3">5</tspan></text>
<rect x="133" y="1137.9" width="71" height="181.2" fill="none" stroke="#000" stroke-width="3"/>
<rect x="206.3" y="1138.6" width="122" height="68.6" fill="none" stroke="#000" stroke-width="3.2"/>
<text x="238.5" y="1232.8" font-size="22.2">5.8%</text>
<clipPath id="cf1"><rect x="108.4" y="1398.6" width="281.29999999999995" height="244.80000000000018"/></clipPath>
<g clip-path="url(#cf1)">
<ellipse cx="185.0" cy="1554.0" rx="20.0" ry="100.0" fill="url(#pB1)" mask="url(#fd)"/>
<ellipse cx="184.0" cy="1554.0" rx="16.0" ry="96.0" fill="url(#pB2)" mask="url(#fd)"/>
<ellipse cx="191.0" cy="1532.0" rx="11.0" ry="78.0" fill="url(#pB2)" mask="url(#fd)"/>
<ellipse cx="180.0" cy="1556.0" rx="11.5" ry="95.0" fill="url(#pC)" mask="url(#fd)"/>
<ellipse cx="180.0" cy="1556.0" rx="8.5" ry="92.0" fill="url(#pC2)" mask="url(#fd)"/>
<ellipse cx="178.0" cy="1504.0" rx="6.5" ry="38.0" fill="url(#pG2)" mask="url(#fd)"/>
<ellipse cx="181.5" cy="1593.0" rx="11.0" ry="42.0" fill="url(#pG2)" mask="url(#fd)"/>
<ellipse cx="181.0" cy="1594.0" rx="8.0" ry="27.0" fill="url(#pY)" mask="url(#fd)"/>
<ellipse cx="181.0" cy="1594.0" rx="6.0" ry="22.0" fill="url(#pY1)" mask="url(#fd)"/>
<ellipse cx="180.5" cy="1595.0" rx="5.5" ry="19.0" fill="url(#pO)" mask="url(#fd)"/>
<ellipse cx="180.3" cy="1595.0" rx="3.4" ry="13.0" fill="url(#pR)"/>
</g>
<path d="M0 0m180 1415h1m-10 9h1m6 2h1m25 4h1m-31 3h1m-3 3h1m7 1h1m29 2h1m-24 1h1m120 1h1m-87 2h1m50 3h1m-71 2h1m11 1h1m7 0h1m-50 4h1m18 0h1m17 0h1m-27 1h1m-4 2h1m20 0h1m4 0h1m-15 1h1m18 0h1m-27 1h1m22 0h1m7 0h1m-42 2h1m33 0h1m31 1h1m-47 1h1m9 0h1m-26 1h1m29 0h1m85 0h1m-104 1h1m18 0h1m28 0h1m1 0h1m-35 1h1m40 0h1m-70 1h1m40 0h1m-27 2h1m11 0h1m-30 1h1m29 0h1m3 0h1m12 0h1m-49 1h1m1 0h1m31 0h1m22 0h1m107 0h1m-153 1h1m44 0h1m43 0h1m-75 1h1m22 0h1m11 0h1m-34 1h1m-28 1h1m60 0h1m75 1h1m20 0h1m-107 1h1m112 0h1m-127 1h1m1 0h1m28 1h1m-35 1h1m0 0h1m0 0h1m40 0h1m-32 1h1m0 0h1m-22 1h1m14 0h1m21 0h1m89 0h1m-149 1h1m20 0h1m5 0h1m0 0h1m36 0h1m-66 1h1m17 0h1m3 0h1m1 0h1m0 0h1m4 0h1m0 0h1m4 0h1m14 0h1m-57 1h1m-7 1h1m14 1h1m18 0h1m1 0h1m43 0h1m42 0h1m-96 1h1m2 0h1m20 0h1m31 0h1m5 0h1m5 0h1m-77 1h1m12 0h1m14 0h1m-43 1h1m49 0h1m3 0h1m-8 1h1m17 0h1m-76 1h1m32 0h1m3 0h1m4 0h1m1 0h1m7 0h1m0 0h1m6 0h1m8 0h1m5 0h1m-44 1h1m3 0h1m1 0h1m3 0h1m99 0h1m-105 1h1m5 0h1m17 0h1m44 0h1m-75 1h1m6 0h1m1 0h1m1 1h1m25 0h1m5 0h1m102 0h1m-162 1h1m0 0h1m20 0h1m8 0h1m4 0h1m4 0h1m3 0h1m18 0h1m61 0h1m-112 1h1m5 0h1m0 0h1m0 0h1m12 0h1m-37 1h1m16 0h1m8 0h1m11 0h1m26 0h1m1 0h1m25 0h1m3 0h1m-119 1h1m11 0h1m4 0h1m18 0h1m3 0h1m16 0h1m5 0h1m-28 1h1m15 0h1m0 0h1m75 0h1m-132 1h1m6 0h1m29 0h1m20 0h1m24 0h1m-68 1h1m9 0h1m74 0h1m-37 1h1m1 0h1m62 0h1m-92 1h1m17 0h1m8 0h1m17 0h1m2 0h1m-40 1h1m3 0h1m-16 1h1m8 1h1m0 0h1m29 0h1m41 0h1m1 0h1m-80 1h1m-2 1h1m0 0h1m36 0h1m-69 1h1m9 0h1m2 0h1m13 0h1m2 0h1m0 0h1m0 1h1m8 0h1m-9 1h1m51 0h1m32 0h1m-123 1h1m34 0h1m28 0h1m-27 1h1m-37 1h1m3 0h1m29 0h1m12 0h1m14 0h1m9 0h1m-76 1h1m15 0h1m-17 1h1m53 0h1m-47 1h1m22 0h1m18 0h1m-35 1h1m22 0h1m7 0h1m34 0h1m26 0h1m-70 1h1m12 0h1m-16 1h1m-21 1h1m-25 1h1m10 0h1m1 0h1m26 0h1m-28 1h1m67 0h1m-75 1h1m83 0h1m7 0h1m6 0h1m-68 1h1m40 0h1m-73 1h1m17 0h1m-26 1h1m51 0h1m-43 1h1m1 0h1m29 0h1m54 0h1m2 0h1m1 0h1m-101 1h1m6 0h1m11 0h1m7 0h1m-21 1h1m10 0h1m-15 2h1m43 0h1m-62 1h1m26 0h1m7 0h1m15 1h1m4 0h1m10 1h1m-46 1h1m-7 1h1m5 0h1m16 0h1m0 0h1m-8 1h1m-2 1h1m15 0h1m44 1h1m-74 1h1m-10 1h1m20 0h1m33 0h1m-56 1h1m9 0h1m20 0h1m-5 1h1m8 0h1m-33 1h1m3 0h1m8 0h1m19 0h1m-40 1h1m16 0h1m3 0h1m-21 1h1m17 0h1m-9 2h1m8 0h1m-15 1h1m14 0h1m2 0h1m-16 1h1m22 0h1m3 0h1m-37 1h1m20 0h1m1 0h1m0 0h1m-16 2h1m9 0h1m8 0h1m23 0h1m-45 1h1m-7 1h1m6 0h1m16 0h1m-16 1h1m3 0h1m3 0h1m-11 1h1m6 1h1m4 0h1m7 0h1m-19 1h1m3 0h1m5 0h1m-7 1h1m4 0h1m29 0h1m24 0h1m-74 1h1m11 0h1m34 2h1m48 0h1m17 1h1m-117 1h1m8 0h1m9 0h1m29 0h1m5 0h1m-44 2h1m25 0h1m-32 1h1m16 1h1m21 0h1m-43 1h1m11 1h1m3 0h1m31 0h1m-40 1h1m2 0h1m3 0h1m-4 1h1m13 0h1m15 0h1m-35 1h1m4 0h1m7 0h1m2 0h1m10 0h1m5 0h1m-32 1h1m2 0h1m3 0h1m4 1h1m-16 1h1m23 0h1m-37 1h1m7 0h1m4 2h1m24 0h1m30 0h1m-68 1h1m11 0h1m5 0h1m44 0h1m-65 1h1m27 0h1m5 0h1m-20 1h1m-22 2h1m7 1h1m17 0h1m1 1h1m3 0h1m-13 1h1m34 0h1m-43 1h1m3 0h1m10 0h1m16 0h1m-5 1h1m58 0h1m-86 1h1m15 0h1m0 0h1m2 1h1m-20 1h1m12 0h1m-19 1h1m33 1h1m58 1h1m-87 2h1m2 0h1m5 0h1m-1 2h1m71 0h1m-70 4h1m2 1h1m-10 1h1m-9 1h1m2 0h1m5 0h1m4 0h1m-16 1h1m8 1h1m-12 1h1m17 0h1m19 0h1m-50 1h1m9 0h1m6 1h1m-3 1h1m87 0h1m-79 2h1m-16 1h1m-2 2h1m1 0h1m4 0h1m0 1h1m7 0h1m11 0h1m-26 1h1m7 0h1m-17 1h1m2 1h1m21 1h1m-22 1h1m11 0h1m-5 1h1m7 0h1m8 1h1m-34 1h1m11 0h1m4 0h1m1 0h1m25 0h1m-30 2h1m-4 1h1m6 1h1m-8 3h1m-10 1h1m53 0h1m-17 2h1m-20 2h1m8 1h1" transform="translate(0 .5)" stroke="#4a5cc8" stroke-width="1" fill="none"/>
<rect x="107.4" y="1397.6" width="283.3" height="246.8" fill="none" stroke="#000" stroke-width="1.6"/>
<rect x="99.8" y="1417.9" width="7.6" height="5.6"/>
<text transform="translate(92.9 1425.1) scale(1.22 1)" font-size="12.3" text-anchor="end">10<tspan font-size="9.3" dy="-6.2">5</tspan></text>
<rect x="99.8" y="1475.9" width="7.6" height="5.6"/>
<text transform="translate(92.9 1483.1) scale(1.22 1)" font-size="12.3" text-anchor="end">10<tspan font-size="9.3" dy="-6.2">4</tspan></text>
<rect x="99.8" y="1543.5" width="7.6" height="5.6"/>
<text transform="translate(92.9 1550.7) scale(1.22 1)" font-size="12.3" text-anchor="end">10<tspan font-size="9.3" dy="-6.2">3</tspan></text>
<rect x="99.8" y="1581.0" width="7.6" height="15.5"/>
<text transform="translate(92.9 1593.2) scale(1.22 1)" font-size="12.3" text-anchor="end">0</text>
<rect x="99.8" y="1626.6" width="7.6" height="5.6"/>
<text transform="translate(92.9 1633.8) scale(1.22 1)" font-size="12.3" text-anchor="end">−10<tspan font-size="9.3" dy="-6.2">3</tspan></text>
<path d="M103.4 1461.2h4M103.4 1451.0h4M103.4 1443.8h4M103.4 1433.6h4M103.4 1429.7h4M103.4 1426.3h4M103.4 1423.4h4M103.4 1526.0h4M103.4 1514.0h4M103.4 1505.6h4M103.4 1493.7h4M103.4 1489.2h4M103.4 1485.3h4M103.4 1481.8h4M103.4 1403.2h4M103.4 1554.0h4M103.4 1560.8h4M103.4 1573.1h4M103.4 1579.5h4M103.4 1597.7h4M103.4 1603.8h4M103.4 1615.6h4M103.4 1622.1h4" stroke="#000" stroke-width="2.4"/>
<path d="M102.2 1438.2h5.2M102.2 1499.0h5.2M102.2 1565.8h5.2M102.2 1611.1h5.2" stroke="#000" stroke-width="4.2"/>
<rect x="122.0" y="1644.4" width="6" height="6.3"/>
<rect x="162.2" y="1644.4" width="16.5" height="6.3"/>
<rect x="214.8" y="1644.4" width="6" height="6.3"/>
<rect x="292.5" y="1644.4" width="6" height="6.3"/>
<rect x="359.0" y="1644.4" width="6" height="6.3"/>
<path d="M241.2 1644.4v3.2M254.9 1644.4v3.2M264.6 1644.4v3.2M272.1 1644.4v3.2M278.3 1644.4v3.2M283.5 1644.4v3.2M288.0 1644.4v3.2M291.9 1644.4v3.2M315.5 1644.4v3.2M327.2 1644.4v3.2M335.5 1644.4v3.2M342.0 1644.4v3.2M347.2 1644.4v3.2M351.7 1644.4v3.2M355.6 1644.4v3.2M359.0 1644.4v3.2M382.0 1644.4v3.2M134.1 1644.4v3.2M180.0 1644.4v3.2M141.4 1644.4v3.2M187.5 1644.4v3.2M147.8 1644.4v3.2M194.2 1644.4v3.2M154.1 1644.4v3.2M200.8 1644.4v3.2M161.4 1644.4v3.2M208.3 1644.4v3.2" stroke="#000" stroke-width="2"/>
<text transform="translate(124.5 1672.9) scale(1.22 1)" font-size="12.6" text-anchor="middle">−10<tspan font-size="9.6" dy="-6.3">3</tspan></text>
<text transform="translate(170.5 1672.9) scale(1.22 1)" font-size="12.6" text-anchor="middle">0</text>
<text transform="translate(217.8 1672.9) scale(1.22 1)" font-size="12.6" text-anchor="middle">10<tspan font-size="9.6" dy="-6.3">3</tspan></text>
<text transform="translate(295.5 1672.9) scale(1.22 1)" font-size="12.6" text-anchor="middle">10<tspan font-size="9.6" dy="-6.3">4</tspan></text>
<text transform="translate(362.0 1672.9) scale(1.22 1)" font-size="12.6" text-anchor="middle">10<tspan font-size="9.6" dy="-6.3">5</tspan></text>
<rect x="133" y="1453.2" width="71" height="181.2" fill="none" stroke="#000" stroke-width="3"/>
<rect x="206.3" y="1453.9" width="122" height="68.6" fill="none" stroke="#000" stroke-width="3.2"/>
<text x="238.5" y="1551.4" font-size="22.2">2.6%</text>
<text x="238.5" y="1130.8" font-size="22.2">MkP</text>
<line x1="208.6" y1="1242.0" x2="490.0" y2="1242.0" stroke="#000" stroke-width="3.3"/>
<polygon points="507.0,1242.4 478.0,1231.9 485.0,1242.4 478.0,1252.9" fill="#000"/>
<clipPath id="cg0"><rect x="510.5" y="1085.3" width="281.0" height="244.9000000000001"/></clipPath>
<g clip-path="url(#cg0)">
<rect x="512.0" y="1126.0" width="116.0" height="154.0" rx="35" fill="url(#pB1)" mask="url(#fr)"/>
<rect x="614.0" y="1160.0" width="116.0" height="112.0" rx="35" fill="url(#pB1)" mask="url(#fr)"/>
<rect x="524.0" y="1132.0" width="94.0" height="130.0" rx="30" fill="url(#pB2)" mask="url(#fr)"/>
<rect x="606.0" y="1176.0" width="112.0" height="82.0" rx="32" fill="url(#pB2)" mask="url(#fr)"/>
<ellipse cx="572.0" cy="1196.0" rx="50.0" ry="72.0" fill="url(#pC)" mask="url(#fd)"/>
<ellipse cx="676.0" cy="1216.0" rx="46.0" ry="44.0" fill="url(#pC)" mask="url(#fd)"/>
<ellipse cx="568.0" cy="1192.0" rx="42.0" ry="66.0" fill="url(#pG)" mask="url(#fd)"/>
<ellipse cx="680.0" cy="1216.0" rx="38.0" ry="34.0" fill="url(#pG1)" mask="url(#fd)"/>
<ellipse cx="684.0" cy="1214.0" rx="20.0" ry="18.0" fill="url(#pG1)" mask="url(#fd)"/>
<ellipse cx="566.0" cy="1184.0" rx="31.0" ry="56.0" fill="url(#pY)" mask="url(#fd)"/>
<ellipse cx="566.0" cy="1174.0" rx="23.0" ry="42.0" fill="url(#pO)" mask="url(#fd)"/>
<ellipse cx="566.0" cy="1172.0" rx="17.0" ry="36.0" fill="url(#pR1)" mask="url(#fd)"/>
<ellipse cx="566.0" cy="1160.0" rx="10.0" ry="12.0" fill="url(#pR)" mask="url(#fd)"/>
</g>
<path d="M0 0m623 1087h1m-50 7h1m-30 6h1m29 6h1m-31 4h1m27 0h1m-61 1h1m105 0h1m-64 1h1m-6 2h1m55 3h1m50 0h1m-104 3h1m89 0h1m-114 3h1m28 1h1m19 0h1m62 1h1m-81 1h1m-34 2h1m13 1h1m74 0h1m-43 2h1m35 2h1m17 0h1m-92 3h1m24 0h1m82 0h1m-107 1h1m50 2h1m115 0h1m-154 2h1m23 0h1m-51 1h1m85 0h1m37 0h1m-64 1h1m-31 2h1m104 0h1m-102 1h1m15 1h1m42 0h1m-85 1h1m19 0h1m32 0h1m39 0h1m-46 1h1m11 0h1m14 0h1m3 0h1m-64 1h1m21 0h1m19 0h1m-26 1h1m19 0h1m55 0h1m-14 1h1m22 0h1m-105 1h1m8 0h1m25 0h1m11 0h1m8 0h1m-34 1h1m11 1h1m8 0h1m-52 1h1m18 0h1m58 0h1m6 0h1m87 0h1m-179 1h1m21 0h1m43 0h1m8 0h1m-89 1h1m8 0h1m21 0h1m25 0h1m13 0h1m37 0h1m23 0h1m-84 1h1m10 0h1m3 0h1m50 0h1m33 0h1m22 0h1m-176 1h1m25 0h1m55 0h1m24 0h1m19 0h1m-120 1h1m33 0h1m20 0h1m62 0h1m81 0h1m-210 1h1m48 0h1m11 0h1m11 0h1m2 0h1m26 0h1m4 0h1m-74 1h1m63 0h1m59 0h1m-99 1h1m8 0h1m21 0h1m-87 1h1m11 0h1m14 0h1m12 0h1m1 0h1m17 0h1m13 0h1m-7 1h1m26 0h1m4 0h1m-82 1h1m0 0h1m12 0h1m23 0h1m27 0h1m48 0h1m-90 1h1m23 0h1m34 0h1m12 0h1m40 0h1m-133 1h1m15 0h1m54 0h1m28 0h1m31 0h1m-137 1h1m12 0h1m11 0h1m9 0h1m10 0h1m14 0h1m24 0h1m30 0h1m49 0h1m-122 1h1m26 0h1m21 0h1m1 0h1m35 0h1m-104 1h1m15 0h1m14 0h1m20 0h1m9 0h1m6 0h1m24 0h1m-159 1h1m11 0h1m15 0h1m7 0h1m22 0h1m31 0h1m-29 1h1m30 0h1m29 0h1m62 0h1m-156 1h1m81 0h1m17 0h1m-124 1h1m44 0h1m10 0h1m51 0h1m55 0h1m-147 1h1m9 0h1m2 0h1m11 0h1m45 0h1m6 0h1m-99 1h1m0 0h1m57 0h1m10 0h1m15 0h1m106 0h1m-208 1h1m61 0h1m0 0h1m2 0h1m5 0h1m67 0h1m2 0h1m1 0h1m-147 1h1m30 0h1m0 0h1m11 0h1m15 0h1m16 1h1m24 0h1m7 0h1m58 0h1m3 0h1m-150 1h1m24 0h1m51 0h1m0 0h1m13 0h1m29 0h1m14 0h1m15 0h1m-162 1h1m34 0h1m3 0h1m4 0h1m1 0h1m26 0h1m10 0h1m13 0h1m50 0h1m18 0h1m9 0h1m-171 1h1m2 0h1m29 0h1m2 0h1m3 0h1m30 0h1m3 0h1m15 0h1m12 0h1m41 0h1m16 0h1m22 0h1m-165 1h1m32 0h1m58 0h1m26 0h1m5 0h1m22 0h1m-172 1h1m20 0h1m11 0h1m25 0h1m44 0h1m40 0h1m1 0h1m8 0h1m22 0h1m-199 1h1m23 0h1m5 0h1m27 0h1m33 0h1m19 0h1m7 0h1m26 0h1m-148 1h1m75 0h1m7 0h1m4 0h1m1 0h1m17 0h1m16 0h1m56 0h1m4 0h1m17 0h1m-213 1h1m15 0h1m16 0h1m17 0h1m10 0h1m16 0h1m9 0h1m36 0h1m35 0h1m-125 1h1m18 0h1m48 0h1m8 0h1m55 0h1m14 0h1m-122 1h1m6 0h1m2 0h1m27 0h1m30 0h1m6 0h1m0 0h1m31 0h1m5 0h1m-147 1h1m28 0h1m15 0h1m45 0h1m2 0h1m3 0h1m2 0h1m9 0h1m7 0h1m30 0h1m24 0h1m-199 1h1m10 0h1m76 0h1m26 0h1m29 0h1m41 0h1m-150 1h1m37 0h1m7 0h1m2 0h1m49 0h1m22 0h1m11 0h1m7 0h1m2 0h1m-147 1h1m1 0h1m5 0h1m28 0h1m5 0h1m3 0h1m9 0h1m10 0h1m33 0h1m7 0h1m16 0h1m-140 1h1m17 0h1m14 0h1m1 0h1m4 0h1m26 0h1m18 0h1m11 0h1m16 0h1m8 0h1m-155 1h1m17 0h1m5 0h1m3 0h1m7 0h1m18 0h1m7 0h1m4 0h1m1 0h1m13 0h1m23 0h1m3 0h1m30 0h1m49 0h1m-158 1h1m8 0h1m8 0h1m14 0h1m1 0h1m14 0h1m24 0h1m12 0h1m42 0h1m14 0h1m4 0h1m-144 1h1m11 0h1m11 0h1m41 0h1m15 0h1m10 0h1m6 0h1m68 0h1m-194 1h1m14 0h1m24 0h1m3 0h1m38 0h1m6 0h1m8 0h1m2 0h1m17 0h1m12 0h1m15 0h1m-111 1h1m24 0h1m5 0h1m1 0h1m0 0h1m11 0h1m16 0h1m17 0h1m0 0h1m10 0h1m3 0h1m20 0h1m12 0h1m8 0h1m5 0h1m-188 1h1m5 0h1m15 0h1m1 0h1m7 0h1m36 0h1m3 0h1m16 0h1m20 0h1m60 0h1m-149 1h1m3 0h1m27 0h1m3 0h1m11 0h1m26 0h1m21 0h1m2 0h1m-113 1h1m20 0h1m3 0h1m31 0h1m32 0h1m0 0h1m0 0h1m14 0h1m91 0h1m-154 1h1m6 0h1m6 0h1m25 0h1m1 0h1m9 0h1m0 0h1m3 0h1m26 0h1m6 0h1m0 0h1m8 0h1m0 0h1m15 0h1m-198 1h1m19 0h1m3 0h1m7 0h1m42 0h1m44 0h1m49 0h1m19 0h1m-131 1h1m7 0h1m19 0h1m26 0h1m26 0h1m2 0h1m-134 1h1m7 0h1m3 0h1m10 0h1m26 0h1m22 0h1m2 0h1m4 0h1m21 0h1m21 0h1m18 0h1m44 0h1m4 0h1m-147 1h1m12 0h1m0 0h1m15 0h1m23 0h1m16 0h1m16 0h1m0 0h1m2 0h1m2 0h1m3 0h1m2 0h1m20 0h1m29 0h1m-166 1h1m0 0h1m22 0h1m30 0h1m6 0h1m12 0h1m14 0h1m5 0h1m1 0h1m11 0h1m11 0h1m1 0h1m2 0h1m-171 1h1m21 0h1m29 0h1m9 0h1m4 0h1m26 0h1m27 0h1m2 0h1m20 0h1m11 0h1m10 0h1m10 0h1m11 0h1m-167 1h1m15 0h1m2 0h1m42 0h1m0 0h1m3 0h1m8 0h1m0 0h1m15 0h1m7 0h1m23 0h1m13 0h1m19 0h1m-195 1h1m11 0h1m10 0h1m16 0h1m18 0h1m3 0h1m1 0h1m30 0h1m1 0h1m14 0h1m9 0h1m15 0h1m0 0h1m5 0h1m1 0h1m5 0h1m15 0h1m6 0h1m4 0h1m2 0h1m9 0h1m11 0h1m-182 1h1m6 0h1m4 0h1m13 0h1m23 0h1m21 0h1m5 0h1m9 0h1m4 0h1m18 0h1m9 0h1m7 0h1m11 0h1m12 0h1m15 0h1m-160 1h1m4 0h1m7 0h1m13 0h1m17 0h1m26 0h1m14 0h1m10 0h1m6 0h1m20 0h1m19 0h1m-161 1h1m76 0h1m3 0h1m5 0h1m3 0h1m9 0h1m5 0h1m5 0h1m0 0h1m14 0h1m5 0h1m32 0h1m17 0h1m-134 1h1m51 0h1m4 0h1m27 0h1m3 0h1m-149 1h1m5 0h1m60 0h1m1 0h1m0 0h1m1 0h1m34 0h1m8 0h1m1 0h1m2 0h1m4 0h1m7 0h1m0 0h1m5 0h1m25 0h1m7 0h1m-178 1h1m11 0h1m8 0h1m29 0h1m52 0h1m5 0h1m10 0h1m4 0h1m1 0h1m21 0h1m2 0h1m3 0h1m17 0h1m43 0h1m-189 1h1m11 0h1m27 0h1m2 0h1m23 0h1m4 0h1m13 0h1m7 0h1m1 0h1m2 0h1m3 0h1m0 0h1m1 0h1m0 0h1m16 0h1m2 0h1m-135 1h1m9 0h1m1 0h1m0 0h1m9 0h1m7 0h1m10 0h1m5 0h1m12 0h1m6 0h1m6 0h1m8 0h1m8 0h1m13 0h1m2 0h1m3 0h1m31 0h1m59 0h1m-209 1h1m20 0h1m5 0h1m0 0h1m2 0h1m1 0h1m7 0h1m21 0h1m10 0h1m0 0h1m20 0h1m7 0h1m13 0h1m15 0h1m0 0h1m6 0h1m1 0h1m1 0h1m6 0h1m1 0h1m1 0h1m-179 1h1m12 0h1m3 0h1m24 0h1m24 0h1m15 0h1m13 0h1m11 0h1m9 0h1m10 0h1m1 0h1m13 0h1m-103 1h1m0 0h1m2 0h1m3 0h1m18 0h1m3 0h1m3 0h1m2 0h1m12 0h1m15 0h1m7 0h1m8 0h1m16 0h1m56 0h1m14 0h1m-205 1h1m24 0h1m0 0h1m30 0h1m1 0h1m3 0h1m9 0h1m38 0h1m8 0h1m39 0h1m13 0h1m-184 1h1m18 0h1m36 0h1m10 0h1m16 0h1m11 0h1m10 0h1m2 0h1m36 0h1m3 0h1m2 0h1m2 0h1m10 0h1m10 0h1m7 0h1m1 0h1m-170 1h1m20 0h1m51 0h1m56 0h1m15 0h1m1 0h1m-177 1h1m23 0h1m16 0h1m10 0h1m44 0h1m12 0h1m2 0h1m5 0h1m6 0h1m6 0h1m24 0h1m1 0h1m5 0h1m9 0h1m14 0h1m-167 1h1m15 0h1m23 0h1m17 0h1m6 0h1m12 0h1m11 0h1m5 0h1m9 0h1m30 0h1m5 0h1m1 0h1m0 0h1m21 0h1m-175 1h1m1 0h1m23 0h1m38 0h1m33 0h1m3 0h1m12 0h1m3 0h1m51 0h1m-176 1h1m0 0h1m9 0h1m1 0h1m7 0h1m1 0h1m0 0h1m12 0h1m9 0h1m17 0h1m2 0h1m2 0h1m37 0h1m8 0h1m5 0h1m1 0h1m1 0h1m8 0h1m2 0h1m9 0h1m3 0h1m3 0h1m-98 1h1m51 0h1m13 0h1m15 0h1m10 0h1m-177 1h1m2 0h1m35 0h1m24 0h1m9 0h1m9 0h1m8 0h1m20 0h1m30 0h1m12 0h1m13 0h1m16 0h1m18 0h1m-192 1h1m12 0h1m31 0h1m12 0h1m7 0h1m8 0h1m19 0h1m24 0h1m25 0h1m0 0h1m16 0h1m3 0h1m-191 1h1m5 0h1m16 0h1m4 0h1m15 0h1m3 0h1m14 0h1m35 0h1m1 0h1m35 0h1m9 0h1m3 0h1m7 0h1m12 0h1m0 0h1m19 0h1m-170 1h1m14 0h1m4 0h1m7 0h1m15 0h1m3 0h1m54 0h1m43 0h1m7 0h1m-129 1h1m46 0h1m73 0h1m-132 1h1m25 0h1m8 0h1m9 0h1m20 0h1m27 0h1m5 0h1m57 0h1m-139 1h1m10 0h1m42 0h1m24 0h1m16 0h1m13 0h1m12 0h1m3 0h1m-151 1h1m21 0h1m43 0h1m14 0h1m3 0h1m0 0h1m11 0h1m11 0h1m24 0h1m0 0h1m4 0h1m22 0h1m7 0h1m-183 1h1m19 0h1m15 0h1m12 0h1m33 0h1m4 0h1m47 0h1m16 0h1m7 0h1m18 0h1m-172 1h1m13 0h1m9 0h1m10 0h1m3 0h1m23 0h1m17 0h1m5 0h1m7 0h1m44 0h1m13 0h1m2 0h1m23 0h1m-191 1h1m30 0h1m27 0h1m19 0h1m20 0h1m9 0h1m3 0h1m21 0h1m23 0h1m-137 1h1m22 0h1m52 0h1m41 0h1m18 0h1m-170 1h1m4 0h1m55 0h1m37 0h1m29 0h1m1 0h1m24 0h1m7 0h1m-164 1h1m17 0h1m19 0h1m2 0h1m56 0h1m7 0h1m37 0h1m15 0h1m22 0h1m-140 1h1m7 0h1m11 0h1m65 0h1m7 0h1m-116 1h1m7 0h1m33 0h1m12 0h1m36 0h1m16 0h1m28 0h1m21 0h1m-65 1h1m31 0h1m-154 1h1m16 0h1m9 0h1m2 0h1m8 0h1m31 0h1m2 0h1m9 0h1m37 0h1m74 0h1m7 0h1m-207 1h1m2 0h1m25 0h1m15 0h1m49 0h1m14 0h1m2 0h1m29 0h1m-87 1h1m10 0h1m37 0h1m80 0h1m-134 1h1m32 0h1m13 0h1m1 0h1m22 0h1m-148 1h1m100 0h1m48 0h1m-32 1h1m42 0h1m2 0h1m4 0h1m0 0h1m3 0h1m5 0h1m-145 1h1m27 0h1m28 0h1m5 0h1m23 0h1m15 0h1m21 0h1m-143 1h1m61 0h1m74 0h1m-96 1h1m11 0h1m11 0h1m49 0h1m3 0h1m18 0h1m19 0h1m-67 1h1m5 0h1m37 0h1m47 0h1m-143 1h1m13 0h1m29 0h1m11 0h1m56 0h1m3 0h1m32 0h1m-99 1h1m24 0h1m31 0h1m-137 1h1m25 0h1m22 0h1m51 0h1m-91 1h1m45 0h1m6 0h1m9 0h1m23 0h1m-131 1h1m48 0h1m18 0h1m28 0h1m25 0h1m43 0h1m-64 1h1m25 0h1m61 0h1m-134 1h1m152 0h1m-91 1h1m15 0h1m21 0h1m-6 2h1m74 0h1m-167 1h1m50 1h1m5 0h1m35 0h1m6 0h1m6 0h1m-97 1h1m54 0h1m46 0h1m-8 1h1m-133 1h1m52 0h1m113 0h1m-155 1h1m2 0h1m108 0h1m-142 1h1m65 1h1m27 0h1m56 0h1m44 0h1m-175 1h1m37 0h1m67 0h1m-98 1h1m32 0h1m79 0h1m-120 1h1m87 0h1m-57 1h1m55 1h1m43 0h1m-162 1h1m97 0h1m42 0h1m-75 2h1m45 0h1m-21 1h1m82 0h1m-140 2h1m19 0h1m-1 2h1m48 0h1m-98 2h1m6 1h1m98 0h1m21 0h1m-106 2h1m53 1h1m25 0h1m-40 1h1m9 2h1m26 0h1m-44 2h1m1 0h1m-20 3h1m54 1h1m25 0h1m-92 3h1m12 2h1m-36 2h1m31 1h1m68 2h1m-120 7h1m111 1h1" transform="translate(0 .5)" stroke="#4a5cc8" stroke-width="1" fill="none"/>
<rect x="509.5" y="1084.3" width="283.0" height="246.9" fill="none" stroke="#000" stroke-width="1.6"/>
<rect x="501.9" y="1106.2" width="7.6" height="5.6"/>
<text transform="translate(495.0 1113.4) scale(1.22 1)" font-size="12.3" text-anchor="end">10<tspan font-size="9.3" dy="-6.2">5</tspan></text>
<rect x="501.9" y="1164.6" width="7.6" height="5.6"/>
<text transform="translate(495.0 1171.8) scale(1.22 1)" font-size="12.3" text-anchor="end">10<tspan font-size="9.3" dy="-6.2">4</tspan></text>
<rect x="501.9" y="1229.4" width="7.6" height="5.6"/>
<text transform="translate(495.0 1236.6) scale(1.22 1)" font-size="12.3" text-anchor="end">10<tspan font-size="9.3" dy="-6.2">3</tspan></text>
<rect x="501.9" y="1267.2" width="7.6" height="15.5"/>
<text transform="translate(495.0 1279.4) scale(1.22 1)" font-size="12.3" text-anchor="end">0</text>
<rect x="501.9" y="1313.9" width="7.6" height="5.6"/>
<text transform="translate(495.0 1321.1) scale(1.22 1)" font-size="12.3" text-anchor="end">−10<tspan font-size="9.3" dy="-6.2">3</tspan></text>
<path d="M505.5 1149.8h4M505.5 1139.5h4M505.5 1132.2h4M505.5 1122.0h4M505.5 1118.0h4M505.5 1114.7h4M505.5 1111.7h4M505.5 1212.7h4M505.5 1201.3h4M505.5 1193.2h4M505.5 1181.8h4M505.5 1177.4h4M505.5 1173.7h4M505.5 1170.4h4M505.5 1091.4h4M505.5 1239.9h4M505.5 1246.8h4M505.5 1259.2h4M505.5 1265.6h4M505.5 1284.2h4M505.5 1290.4h4M505.5 1302.5h4M505.5 1309.2h4" stroke="#000" stroke-width="2.4"/>
<path d="M504.3 1126.6h5.2M504.3 1186.9h5.2M504.3 1251.9h5.2M504.3 1297.9h5.2" stroke="#000" stroke-width="4.2"/>
<rect x="524.4" y="1331.2" width="6" height="6.3"/>
<rect x="565.5" y="1331.2" width="16.5" height="6.3"/>
<rect x="617.3" y="1331.2" width="6" height="6.3"/>
<rect x="694.6" y="1331.2" width="6" height="6.3"/>
<rect x="761.5" y="1331.2" width="6" height="6.3"/>
<path d="M643.6 1331.2v3.2M657.2 1331.2v3.2M666.8 1331.2v3.2M674.3 1331.2v3.2M680.5 1331.2v3.2M685.6 1331.2v3.2M690.1 1331.2v3.2M694.1 1331.2v3.2M717.7 1331.2v3.2M729.5 1331.2v3.2M737.9 1331.2v3.2M744.4 1331.2v3.2M749.7 1331.2v3.2M754.1 1331.2v3.2M758.0 1331.2v3.2M761.4 1331.2v3.2M784.6 1331.2v3.2M536.7 1331.2v3.2M583.0 1331.2v3.2M544.1 1331.2v3.2M590.5 1331.2v3.2M550.5 1331.2v3.2M597.0 1331.2v3.2M557.0 1331.2v3.2M603.5 1331.2v3.2M564.4 1331.2v3.2M611.0 1331.2v3.2" stroke="#000" stroke-width="2"/>
<text transform="translate(526.9 1361.2) scale(1.22 1)" font-size="12.6" text-anchor="middle">−10<tspan font-size="9.6" dy="-6.3">3</tspan></text>
<text transform="translate(573.7 1361.2) scale(1.22 1)" font-size="12.6" text-anchor="middle">0</text>
<text transform="translate(620.3 1361.2) scale(1.22 1)" font-size="12.6" text-anchor="middle">10<tspan font-size="9.6" dy="-6.3">3</tspan></text>
<text transform="translate(697.6 1361.2) scale(1.22 1)" font-size="12.6" text-anchor="middle">10<tspan font-size="9.6" dy="-6.3">4</tspan></text>
<text transform="translate(764.5 1361.2) scale(1.22 1)" font-size="12.6" text-anchor="middle">10<tspan font-size="9.6" dy="-6.3">5</tspan></text>
<rect x="515.8" y="1108.7" width="115.8" height="64.2" fill="none" stroke="#000" stroke-width="3"/>
<polygon points="516.8,1178.0 631.5,1179.3 649.5,1156.8 727,1158.5 728.6,1292.8 517.8,1292.4" fill="none" stroke="#000" stroke-width="2.9" stroke-linejoin="round"/>
<text x="640.0" y="1134.3" font-size="22.2">28%</text>
<clipPath id="cg1"><rect x="510.5" y="1401.4" width="281.0" height="245.19999999999982"/></clipPath>
<g clip-path="url(#cg1)">
<rect x="512.0" y="1442.0" width="116.0" height="154.0" rx="35" fill="url(#pB1)" mask="url(#fr)"/>
<rect x="614.0" y="1476.0" width="116.0" height="112.0" rx="35" fill="url(#pB1)" mask="url(#fr)"/>
<rect x="524.0" y="1448.0" width="94.0" height="130.0" rx="30" fill="url(#pB2)" mask="url(#fr)"/>
<rect x="606.0" y="1492.0" width="112.0" height="82.0" rx="32" fill="url(#pB2)" mask="url(#fr)"/>
<ellipse cx="572.0" cy="1512.0" rx="50.0" ry="72.0" fill="url(#pC)" mask="url(#fd)"/>
<ellipse cx="676.0" cy="1532.0" rx="46.0" ry="44.0" fill="url(#pC)" mask="url(#fd)"/>
<ellipse cx="566.0" cy="1504.0" rx="40.0" ry="60.0" fill="url(#pG)" mask="url(#fd)"/>
<ellipse cx="680.0" cy="1538.0" rx="36.0" ry="34.0" fill="url(#pG1)" mask="url(#fd)"/>
<ellipse cx="682.0" cy="1538.0" rx="20.0" ry="20.0" fill="url(#pG1)" mask="url(#fd)"/>
<ellipse cx="565.0" cy="1490.0" rx="30.0" ry="44.0" fill="url(#pY)" mask="url(#fd)"/>
<ellipse cx="682.0" cy="1538.0" rx="16.0" ry="16.0" fill="url(#pY1)" mask="url(#fd)"/>
<ellipse cx="565.0" cy="1479.0" rx="23.0" ry="24.0" fill="url(#pO)" mask="url(#fd)"/>
<ellipse cx="565.0" cy="1478.0" rx="17.0" ry="18.0" fill="url(#pR1)" mask="url(#fd)"/>
<ellipse cx="565.0" cy="1476.0" rx="9.0" ry="8.0" fill="url(#pR)" mask="url(#fd)"/>
</g>
<path d="M0 0m600 1403h1m-44 7h1m52 6h1m-39 1h1m-4 2h1m52 2h1m-61 2h1m12 0h1m0 0h1m38 0h1m-44 2h1m-25 1h1m27 6h1m80 1h1m-37 1h1m-40 1h1m22 1h1m-23 1h1m-54 1h1m10 0h1m40 0h1m5 0h1m6 0h1m-79 1h1m81 0h1m77 3h1m-83 1h1m-21 2h1m-18 1h1m3 0h1m26 0h1m72 0h1m34 2h1m-51 1h1m81 0h1m-108 1h1m1 0h1m-62 2h1m43 0h1m16 0h1m10 1h1m-56 1h1m21 0h1m-61 1h1m55 0h1m-34 1h1m5 0h1m14 0h1m1 0h1m-9 1h1m-34 1h1m15 0h1m0 0h1m1 0h1m7 0h1m12 0h1m12 0h1m8 0h1m-38 2h1m21 0h1m4 0h1m91 0h1m-126 1h1m-28 1h1m67 0h1m-68 1h1m10 0h1m29 0h1m4 0h1m28 0h1m0 0h1m25 1h1m24 0h1m-103 1h1m40 0h1m15 0h1m1 0h1m-96 1h1m1 0h1m34 0h1m16 0h1m4 0h1m3 0h1m57 0h1m29 0h1m-127 1h1m22 0h1m35 0h1m2 0h1m5 0h1m-38 2h1m13 0h1m55 0h1m19 0h1m-126 1h1m0 0h1m2 0h1m32 0h1m42 0h1m-84 1h1m37 0h1m2 0h1m29 0h1m-61 1h1m21 0h1m-36 1h1m74 0h1m22 0h1m-83 1h1m6 0h1m48 0h1m21 0h1m27 0h1m-96 1h1m-10 1h1m27 0h1m-47 1h1m6 0h1m12 0h1m35 0h1m59 0h1m37 0h1m-145 1h1m10 0h1m63 0h1m-43 1h1m44 0h1m-89 1h1m4 0h1m20 0h1m8 0h1m49 0h1m-105 1h1m44 0h1m8 0h1m24 0h1m113 0h1m-132 1h1m40 0h1m6 0h1m1 0h1m30 0h1m-118 1h1m32 0h1m46 0h1m-92 1h1m16 0h1m18 0h1m0 0h1m33 0h1m-44 1h1m13 0h1m8 0h1m-41 1h1m23 0h1m4 0h1m1 0h1m6 0h1m23 0h1m25 0h1m41 0h1m-151 1h1m21 0h1m2 0h1m12 0h1m20 0h1m0 0h1m0 0h1m0 0h1m20 0h1m94 0h1m-179 1h1m87 0h1m11 0h1m4 0h1m5 0h1m52 0h1m3 0h1m2 0h1m-165 1h1m16 0h1m2 0h1m7 0h1m6 0h1m12 0h1m29 0h1m18 0h1m1 0h1m29 0h1m-120 1h1m38 0h1m22 0h1m42 0h1m4 0h1m-125 1h1m13 0h1m6 0h1m7 0h1m94 0h1m13 0h1m-83 1h1m37 0h1m10 0h1m20 0h1m-96 1h1m22 0h1m26 0h1m58 0h1m-165 1h1m93 0h1m9 0h1m26 0h1m31 0h1m1 0h1m22 0h1m-173 1h1m22 0h1m0 0h1m5 0h1m12 0h1m11 0h1m19 0h1m-69 1h1m15 0h1m18 0h1m26 0h1m11 0h1m12 0h1m36 0h1m4 0h1m10 0h1m35 0h1m-174 1h1m79 0h1m6 0h1m49 0h1m47 0h1m-162 1h1m14 0h1m14 0h1m83 0h1m6 0h1m6 0h1m-175 1h1m39 0h1m5 0h1m4 0h1m3 0h1m45 0h1m21 0h1m29 0h1m2 0h1m14 0h1m13 0h1m28 0h1m-206 1h1m3 0h1m10 0h1m4 0h1m11 0h1m43 0h1m0 0h1m5 0h1m2 0h1m2 0h1m8 0h1m17 0h1m4 0h1m-94 1h1m4 0h1m10 0h1m16 0h1m2 0h1m8 0h1m5 0h1m29 0h1m28 0h1m20 0h1m7 0h1m38 0h1m-170 1h1m14 0h1m28 0h1m9 0h1m73 0h1m6 0h1m4 0h1m31 0h1m-151 1h1m13 0h1m4 0h1m3 0h1m26 0h1m19 0h1m13 0h1m47 0h1m-170 1h1m26 0h1m1 0h1m7 0h1m9 0h1m10 0h1m29 0h1m16 0h1m0 0h1m3 0h1m19 0h1m30 0h1m30 0h1m-184 1h1m48 0h1m37 0h1m8 0h1m17 0h1m-62 1h1m73 0h1m38 0h1m-188 1h1m25 0h1m4 0h1m3 0h1m3 0h1m4 0h1m19 0h1m15 0h1m15 0h1m2 0h1m27 0h1m12 0h1m8 0h1m47 0h1m-199 1h1m38 0h1m0 0h1m7 0h1m6 0h1m54 0h1m42 0h1m31 0h1m-166 1h1m47 0h1m9 0h1m31 0h1m17 0h1m21 0h1m5 0h1m10 0h1m3 0h1m2 0h1m6 0h1m-201 1h1m33 0h1m27 0h1m84 0h1m12 0h1m9 0h1m7 0h1m-172 1h1m69 0h1m1 0h1m11 0h1m11 0h1m1 0h1m3 0h1m5 0h1m11 0h1m26 0h1m5 0h1m-132 1h1m71 0h1m18 0h1m2 0h1m2 0h1m22 0h1m2 0h1m0 0h1m15 0h1m3 0h1m8 0h1m-171 1h1m15 0h1m21 0h1m11 0h1m2 0h1m4 0h1m34 0h1m8 0h1m18 0h1m23 0h1m0 0h1m-120 1h1m0 0h1m18 0h1m10 0h1m8 0h1m18 0h1m5 0h1m15 0h1m22 0h1m4 0h1m11 0h1m0 0h1m3 0h1m0 0h1m0 0h1m-141 1h1m19 0h1m25 0h1m23 0h1m22 0h1m4 0h1m8 0h1m10 0h1m4 0h1m-115 1h1m24 0h1m5 0h1m32 0h1m1 0h1m9 0h1m16 0h1m7 0h1m18 0h1m6 0h1m20 0h1m35 0h1m-155 1h1m2 0h1m73 0h1m7 0h1m1 0h1m63 0h1m-172 1h1m11 0h1m7 0h1m11 0h1m2 0h1m11 0h1m17 0h1m5 0h1m11 0h1m19 0h1m21 0h1m-111 1h1m1 0h1m12 0h1m7 0h1m9 0h1m9 0h1m28 0h1m14 0h1m1 0h1m7 0h1m32 0h1m-169 1h1m31 0h1m23 0h1m42 0h1m4 0h1m31 0h1m0 0h1m1 0h1m8 0h1m0 0h1m-156 1h1m28 0h1m14 0h1m6 0h1m0 0h1m5 0h1m13 0h1m13 0h1m10 0h1m18 0h1m8 0h1m14 0h1m16 0h1m39 0h1m-191 1h1m22 0h1m11 0h1m12 0h1m14 0h1m30 0h1m7 0h1m18 0h1m23 0h1m12 0h1m-177 1h1m26 0h1m1 0h1m49 0h1m8 0h1m31 0h1m2 0h1m9 0h1m3 0h1m1 0h1m15 0h1m5 0h1m39 0h1m-166 1h1m5 0h1m5 0h1m30 0h1m31 0h1m2 0h1m38 0h1m-141 1h1m12 0h1m5 0h1m0 0h1m11 0h1m1 0h1m60 0h1m7 0h1m10 0h1m19 0h1m9 0h1m2 0h1m67 0h1m-183 1h1m4 0h1m1 0h1m12 0h1m3 0h1m32 0h1m38 0h1m4 0h1m8 0h1m7 0h1m14 0h1m36 0h1m-197 1h1m43 0h1m0 0h1m35 0h1m15 0h1m4 0h1m25 0h1m4 0h1m9 0h1m17 0h1m-150 1h1m1 0h1m1 0h1m2 0h1m15 0h1m10 0h1m12 0h1m26 0h1m17 0h1m20 0h1m0 0h1m3 0h1m28 0h1m-76 1h1m9 0h1m3 0h1m24 0h1m2 0h1m0 0h1m50 0h1m-171 1h1m8 0h1m51 0h1m0 0h1m41 0h1m14 0h1m6 0h1m10 0h1m11 0h1m0 0h1m-131 1h1m4 0h1m4 0h1m11 0h1m2 0h1m2 0h1m0 0h1m1 0h1m0 0h1m13 0h1m6 0h1m7 0h1m9 0h1m15 0h1m7 0h1m8 0h1m56 0h1m11 0h1m-182 1h1m3 0h1m0 0h1m6 0h1m2 0h1m24 0h1m42 0h1m9 0h1m1 0h1m1 0h1m5 0h1m1 0h1m1 0h1m-95 1h1m4 0h1m23 0h1m32 0h1m23 0h1m1 0h1m3 0h1m52 0h1m54 0h1m-242 1h1m25 0h1m35 0h1m8 0h1m0 0h1m12 0h1m47 0h1m11 0h1m-158 1h1m34 0h1m2 0h1m4 0h1m9 0h1m11 0h1m4 0h1m5 0h1m3 0h1m8 0h1m18 0h1m4 0h1m5 0h1m15 0h1m2 0h1m15 0h1m8 0h1m26 0h1m-173 1h1m28 0h1m1 0h1m13 0h1m29 0h1m3 0h1m15 0h1m4 0h1m14 0h1m9 0h1m5 0h1m2 0h1m10 0h1m26 0h1m-166 1h1m37 0h1m12 0h1m4 0h1m23 0h1m18 0h1m2 0h1m17 0h1m0 0h1m5 0h1m1 0h1m3 0h1m14 0h1m-133 1h1m7 0h1m14 0h1m5 0h1m78 0h1m17 0h1m7 0h1m7 0h1m-157 1h1m11 0h1m7 0h1m53 0h1m16 0h1m5 0h1m38 0h1m-121 1h1m8 0h1m5 0h1m16 0h1m8 0h1m16 0h1m11 0h1m9 0h1m1 0h1m10 0h1m5 0h1m5 0h1m4 0h1m0 0h1m2 0h1m11 0h1m24 0h1m-186 1h1m28 0h1m3 0h1m27 0h1m39 0h1m7 0h1m7 0h1m13 0h1m6 0h1m4 0h1m23 0h1m10 0h1m11 0h1m-186 1h1m19 0h1m2 0h1m2 0h1m0 0h1m18 0h1m15 0h1m71 0h1m21 0h1m7 0h1m-179 1h1m33 0h1m8 0h1m18 0h1m16 0h1m20 0h1m9 0h1m8 0h1m16 0h1m11 0h1m1 0h1m8 0h1m-144 1h1m31 0h1m2 0h1m26 0h1m38 0h1m12 0h1m8 0h1m4 0h1m15 0h1m17 0h1m9 0h1m7 0h1m8 0h1m24 0h1m-189 1h1m0 0h1m41 0h1m0 0h1m20 0h1m13 0h1m22 0h1m8 0h1m1 0h1m7 0h1m0 0h1m33 0h1m-174 1h1m45 0h1m24 0h1m3 0h1m0 0h1m4 0h1m2 0h1m19 0h1m23 0h1m13 0h1m-146 1h1m5 0h1m13 0h1m9 0h1m6 0h1m84 0h1m32 0h1m-126 1h1m31 0h1m16 0h1m10 0h1m5 0h1m4 0h1m2 0h1m9 0h1m9 0h1m4 0h1m17 0h1m-124 1h1m8 0h1m8 0h1m1 0h1m14 0h1m1 0h1m6 0h1m13 0h1m39 0h1m1 0h1m28 0h1m7 0h1m2 0h1m-147 1h1m17 0h1m5 0h1m9 0h1m6 0h1m2 0h1m39 0h1m0 0h1m13 0h1m7 0h1m19 0h1m0 0h1m-141 1h1m15 0h1m28 0h1m35 0h1m42 0h1m-97 1h1m3 0h1m32 0h1m5 0h1m5 0h1m-82 1h1m9 0h1m17 0h1m8 0h1m6 0h1m6 0h1m20 0h1m12 0h1m7 0h1m119 0h1m-173 1h1m2 0h1m10 0h1m49 0h1m32 0h1m29 0h1m0 0h1m11 0h1m-151 1h1m4 0h1m36 0h1m59 0h1m7 0h1m12 0h1m22 0h1m-167 1h1m15 0h1m24 0h1m71 0h1m6 0h1m-147 1h1m27 0h1m4 0h1m6 0h1m25 0h1m11 0h1m54 0h1m44 0h1m-151 1h1m8 0h1m20 0h1m22 0h1m30 0h1m20 0h1m7 0h1m32 0h1m-172 1h1m36 0h1m16 0h1m4 0h1m38 0h1m0 0h1m42 0h1m11 0h1m24 0h1m6 0h1m-162 1h1m12 0h1m10 0h1m17 0h1m90 0h1m-159 1h1m55 0h1m43 0h1m25 0h1m3 0h1m15 0h1m-123 1h1m89 0h1m10 0h1m5 0h1m4 0h1m6 0h1m18 0h1m13 0h1m28 0h1m-190 1h1m35 0h1m56 0h1m3 0h1m13 0h1m-129 1h1m13 0h1m90 0h1m1 0h1m18 0h1m25 0h1m8 0h1m-117 1h1m0 0h1m12 0h1m2 0h1m0 0h1m2 0h1m27 0h1m9 0h1m29 0h1m5 0h1m-126 1h1m15 0h1m6 0h1m4 0h1m8 0h1m15 0h1m20 0h1m32 0h1m7 0h1m8 0h1m12 0h1m4 0h1m-118 1h1m27 0h1m8 0h1m54 0h1m9 0h1m-131 1h1m8 0h1m7 0h1m19 0h1m4 0h1m73 0h1m8 0h1m9 0h1m0 0h1m6 0h1m2 0h1m22 0h1m-101 1h1m12 0h1m32 0h1m16 0h1m19 0h1m9 0h1m25 0h1m-176 1h1m36 0h1m7 0h1m13 0h1m54 0h1m4 0h1m52 0h1m-160 1h1m12 0h1m11 0h1m23 0h1m5 0h1m12 0h1m5 0h1m3 0h1m11 1h1m5 0h1m14 0h1m-25 1h1m0 0h1m3 0h1m3 0h1m0 0h1m18 0h1m26 0h1m-134 1h1m6 0h1m9 0h1m42 0h1m-74 1h1m7 0h1m9 0h1m26 0h1m24 0h1m17 0h1m18 0h1m0 0h1m34 0h1m-88 1h1m0 0h1m42 0h1m42 0h1m-145 1h1m33 0h1m9 0h1m31 0h1m18 0h1m4 0h1m62 0h1m-171 1h1m1 0h1m8 0h1m113 0h1m-106 1h1m32 0h1m10 0h1m29 0h1m13 0h1m22 0h1m-105 1h1m2 0h1m2 0h1m12 0h1m21 0h1m14 0h1m6 0h1m50 0h1m18 0h1m-127 1h1m46 0h1m6 0h1m0 0h1m41 0h1m-137 1h1m52 0h1m9 0h1m14 0h1m15 0h1m44 0h1m17 0h1m-169 1h1m65 0h1m80 0h1m-165 1h1m1 0h1m6 0h1m25 0h1m103 0h1m26 0h1m-131 1h1m45 0h1m5 0h1m49 0h1m-144 1h1m48 0h1m46 0h1m36 0h1m-98 2h1m11 0h1m4 0h1m13 0h1m70 0h1m56 0h1m-73 1h1m-96 1h1m20 0h1m22 0h1m53 0h1m6 0h1m-141 1h1m97 1h1m-88 1h1m35 0h1m111 0h1m9 0h1m28 0h1m-154 1h1m65 0h1m42 0h1m12 0h1m-86 1h1m75 0h1m-112 1h1m30 1h1m5 0h1m69 0h1m-89 1h1m-42 2h1m41 2h1m55 0h1m67 0h1m-86 1h1m-50 1h1m7 1h1m14 0h1m10 2h1m14 0h1m66 2h1m-29 2h1m-21 1h1m-57 1h1m-23 1h1m-38 1h1m114 8h1m28 1h1m22 0h1m-149 2h1m-1 1h1m77 2h1m-50 5h1m44 6h1" transform="translate(0 .5)" stroke="#4a5cc8" stroke-width="1" fill="none"/>
<rect x="509.5" y="1400.4" width="283.0" height="247.2" fill="none" stroke="#000" stroke-width="1.6"/>
<rect x="501.9" y="1420.6" width="7.6" height="5.6"/>
<text transform="translate(495.0 1427.8) scale(1.22 1)" font-size="12.3" text-anchor="end">10<tspan font-size="9.3" dy="-6.2">5</tspan></text>
<rect x="501.9" y="1479.7" width="7.6" height="5.6"/>
<text transform="translate(495.0 1486.9) scale(1.22 1)" font-size="12.3" text-anchor="end">10<tspan font-size="9.3" dy="-6.2">4</tspan></text>
<rect x="501.9" y="1546.2" width="7.6" height="5.6"/>
<text transform="translate(495.0 1553.4) scale(1.22 1)" font-size="12.3" text-anchor="end">10<tspan font-size="9.3" dy="-6.2">3</tspan></text>
<rect x="501.9" y="1583.5" width="7.6" height="15.5"/>
<text transform="translate(495.0 1595.6) scale(1.22 1)" font-size="12.3" text-anchor="end">0</text>
<rect x="501.9" y="1628.9" width="7.6" height="5.6"/>
<text transform="translate(495.0 1636.1) scale(1.22 1)" font-size="12.3" text-anchor="end">−10<tspan font-size="9.3" dy="-6.2">3</tspan></text>
<path d="M505.5 1464.7h4M505.5 1454.3h4M505.5 1446.9h4M505.5 1436.5h4M505.5 1432.6h4M505.5 1429.1h4M505.5 1426.1h4M505.5 1529.0h4M505.5 1517.3h4M505.5 1509.0h4M505.5 1497.3h4M505.5 1492.8h4M505.5 1488.9h4M505.5 1485.5h4M505.5 1405.6h4M505.5 1556.6h4M505.5 1563.3h4M505.5 1575.6h4M505.5 1581.9h4M505.5 1600.1h4M505.5 1606.2h4M505.5 1617.9h4M505.5 1624.4h4M505.5 1645.9h4" stroke="#000" stroke-width="2.4"/>
<path d="M504.3 1441.2h5.2M504.3 1502.5h5.2M504.3 1568.4h5.2M504.3 1613.5h5.2" stroke="#000" stroke-width="4.2"/>
<rect x="524.4" y="1647.6" width="6" height="6.3"/>
<rect x="565.5" y="1647.6" width="16.5" height="6.3"/>
<rect x="617.3" y="1647.6" width="6" height="6.3"/>
<rect x="694.6" y="1647.6" width="6" height="6.3"/>
<rect x="761.5" y="1647.6" width="6" height="6.3"/>
<path d="M643.6 1647.6v3.2M657.2 1647.6v3.2M666.8 1647.6v3.2M674.3 1647.6v3.2M680.5 1647.6v3.2M685.6 1647.6v3.2M690.1 1647.6v3.2M694.1 1647.6v3.2M717.7 1647.6v3.2M729.5 1647.6v3.2M737.9 1647.6v3.2M744.4 1647.6v3.2M749.7 1647.6v3.2M754.1 1647.6v3.2M758.0 1647.6v3.2M761.4 1647.6v3.2M784.6 1647.6v3.2M536.7 1647.6v3.2M583.0 1647.6v3.2M544.1 1647.6v3.2M590.5 1647.6v3.2M550.5 1647.6v3.2M597.0 1647.6v3.2M557.0 1647.6v3.2M603.5 1647.6v3.2M564.4 1647.6v3.2M611.0 1647.6v3.2" stroke="#000" stroke-width="2"/>
<text transform="translate(526.9 1676.3) scale(1.22 1)" font-size="12.6" text-anchor="middle">−10<tspan font-size="9.6" dy="-6.3">3</tspan></text>
<text transform="translate(573.7 1676.3) scale(1.22 1)" font-size="12.6" text-anchor="middle">0</text>
<text transform="translate(620.3 1676.3) scale(1.22 1)" font-size="12.6" text-anchor="middle">10<tspan font-size="9.6" dy="-6.3">3</tspan></text>
<text transform="translate(697.6 1676.3) scale(1.22 1)" font-size="12.6" text-anchor="middle">10<tspan font-size="9.6" dy="-6.3">4</tspan></text>
<text transform="translate(764.5 1676.3) scale(1.22 1)" font-size="12.6" text-anchor="middle">10<tspan font-size="9.6" dy="-6.3">5</tspan></text>
<rect x="515.8" y="1424.6" width="115.8" height="65.0" fill="none" stroke="#000" stroke-width="3"/>
<polygon points="516.8,1494.7 631.5,1496.0 649.5,1473.5 727,1475.2 728.6,1609.5 517.8,1609.1" fill="none" stroke="#000" stroke-width="2.9" stroke-linejoin="round"/>
<text x="640.0" y="1446.7" font-size="22.2">25%</text>
<text x="548.0" y="1104.6" font-size="22.2">GMP</text>
<line x1="730.0" y1="1213.7" x2="900.0" y2="1213.7" stroke="#000" stroke-width="3.3"/>
<polygon points="918.9,1213.9 891.4,1203.4 898.4,1213.9 891.4,1224.4" fill="#000"/>
<clipPath id="ch0"><rect x="921.3" y="1085.9" width="280.4000000000001" height="245.69999999999982"/></clipPath>
<g clip-path="url(#ch0)">
<rect x="922.0" y="1108.0" width="216.0" height="142.0" rx="30" fill="url(#pB0)" mask="url(#fr)"/>
<ellipse cx="982.0" cy="1215.0" rx="50.0" ry="58.0" fill="url(#pB1)" mask="url(#fd)"/>
<ellipse cx="982.0" cy="1212.0" rx="42.0" ry="46.0" fill="url(#pB2)" mask="url(#fd)"/>
<ellipse cx="982.0" cy="1211.0" rx="37.0" ry="38.0" fill="url(#pC)" mask="url(#fd)"/>
<ellipse cx="982.0" cy="1210.0" rx="35.0" ry="34.0" fill="url(#pG)" mask="url(#fd)"/>
<ellipse cx="982.0" cy="1210.0" rx="27.0" ry="26.0" fill="url(#pY)" mask="url(#fd)"/>
<ellipse cx="982.0" cy="1209.5" rx="20.0" ry="19.0" fill="url(#pO)" mask="url(#fd)"/>
<ellipse cx="982.0" cy="1209.5" rx="16.0" ry="15.0" fill="url(#pR1)" mask="url(#fd)"/>
<ellipse cx="982.0" cy="1209.5" rx="8.0" ry="8.0" fill="url(#pR)" mask="url(#fd)"/>
<ellipse cx="972.0" cy="1135.0" rx="46.0" ry="14.0" fill="url(#pB2)" mask="url(#fd)"/>
<ellipse cx="972.0" cy="1135.0" rx="38.0" ry="10.5" fill="url(#pC)" mask="url(#fd)"/>
<ellipse cx="972.0" cy="1135.0" rx="36.0" ry="9.0" fill="url(#pG1)" mask="url(#fd)"/>
<ellipse cx="972.0" cy="1135.0" rx="22.0" ry="6.0" fill="url(#pG)" mask="url(#fd)"/>
<ellipse cx="972.0" cy="1135.0" rx="14.0" ry="4.0" fill="url(#pY1)" mask="url(#fd)"/>
<ellipse cx="1078.0" cy="1194.0" rx="52.0" ry="36.0" fill="url(#pB2)" mask="url(#fd)"/>
<ellipse cx="1080.0" cy="1192.0" rx="44.0" ry="30.0" fill="url(#pC)" mask="url(#fd)"/>
<ellipse cx="1082.0" cy="1190.0" rx="42.0" ry="27.0" fill="url(#pG1)" mask="url(#fd)"/>
<ellipse cx="1086.0" cy="1185.0" rx="24.0" ry="15.0" fill="url(#pG)" mask="url(#fd)"/>
<ellipse cx="1087.0" cy="1184.0" rx="22.0" ry="14.0" fill="url(#pY1)" mask="url(#fd)"/>
<ellipse cx="1066.0" cy="1146.0" rx="44.0" ry="19.0" fill="url(#pB2)" mask="url(#fd)"/>
<ellipse cx="1072.0" cy="1150.0" rx="24.0" ry="10.0" fill="url(#pC)" mask="url(#fd)"/>
</g>
<path d="M0 0m1088 1089h1m-37 4h1m63 3h1m-98 1h1m54 0h1m28 0h1m17 1h1m-71 2h1m-6 6h1m8 1h1m-77 1h1m-10 1h1m8 0h1m97 1h1m-133 4h1m74 4h1m-95 3h1m85 0h1m-31 1h1m-37 1h1m125 0h1m46 0h1m-135 3h1m9 0h1m101 0h1m52 0h1m-185 2h1m148 0h1m-138 1h1m111 0h1m10 2h1m-20 1h1m-27 2h1m-53 1h1m144 0h1m-177 1h1m101 0h1m24 0h1m-116 1h1m80 0h1m-143 1h1m89 0h1m24 0h1m75 1h1m11 0h1m-156 1h1m-24 1h1m81 0h1m43 1h1m-103 1h1m36 0h1m34 1h1m39 0h1m2 0h1m-132 1h1m57 0h1m34 0h1m36 0h1m88 0h1m-197 1h1m34 0h1m8 1h1m81 0h1m-120 1h1m2 0h1m44 0h1m1 0h1m25 0h1m-118 1h1m75 0h1m-3 1h1m35 0h1m6 0h1m9 0h1m-89 2h1m87 0h1m-75 1h1m13 0h1m129 0h1m-99 1h1m-68 1h1m51 0h1m45 0h1m42 0h1m-37 1h1m60 0h1m-111 1h1m63 1h1m-118 1h1m-50 1h1m64 0h1m62 0h1m0 0h1m15 0h1m-150 1h1m37 0h1m11 0h1m10 0h1m53 0h1m30 0h1m36 0h1m-159 1h1m25 0h1m2 0h1m28 0h1m43 0h1m-2 1h1m0 0h1m14 0h1m30 0h1m84 0h1m-255 1h1m75 0h1m14 0h1m49 0h1m15 0h1m-144 1h1m27 0h1m12 0h1m13 0h1m5 0h1m4 0h1m15 0h1m12 0h1m-74 1h1m17 0h1m4 0h1m10 0h1m75 0h1m-104 1h1m8 0h1m54 0h1m10 0h1m6 0h1m8 0h1m2 0h1m0 0h1m7 0h1m0 0h1m30 0h1m39 0h1m-179 1h1m3 0h1m17 0h1m18 0h1m0 0h1m11 0h1m16 0h1m27 0h1m-106 1h1m40 0h1m12 0h1m43 0h1m22 0h1m26 0h1m-149 1h1m12 0h1m75 0h1m-124 1h1m36 0h1m60 0h1m9 0h1m16 0h1m-91 1h1m14 0h1m34 0h1m29 0h1m3 0h1m39 0h1m7 0h1m-126 1h1m6 0h1m4 0h1m0 0h1m14 0h1m13 0h1m6 0h1m27 0h1m6 0h1m29 0h1m3 0h1m14 0h1m6 0h1m27 0h1m-170 1h1m19 0h1m1 0h1m49 0h1m9 0h1m2 0h1m0 0h1m7 0h1m64 0h1m-204 1h1m38 0h1m6 0h1m5 0h1m13 0h1m48 0h1m5 0h1m22 0h1m3 0h1m15 0h1m1 0h1m35 0h1m7 0h1m-148 1h1m34 0h1m0 0h1m14 0h1m20 0h1m-59 1h1m40 0h1m23 0h1m9 0h1m6 0h1m-147 1h1m42 0h1m12 0h1m18 0h1m7 0h1m13 0h1m22 0h1m15 0h1m47 0h1m-166 1h1m25 0h1m4 0h1m1 0h1m15 0h1m4 0h1m15 0h1m105 0h1m-197 1h1m33 0h1m3 0h1m48 0h1m3 0h1m21 0h1m8 0h1m2 0h1m0 0h1m16 0h1m20 0h1m-154 1h1m83 0h1m0 0h1m3 0h1m55 0h1m-108 1h1m11 0h1m34 0h1m58 0h1m42 0h1m0 0h1m8 0h1m-198 1h1m1 0h1m23 0h1m8 0h1m52 0h1m18 0h1m4 0h1m3 0h1m0 0h1m2 0h1m17 0h1m16 0h1m-174 1h1m18 0h1m26 0h1m10 0h1m6 0h1m9 0h1m24 0h1m4 0h1m27 0h1m6 0h1m16 0h1m31 0h1m7 0h1m-93 1h1m11 0h1m24 0h1m15 0h1m13 0h1m-160 1h1m2 0h1m10 0h1m6 0h1m5 0h1m5 0h1m63 0h1m0 0h1m46 0h1m22 0h1m-162 1h1m11 0h1m12 0h1m2 0h1m22 0h1m7 0h1m18 0h1m0 0h1m7 0h1m15 0h1m23 0h1m18 0h1m-144 1h1m16 0h1m9 0h1m0 0h1m31 0h1m16 0h1m24 0h1m19 0h1m1 0h1m3 0h1m0 0h1m16 0h1m0 0h1m5 0h1m-135 1h1m36 0h1m23 0h1m6 0h1m10 0h1m8 0h1m2 0h1m29 0h1m1 0h1m2 0h1m4 0h1m-180 1h1m9 0h1m9 0h1m12 0h1m12 0h1m8 0h1m8 0h1m49 0h1m0 0h1m1 0h1m62 0h1m22 0h1m5 0h1m16 0h1m-214 1h1m30 0h1m7 0h1m38 0h1m13 0h1m71 0h1m14 0h1m6 0h1m1 0h1m3 0h1m1 0h1m-185 1h1m21 0h1m12 0h1m7 0h1m3 0h1m49 0h1m1 0h1m1 0h1m23 0h1m19 0h1m58 0h1m-193 1h1m27 0h1m6 0h1m1 0h1m3 0h1m10 0h1m1 0h1m16 0h1m20 0h1m3 0h1m8 0h1m11 0h1m0 0h1m-109 1h1m16 0h1m10 0h1m1 0h1m1 0h1m34 0h1m2 0h1m2 0h1m2 0h1m7 0h1m1 0h1m-105 1h1m6 0h1m6 0h1m25 0h1m14 0h1m2 0h1m26 0h1m30 0h1m2 0h1m25 0h1m32 0h1m-190 1h1m5 0h1m12 0h1m13 0h1m13 0h1m33 0h1m9 0h1m0 0h1m5 0h1m12 0h1m19 0h1m2 0h1m30 0h1m42 0h1m-218 1h1m15 0h1m19 0h1m1 0h1m6 0h1m18 0h1m21 0h1m25 0h1m2 0h1m11 0h1m1 0h1m32 0h1m36 0h1m-138 1h1m4 0h1m32 0h1m5 0h1m22 0h1m13 0h1m18 0h1m15 0h1m2 0h1m-167 1h1m20 0h1m6 0h1m13 0h1m18 0h1m20 0h1m17 0h1m7 0h1m29 0h1m6 0h1m4 0h1m0 0h1m6 0h1m-180 1h1m44 0h1m35 0h1m12 0h1m28 0h1m4 0h1m31 0h1m-123 1h1m39 0h1m10 0h1m20 0h1m3 0h1m7 0h1m0 0h1m7 0h1m8 0h1m14 0h1m8 0h1m17 0h1m11 0h1m-201 1h1m32 0h1m38 0h1m3 0h1m4 0h1m1 0h1m14 0h1m7 0h1m21 0h1m14 0h1m45 0h1m-130 1h1m10 0h1m19 0h1m5 0h1m68 0h1m53 0h1m-201 1h1m10 0h1m2 0h1m39 0h1m12 0h1m6 0h1m62 0h1m1 0h1m12 0h1m4 0h1m15 0h1m2 0h1m-170 1h1m55 0h1m10 0h1m33 0h1m1 0h1m3 0h1m38 0h1m24 0h1m-181 1h1m23 0h1m43 0h1m21 0h1m50 0h1m26 0h1m38 0h1m-218 1h1m7 0h1m5 0h1m13 0h1m4 0h1m22 0h1m15 0h1m11 0h1m1 0h1m2 0h1m5 0h1m29 0h1m37 0h1m19 0h1m-159 1h1m7 0h1m44 0h1m17 0h1m35 0h1m4 0h1m70 0h1m-173 1h1m21 0h1m4 0h1m14 0h1m12 0h1m2 0h1m11 0h1m0 0h1m48 0h1m21 0h1m-137 1h1m12 0h1m21 0h1m8 0h1m9 0h1m32 0h1m3 0h1m6 0h1m6 0h1m19 0h1m11 0h1m-177 1h1m14 0h1m15 0h1m7 0h1m9 0h1m27 0h1m55 0h1m26 0h1m-145 1h1m9 0h1m38 0h1m0 0h1m11 0h1m1 0h1m10 0h1m2 0h1m19 0h1m18 0h1m2 0h1m25 0h1m2 0h1m4 0h1m-166 1h1m27 0h1m14 0h1m8 0h1m17 0h1m0 0h1m3 0h1m2 0h1m58 0h1m7 0h1m20 0h1m22 0h1m9 0h1m-197 1h1m23 0h1m26 0h1m49 0h1m7 0h1m8 0h1m2 0h1m33 0h1m-146 1h1m48 0h1m8 0h1m85 0h1m53 0h1m-192 1h1m2 0h1m11 0h1m7 0h1m10 0h1m15 0h1m31 0h1m30 0h1m49 0h1m-176 1h1m2 0h1m13 0h1m40 0h1m10 0h1m25 0h1m2 0h1m26 0h1m42 0h1m13 0h1m-173 1h1m4 0h1m3 0h1m23 0h1m8 0h1m23 0h1m17 0h1m16 0h1m18 0h1m11 0h1m1 0h1m27 0h1m-167 1h1m18 0h1m4 0h1m1 0h1m23 0h1m1 0h1m14 0h1m7 0h1m26 0h1m35 0h1m12 0h1m6 0h1m-185 1h1m29 0h1m8 0h1m5 0h1m15 0h1m13 0h1m10 0h1m54 0h1m0 0h1m6 0h1m0 0h1m-136 1h1m14 0h1m20 0h1m16 0h1m9 0h1m9 0h1m4 0h1m3 0h1m38 0h1m0 0h1m15 0h1m55 0h1m-180 1h1m2 0h1m5 0h1m0 0h1m44 0h1m7 0h1m15 0h1m-72 1h1m1 0h1m9 0h1m13 0h1m8 0h1m38 0h1m-72 1h1m9 0h1m18 0h1m6 0h1m68 0h1m12 0h1m1 0h1m-42 1h1m23 0h1m-79 1h1m14 0h1m21 0h1m37 0h1m7 0h1m2 0h1m-96 1h1m38 0h1m69 0h1m67 0h1m-225 1h1m23 0h1m9 0h1m22 0h1m8 0h1m0 0h1m27 0h1m72 0h1m-143 1h1m25 0h1m11 0h1m42 0h1m24 0h1m4 0h1m-64 1h1m16 0h1m-71 1h1m25 0h1m25 0h1m13 0h1m8 0h1m27 0h1m19 0h1m-120 1h1m21 0h1m15 0h1m31 0h1m6 0h1m34 0h1m29 0h1m-134 1h1m40 0h1m10 0h1m48 0h1m-81 1h1m0 0h1m14 0h1m0 0h1m0 0h1m72 0h1m27 0h1m-165 1h1m10 0h1m4 0h1m10 0h1m14 0h1m85 0h1m13 0h1m22 0h1m-175 1h1m27 0h1m80 0h1m2 0h1m17 0h1m6 0h1m-132 1h1m11 0h1m18 0h1m30 0h1m1 0h1m13 0h1m5 0h1m3 0h1m3 0h1m19 0h1m92 0h1m-203 1h1m34 0h1m4 0h1m2 0h1m10 0h1m38 0h1m7 0h1m31 0h1m-153 1h1m4 0h1m28 0h1m1 0h1m10 0h1m27 0h1m54 0h1m-120 1h1m15 0h1m19 0h1m2 0h1m14 0h1m1 0h1m0 0h1m4 0h1m23 0h1m12 0h1m6 0h1m19 0h1m-142 1h1m66 0h1m14 0h1m14 0h1m-68 1h1m33 0h1m16 0h1m0 0h1m37 0h1m40 0h1m-56 1h1m109 0h1m-176 1h1m6 0h1m11 0h1m23 0h1m-62 1h1m5 0h1m18 0h1m4 0h1m5 0h1m13 0h1m39 0h1m-80 1h1m16 0h1m1 0h1m2 0h1m4 0h1m34 0h1m18 0h1m-105 1h1m13 0h1m36 0h1m-51 1h1m69 0h1m-67 1h1m21 0h1m16 0h1m38 0h1m48 0h1m56 0h1m-194 1h1m90 0h1m4 0h1m35 0h1m-70 1h1m-28 1h1m12 0h1m19 0h1m27 0h1m2 0h1m-86 1h1m8 0h1m5 0h1m39 0h1m3 0h1m-30 1h1m13 0h1m8 0h1m14 0h1m20 0h1m-75 2h1m18 0h1m72 0h1m-124 1h1m92 0h1m85 0h1m-158 1h1m23 0h1m9 0h1m4 0h1m-24 1h1m-40 1h1m44 0h1m13 0h1m7 0h1m-27 1h1m53 0h1m-3 1h1m-73 1h1m62 0h1m-36 2h1m19 0h1m0 0h1m94 0h1m-115 1h1m-13 1h1m17 0h1m-25 2h1m65 1h1m89 0h1m-139 1h1m166 0h1m-147 1h1m-32 1h1m27 0h1m-29 1h1m27 0h1m-30 1h1m9 0h1m-3 1h1m3 0h1m51 0h1m27 4h1m-68 2h1m65 0h1m-73 1h1m-31 1h1m30 2h1m56 0h1m-69 2h1m-23 1h1m14 0h1m17 1h1m56 0h1m15 3h1m-10 1h1m48 2h1m-133 1h1m-24 1h1m28 0h1m48 7h1m-58 10h1m34 0h1m-8 3h1" transform="translate(0 .5)" stroke="#4a5cc8" stroke-width="1" fill="none"/>
<rect x="920.3" y="1084.9" width="282.4" height="247.7" fill="none" stroke="#000" stroke-width="1.6"/>
<rect x="912.7" y="1105.2" width="7.6" height="5.6"/>
<text transform="translate(904.7 1112.4) scale(1.22 1)" font-size="12.3" text-anchor="end">10<tspan font-size="9.3" dy="-6.2">5</tspan></text>
<rect x="912.7" y="1162.7" width="7.6" height="5.6"/>
<text transform="translate(904.7 1169.9) scale(1.22 1)" font-size="12.3" text-anchor="end">10<tspan font-size="9.3" dy="-6.2">4</tspan></text>
<rect x="912.7" y="1231.2" width="7.6" height="5.6"/>
<text transform="translate(904.7 1238.4) scale(1.22 1)" font-size="12.3" text-anchor="end">10<tspan font-size="9.3" dy="-6.2">3</tspan></text>
<rect x="912.7" y="1269.0" width="7.6" height="15.5"/>
<text transform="translate(904.7 1281.2) scale(1.22 1)" font-size="12.3" text-anchor="end">0</text>
<rect x="912.7" y="1313.8" width="7.6" height="5.6"/>
<text transform="translate(904.7 1321.0) scale(1.22 1)" font-size="12.3" text-anchor="end">−10<tspan font-size="9.3" dy="-6.2">3</tspan></text>
<path d="M916.3 1148.2h4M916.3 1138.1h4M916.3 1130.9h4M916.3 1120.8h4M916.3 1116.9h4M916.3 1113.6h4M916.3 1110.6h4M916.3 1213.4h4M916.3 1201.3h4M916.3 1192.8h4M916.3 1180.7h4M916.3 1176.1h4M916.3 1172.1h4M916.3 1168.6h4M916.3 1090.7h4M916.3 1241.7h4M916.3 1248.6h4M916.3 1261.0h4M916.3 1267.4h4M916.3 1285.6h4M916.3 1291.5h4M916.3 1303.1h4M916.3 1309.4h4M916.3 1330.5h4" stroke="#000" stroke-width="2.4"/>
<path d="M915.1 1125.3h5.2M915.1 1186.1h5.2M915.1 1253.7h5.2M915.1 1298.7h5.2" stroke="#000" stroke-width="4.2"/>
<rect x="934.7" y="1332.6" width="6" height="6.3"/>
<rect x="975.8" y="1332.6" width="16.5" height="6.3"/>
<rect x="1027.8" y="1332.6" width="6" height="6.3"/>
<rect x="1104.2" y="1332.6" width="6" height="6.3"/>
<rect x="1171.0" y="1332.6" width="6" height="6.3"/>
<path d="M1053.8 1332.6v3.2M1067.3 1332.6v3.2M1076.8 1332.6v3.2M1084.2 1332.6v3.2M1090.3 1332.6v3.2M1095.4 1332.6v3.2M1099.8 1332.6v3.2M1103.7 1332.6v3.2M1127.3 1332.6v3.2M1139.1 1332.6v3.2M1147.4 1332.6v3.2M1153.9 1332.6v3.2M1159.2 1332.6v3.2M1163.7 1332.6v3.2M1167.5 1332.6v3.2M1170.9 1332.6v3.2M1194.1 1332.6v3.2M947.0 1332.6v3.2M993.4 1332.6v3.2M954.4 1332.6v3.2M1000.8 1332.6v3.2M960.9 1332.6v3.2M1007.4 1332.6v3.2M967.3 1332.6v3.2M1014.0 1332.6v3.2M974.7 1332.6v3.2M1021.4 1332.6v3.2" stroke="#000" stroke-width="2"/>
<text transform="translate(937.2 1361.1) scale(1.22 1)" font-size="12.6" text-anchor="middle">−10<tspan font-size="9.6" dy="-6.3">3</tspan></text>
<text transform="translate(984.0 1361.1) scale(1.22 1)" font-size="12.6" text-anchor="middle">0</text>
<text transform="translate(1030.8 1361.1) scale(1.22 1)" font-size="12.6" text-anchor="middle">10<tspan font-size="9.6" dy="-6.3">3</tspan></text>
<text transform="translate(1107.2 1361.1) scale(1.22 1)" font-size="12.6" text-anchor="middle">10<tspan font-size="9.6" dy="-6.3">4</tspan></text>
<text transform="translate(1174.0 1361.1) scale(1.22 1)" font-size="12.6" text-anchor="middle">10<tspan font-size="9.6" dy="-6.3">5</tspan></text>
<g fill="none" stroke="#000" stroke-width="3.1" stroke-linejoin="round">
<rect x="928.1" y="1115.0" width="86.7" height="34.4"/>
<polygon points="1019.6,1118.8 1051.8,1118.8 1092.4,1131.1 1111.0,1161.0 1055.2,1161.0 1021.3,1147.6"/>
<rect x="933.9" y="1174.0" width="88" height="76.9"/>
<rect x="1029.3" y="1167.8" width="96.7" height="60.3"/>
</g>
<clipPath id="ch1"><rect x="921.6999999999999" y="1402" width="280.4000000000002" height="244.20000000000005"/></clipPath>
<g clip-path="url(#ch1)">
<rect x="922.0" y="1424.0" width="216.0" height="138.0" rx="30" fill="url(#pB0)" mask="url(#fr)"/>
<ellipse cx="979.0" cy="1530.0" rx="50.0" ry="54.0" fill="url(#pB1)" mask="url(#fd)"/>
<ellipse cx="979.0" cy="1526.0" rx="42.0" ry="42.0" fill="url(#pB2)" mask="url(#fd)"/>
<ellipse cx="979.0" cy="1525.0" rx="36.0" ry="35.0" fill="url(#pC)" mask="url(#fd)"/>
<ellipse cx="979.0" cy="1525.0" rx="33.0" ry="30.0" fill="url(#pG)" mask="url(#fd)"/>
<ellipse cx="980.0" cy="1525.0" rx="25.0" ry="22.0" fill="url(#pY)" mask="url(#fd)"/>
<ellipse cx="980.0" cy="1524.0" rx="18.0" ry="15.0" fill="url(#pO)" mask="url(#fd)"/>
<ellipse cx="981.0" cy="1524.0" rx="14.0" ry="11.0" fill="url(#pR1)" mask="url(#fd)"/>
<ellipse cx="981.0" cy="1524.0" rx="6.0" ry="5.0" fill="url(#pR)" mask="url(#fd)"/>
<ellipse cx="972.0" cy="1448.0" rx="48.0" ry="13.0" fill="url(#pB2)" mask="url(#fd)"/>
<ellipse cx="972.0" cy="1448.0" rx="42.0" ry="10.0" fill="url(#pC)" mask="url(#fd)"/>
<ellipse cx="972.0" cy="1448.0" rx="36.0" ry="8.0" fill="url(#pG)" mask="url(#fd)"/>
<ellipse cx="972.0" cy="1448.0" rx="27.0" ry="5.8" fill="url(#pY)" mask="url(#fd)"/>
<ellipse cx="973.0" cy="1448.0" rx="17.0" ry="4.0" fill="url(#pO)" mask="url(#fd)"/>
<ellipse cx="974.0" cy="1448.0" rx="12.0" ry="3.0" fill="url(#pR1)" mask="url(#fd)"/>
<ellipse cx="1080.0" cy="1511.0" rx="50.0" ry="34.0" fill="url(#pB2)" mask="url(#fd)"/>
<ellipse cx="1084.0" cy="1508.0" rx="40.0" ry="28.0" fill="url(#pC)" mask="url(#fd)"/>
<ellipse cx="1085.0" cy="1507.0" rx="38.0" ry="26.0" fill="url(#pG1)" mask="url(#fd)"/>
<ellipse cx="1088.0" cy="1505.0" rx="22.0" ry="15.0" fill="url(#pG)" mask="url(#fd)"/>
<ellipse cx="1090.0" cy="1504.0" rx="14.0" ry="10.0" fill="url(#pY)" mask="url(#fd)"/>
<ellipse cx="1091.0" cy="1503.0" rx="7.0" ry="5.0" fill="url(#pO)" mask="url(#fd)"/>
<ellipse cx="1066.0" cy="1462.0" rx="40.0" ry="16.0" fill="url(#pB2)" mask="url(#fd)"/>
</g>
<path d="M0 0m1114 1406h1m-131 6h1m98 3h1m-24 3h1m-49 3h1m-76 1h1m76 1h1m-68 6h1m119 3h1m111 1h1m-128 1h1m5 0h1m8 1h1m-112 1h1m81 0h1m-32 1h1m65 0h1m56 1h1m-162 1h1m65 1h1m112 0h1m-123 2h1m87 1h1m-154 4h1m34 2h1m7 0h1m57 0h1m0 0h1m-8 1h1m-116 5h1m17 0h1m2 0h1m43 0h1m24 0h1m0 0h1m31 1h1m-135 1h1m71 1h1m-38 1h1m35 0h1m58 0h1m35 2h1m-67 1h1m14 0h1m-2 1h1m76 0h1m-160 1h1m113 0h1m57 0h1m6 0h1m-89 1h1m-64 1h1m44 0h1m-5 1h1m24 0h1m-93 1h1m39 0h1m50 0h1m23 0h1m-115 1h1m22 1h1m5 0h1m5 0h1m21 0h1m107 0h1m-163 1h1m1 0h1m78 0h1m40 0h1m-161 1h1m82 0h1m63 0h1m-135 1h1m30 0h1m56 0h1m38 0h1m4 0h1m15 0h1m26 0h1m-58 1h1m-33 1h1m19 0h1m21 0h1m2 1h1m24 0h1m-114 1h1m21 0h1m36 0h1m80 0h1m-86 1h1m3 0h1m32 0h1m3 0h1m-106 1h1m10 0h1m21 0h1m86 0h1m25 0h1m-198 1h1m82 0h1m25 0h1m30 0h1m28 0h1m-170 1h1m23 0h1m16 0h1m78 0h1m13 0h1m15 0h1m7 0h1m30 0h1m5 0h1m-133 1h1m0 0h1m10 0h1m29 0h1m35 0h1m35 0h1m32 0h1m-195 1h1m19 0h1m104 0h1m8 0h1m3 0h1m9 0h1m1 0h1m2 0h1m-145 1h1m16 0h1m71 0h1m37 0h1m23 0h1m-74 1h1m8 0h1m18 0h1m6 0h1m-124 1h1m27 0h1m13 0h1m9 0h1m34 0h1m32 0h1m25 0h1m-96 1h1m64 0h1m24 0h1m35 0h1m-164 1h1m18 0h1m20 0h1m2 0h1m8 0h1m84 0h1m28 0h1m-162 1h1m44 0h1m24 0h1m87 0h1m-138 1h1m12 0h1m26 0h1m35 0h1m33 0h1m-135 1h1m34 0h1m62 0h1m10 0h1m23 0h1m33 0h1m-185 1h1m21 0h1m14 0h1m0 0h1m54 0h1m17 0h1m0 0h1m-91 1h1m75 0h1m26 0h1m7 0h1m14 0h1m10 0h1m83 0h1m-250 1h1m39 0h1m27 0h1m34 0h1m23 0h1m17 0h1m7 0h1m9 0h1m20 0h1m2 0h1m-176 1h1m70 0h1m0 0h1m9 0h1m0 0h1m0 0h1m18 0h1m25 0h1m22 0h1m0 0h1m-159 1h1m5 0h1m21 0h1m7 0h1m22 0h1m32 0h1m29 0h1m15 0h1m22 0h1m-167 1h1m38 0h1m3 0h1m9 0h1m32 0h1m14 0h1m16 0h1m17 0h1m31 0h1m9 0h1m2 0h1m-133 1h1m6 0h1m18 0h1m6 0h1m65 0h1m22 0h1m4 0h1m-181 1h1m1 0h1m13 0h1m23 0h1m3 0h1m10 0h1m6 0h1m6 0h1m66 0h1m7 0h1m42 0h1m6 0h1m-146 1h1m12 0h1m51 0h1m15 0h1m18 0h1m18 0h1m-160 1h1m9 0h1m1 0h1m3 0h1m9 0h1m93 0h1m13 0h1m2 0h1m6 0h1m45 0h1m-113 1h1m7 0h1m4 0h1m20 0h1m15 0h1m4 0h1m-142 1h1m42 0h1m2 0h1m11 0h1m6 0h1m3 0h1m1 0h1m6 0h1m77 0h1m10 0h1m11 0h1m-186 1h1m23 0h1m34 0h1m13 0h1m42 0h1m49 0h1m5 0h1m9 0h1m-184 1h1m35 0h1m13 0h1m6 0h1m14 0h1m2 0h1m4 0h1m13 0h1m46 0h1m12 0h1m32 0h1m87 0h1m-262 1h1m20 0h1m76 0h1m14 0h1m26 0h1m8 0h1m23 0h1m11 0h1m-178 1h1m4 0h1m1 0h1m9 0h1m37 0h1m65 0h1m10 0h1m-152 1h1m28 0h1m19 0h1m20 0h1m7 0h1m6 0h1m49 0h1m13 0h1m20 0h1m11 0h1m14 0h1m5 0h1m-209 1h1m46 0h1m10 0h1m9 0h1m11 0h1m5 0h1m2 0h1m6 0h1m20 0h1m4 0h1m6 0h1m7 0h1m115 0h1m-245 1h1m16 0h1m45 0h1m1 0h1m39 0h1m3 0h1m13 0h1m5 0h1m13 0h1m0 0h1m15 0h1m26 0h1m-180 1h1m38 0h1m19 0h1m38 0h1m2 0h1m3 0h1m-99 1h1m14 0h1m13 0h1m14 0h1m0 0h1m27 0h1m6 0h1m10 0h1m61 0h1m3 0h1m28 0h1m-171 1h1m11 0h1m2 0h1m14 0h1m55 0h1m10 0h1m0 0h1m12 0h1m11 0h1m57 0h1m-183 1h1m11 0h1m31 0h1m1 0h1m18 0h1m7 0h1m25 0h1m3 0h1m10 0h1m0 0h1m32 0h1m21 0h1m-156 1h1m2 0h1m5 0h1m24 0h1m14 0h1m34 0h1m1 0h1m16 0h1m62 0h1m-181 1h1m17 0h1m75 0h1m14 0h1m4 0h1m1 0h1m50 0h1m-155 1h1m38 0h1m20 0h1m14 0h1m0 0h1m31 0h1m77 0h1m-241 1h1m46 0h1m10 0h1m3 0h1m16 0h1m8 0h1m61 0h1m4 0h1m7 0h1m12 0h1m17 0h1m-150 1h1m4 0h1m15 0h1m1 0h1m15 0h1m6 0h1m2 0h1m5 0h1m28 0h1m7 0h1m2 0h1m9 0h1m28 0h1m32 0h1m-197 1h1m12 0h1m32 0h1m38 0h1m2 0h1m18 0h1m0 0h1m6 0h1m11 0h1m37 0h1m5 0h1m6 0h1m17 0h1m-204 1h1m40 0h1m14 0h1m0 0h1m35 0h1m10 0h1m41 0h1m5 0h1m43 0h1m-189 1h1m4 0h1m34 0h1m6 0h1m7 0h1m26 0h1m22 0h1m25 0h1m4 0h1m2 0h1m0 0h1m7 0h1m18 0h1m41 0h1m-202 1h1m37 0h1m27 0h1m19 0h1m12 0h1m19 0h1m14 0h1m0 0h1m-123 1h1m30 0h1m16 0h1m19 0h1m32 0h1m46 0h1m26 0h1m-166 1h1m5 0h1m5 0h1m1 0h1m51 0h1m21 0h1m11 0h1m0 0h1m20 0h1m2 0h1m29 0h1m4 0h1m-189 1h1m0 0h1m9 0h1m3 0h1m18 0h1m20 0h1m45 0h1m41 0h1m35 0h1m2 0h1m25 0h1m-216 1h1m8 0h1m7 0h1m6 0h1m15 0h1m16 0h1m22 0h1m11 0h1m17 0h1m28 0h1m-130 1h1m36 0h1m47 0h1m60 0h1m0 0h1m1 0h1m41 0h1m-190 1h1m10 0h1m16 0h1m12 0h1m7 0h1m38 0h1m5 0h1m44 0h1m4 0h1m-164 1h1m24 0h1m42 0h1m9 0h1m2 0h1m82 0h1m5 0h1m26 0h1m-187 1h1m2 0h1m18 0h1m18 0h1m8 0h1m8 0h1m7 0h1m7 0h1m13 0h1m41 0h1m1 0h1m10 0h1m23 0h1m51 0h1m-212 1h1m2 0h1m5 0h1m8 0h1m1 0h1m6 0h1m30 0h1m15 0h1m1 0h1m23 0h1m17 0h1m16 0h1m5 0h1m10 0h1m-125 1h1m19 0h1m3 0h1m19 0h1m17 0h1m30 0h1m30 0h1m-148 1h1m0 0h1m6 0h1m0 0h1m4 0h1m13 0h1m1 0h1m1 0h1m3 0h1m1 0h1m16 0h1m15 0h1m2 0h1m34 0h1m34 0h1m4 0h1m23 0h1m9 0h1m-188 1h1m28 0h1m33 0h1m25 0h1m7 0h1m5 0h1m5 0h1m2 0h1m17 0h1m7 0h1m29 0h1m-193 1h1m39 0h1m31 0h1m10 0h1m0 0h1m0 0h1m22 0h1m23 0h1m2 0h1m6 0h1m30 0h1m8 0h1m26 0h1m-134 1h1m1 0h1m12 0h1m24 0h1m76 0h1m22 0h1m-175 1h1m70 0h1m67 0h1m26 0h1m-176 1h1m19 0h1m12 0h1m7 0h1m62 0h1m30 0h1m-165 1h1m41 0h1m34 0h1m62 0h1m17 0h1m3 0h1m9 0h1m-141 1h1m1 0h1m10 0h1m40 0h1m8 0h1m9 0h1m28 0h1m-109 1h1m6 0h1m0 0h1m4 0h1m30 0h1m6 0h1m5 0h1m49 0h1m38 0h1m36 0h1m0 0h1m-187 1h1m3 0h1m3 0h1m30 0h1m104 0h1m-173 1h1m17 0h1m10 0h1m10 0h1m39 0h1m7 0h1m6 0h1m4 0h1m19 0h1m41 0h1m5 0h1m-163 1h1m9 0h1m8 0h1m1 0h1m8 0h1m22 0h1m12 0h1m7 0h1m8 0h1m7 0h1m7 0h1m35 0h1m76 0h1m-222 1h1m19 0h1m19 0h1m2 0h1m10 0h1m27 0h1m-37 1h1m15 0h1m14 0h1m56 0h1m24 0h1m29 0h1m-152 1h1m1 0h1m39 0h1m25 0h1m16 0h1m-89 1h1m14 0h1m12 0h1m11 0h1m77 0h1m20 0h1m-149 1h1m86 0h1m10 0h1m38 0h1m-126 1h1m3 0h1m23 0h1m12 0h1m0 0h1m58 0h1m34 0h1m-145 1h1m24 0h1m2 0h1m18 0h1m30 0h1m48 0h1m3 0h1m-123 1h1m62 0h1m14 0h1m-113 1h1m29 0h1m19 0h1m15 0h1m42 0h1m5 0h1m14 0h1m45 0h1m-159 1h1m14 0h1m12 0h1m21 0h1m27 0h1m43 0h1m48 0h1m-109 1h1m17 0h1m83 0h1m3 0h1m-145 1h1m8 0h1m0 0h1m2 0h1m17 0h1m34 0h1m63 0h1m-131 1h1m13 0h1m4 0h1m5 0h1m55 0h1m-89 2h1m35 0h1m93 0h1m8 0h1m1 0h1m-125 1h1m5 0h1m7 0h1m-42 1h1m61 0h1m14 0h1m4 0h1m-92 1h1m60 0h1m23 0h1m-81 1h1m50 0h1m15 0h1m47 0h1m-132 1h1m15 0h1m2 0h1m3 0h1m35 0h1m4 0h1m9 0h1m-28 1h1m21 0h1m-53 1h1m18 0h1m1 0h1m40 0h1m55 0h1m-137 1h1m27 0h1m14 0h1m6 0h1m13 0h1m3 0h1m1 1h1m-55 1h1m30 0h1m37 0h1m10 1h1m-17 1h1m33 0h1m-76 1h1m29 0h1m-36 1h1m16 0h1m27 0h1m10 0h1m-61 1h1m41 0h1m-1 1h1m0 0h1m17 0h1m1 0h1m5 0h1m-88 1h1m41 0h1m39 0h1m-83 3h1m54 1h1m0 1h1m-40 1h1m-9 1h1m42 0h1m15 0h1m-22 2h1m11 2h1m16 3h1m128 0h1m-201 1h1m36 0h1m30 0h1m-48 2h1m14 3h1m-37 1h1m38 2h1m0 2h1m61 0h1m-50 4h1m-20 1h1m42 0h1m-48 1h1m9 3h1m15 0h1m-23 18h1" transform="translate(0 .5)" stroke="#4a5cc8" stroke-width="1" fill="none"/>
<rect x="920.7" y="1401.0" width="282.4" height="246.2" fill="none" stroke="#000" stroke-width="1.6"/>
<rect x="913.1" y="1419.8" width="7.6" height="5.6"/>
<text transform="translate(904.7 1427.0) scale(1.22 1)" font-size="12.3" text-anchor="end">10<tspan font-size="9.3" dy="-6.2">5</tspan></text>
<rect x="913.1" y="1479.8" width="7.6" height="5.6"/>
<text transform="translate(904.7 1487.0) scale(1.22 1)" font-size="12.3" text-anchor="end">10<tspan font-size="9.3" dy="-6.2">4</tspan></text>
<rect x="913.1" y="1546.7" width="7.6" height="5.6"/>
<text transform="translate(904.7 1553.9) scale(1.22 1)" font-size="12.3" text-anchor="end">10<tspan font-size="9.3" dy="-6.2">3</tspan></text>
<rect x="913.1" y="1583.2" width="7.6" height="15.5"/>
<text transform="translate(904.7 1595.4) scale(1.22 1)" font-size="12.3" text-anchor="end">0</text>
<rect x="913.1" y="1629.5" width="7.6" height="5.6"/>
<text transform="translate(904.7 1636.7) scale(1.22 1)" font-size="12.3" text-anchor="end">−10<tspan font-size="9.3" dy="-6.2">3</tspan></text>
<path d="M916.7 1464.5h4M916.7 1454.0h4M916.7 1446.5h4M916.7 1435.9h4M916.7 1431.9h4M916.7 1428.4h4M916.7 1425.3h4M916.7 1529.4h4M916.7 1517.6h4M916.7 1509.2h4M916.7 1497.4h4M916.7 1493.0h4M916.7 1489.1h4M916.7 1485.7h4M916.7 1404.5h4M916.7 1557.0h4M916.7 1563.6h4M916.7 1575.6h4M916.7 1581.9h4M916.7 1600.1h4M916.7 1606.3h4M916.7 1618.3h4M916.7 1624.9h4" stroke="#000" stroke-width="2.4"/>
<path d="M915.5 1440.7h5.2M915.5 1502.7h5.2M915.5 1568.6h5.2M915.5 1613.7h5.2" stroke="#000" stroke-width="4.2"/>
<rect x="934.7" y="1647.2" width="6" height="6.3"/>
<rect x="975.8" y="1647.2" width="16.5" height="6.3"/>
<rect x="1027.8" y="1647.2" width="6" height="6.3"/>
<rect x="1104.2" y="1647.2" width="6" height="6.3"/>
<rect x="1171.0" y="1647.2" width="6" height="6.3"/>
<path d="M1053.8 1647.2v3.2M1067.3 1647.2v3.2M1076.8 1647.2v3.2M1084.2 1647.2v3.2M1090.3 1647.2v3.2M1095.4 1647.2v3.2M1099.8 1647.2v3.2M1103.7 1647.2v3.2M1127.3 1647.2v3.2M1139.1 1647.2v3.2M1147.4 1647.2v3.2M1153.9 1647.2v3.2M1159.2 1647.2v3.2M1163.7 1647.2v3.2M1167.5 1647.2v3.2M1170.9 1647.2v3.2M1194.1 1647.2v3.2M947.0 1647.2v3.2M993.4 1647.2v3.2M954.4 1647.2v3.2M1000.8 1647.2v3.2M960.9 1647.2v3.2M1007.4 1647.2v3.2M967.3 1647.2v3.2M1014.0 1647.2v3.2M974.7 1647.2v3.2M1021.4 1647.2v3.2" stroke="#000" stroke-width="2"/>
<text transform="translate(937.2 1676.7) scale(1.22 1)" font-size="12.6" text-anchor="middle">−10<tspan font-size="9.6" dy="-6.3">3</tspan></text>
<text transform="translate(984.0 1676.7) scale(1.22 1)" font-size="12.6" text-anchor="middle">0</text>
<text transform="translate(1030.8 1676.7) scale(1.22 1)" font-size="12.6" text-anchor="middle">10<tspan font-size="9.6" dy="-6.3">3</tspan></text>
<text transform="translate(1107.2 1676.7) scale(1.22 1)" font-size="12.6" text-anchor="middle">10<tspan font-size="9.6" dy="-6.3">4</tspan></text>
<text transform="translate(1174.0 1676.7) scale(1.22 1)" font-size="12.6" text-anchor="middle">10<tspan font-size="9.6" dy="-6.3">5</tspan></text>
<g fill="none" stroke="#000" stroke-width="3.1" stroke-linejoin="round">
<rect x="928.9" y="1430.6" width="86.7" height="34.4"/>
<polygon points="1020.4,1434.4 1052.6,1434.4 1093.2,1446.7 1111.8,1476.6 1056.0,1476.6 1022.1,1463.2"/>
<rect x="934.7" y="1489.6" width="88" height="76.9"/>
<rect x="1030.1" y="1483.4" width="96.7" height="60.3"/>
</g>
<text x="934.0" y="1107.3" font-size="22.2">6.4%</text>
<text x="997.0" y="1107.3" font-size="22.2">CFU-E</text>
<text x="1093.0" y="1122.2" font-size="22.2">preCFU-E</text>
<text x="1118.0" y="1148.8" font-size="22.2">3.1%</text>
<text x="1131.0" y="1227.0" font-size="22.2">15%</text>
<text x="1093.0" y="1254.4" font-size="22.2">preMegE</text>
<text x="934.0" y="1272.2" font-size="22.2">31%</text>
<text x="934.0" y="1298.8" font-size="22.2">preGM</text>
<text x="934.0" y="1424.4" font-size="22.2">12%</text>
<text x="1127.0" y="1458.8" font-size="22.2">4%</text>
<text x="1131.0" y="1540.6" font-size="22.2">17%</text>
<text x="934.0" y="1590.3" font-size="22.2">28%</text>
<text x="16.6" y="1804.4" font-size="42.5" font-weight="bold">g</text>
<text x="46.5" y="2008.0" font-size="33" textLength="154" lengthAdjust="spacing" text-anchor="middle" transform="rotate(-90 46.5 2008.0)">% LK cells</text>
<text x="106.5" y="1819.2" font-size="33" text-anchor="end">50</text>
<text x="106.5" y="1899.3" font-size="33" text-anchor="end">40</text>
<text x="106.5" y="1979.4" font-size="33" text-anchor="end">30</text>
<text x="106.5" y="2059.5" font-size="33" text-anchor="end">20</text>
<text x="106.5" y="2139.6" font-size="33" text-anchor="end">10</text>
<text x="106.5" y="2219.7" font-size="33" text-anchor="end">0</text>
<path d="M150.5 2208.5V2171.9H182.8V2208.5" fill="#555555" stroke="#000" stroke-width="6.4" stroke-linejoin="round"/>
<path d="M199.5 2208.5V2189.4H231.8V2208.5" fill="#fff" stroke="#000" stroke-width="6.4" stroke-linejoin="round"/>
<path d="M248.8 2208.5V1901.2H280.8V2208.5" fill="#555555" stroke="#000" stroke-width="6.4" stroke-linejoin="round"/>
<path d="M297.2 2208.5V1880.8H329.8V2208.5" fill="#fff" stroke="#000" stroke-width="6.4" stroke-linejoin="round"/>
<path d="M346.2 2208.5V2052.2H378.4V2208.5" fill="#555555" stroke="#000" stroke-width="6.4" stroke-linejoin="round"/>
<path d="M395.2 2208.5V2096.7H427.4V2208.5" fill="#fff" stroke="#000" stroke-width="6.4" stroke-linejoin="round"/>
<path d="M443.8 2208.5V2117.0H476.1V2208.5" fill="#555555" stroke="#000" stroke-width="6.4" stroke-linejoin="round"/>
<path d="M492.8 2208.5V2099.9H525.1V2208.5" fill="#fff" stroke="#000" stroke-width="6.4" stroke-linejoin="round"/>
<path d="M541.2 2208.5V2196.0H574.1V2208.5" fill="#555555" stroke="#000" stroke-width="6.4" stroke-linejoin="round"/>
<path d="M590.2 2208.5V2186.2H622.8V2208.5" fill="#fff" stroke="#000" stroke-width="6.4" stroke-linejoin="round"/>
<path d="M638.8 2208.5V2118.0H671.8V2208.5" fill="#555555" stroke="#000" stroke-width="6.4" stroke-linejoin="round"/>
<path d="M687.8 2208.5V2099.9H720.1V2208.5" fill="#fff" stroke="#000" stroke-width="6.4" stroke-linejoin="round"/>
<text x="177.2" y="2228.3" font-size="31.5" textLength="62" lengthAdjust="spacing" text-anchor="end" transform="rotate(-90 177.2 2228.3)">VEH</text>
<text x="225.8" y="2228.3" font-size="31.5" text-anchor="end" transform="rotate(-90 225.8 2228.3)">SB</text>
<text x="275.2" y="2228.3" font-size="31.5" textLength="62" lengthAdjust="spacing" text-anchor="end" transform="rotate(-90 275.2 2228.3)">VEH</text>
<text x="323.9" y="2228.3" font-size="31.5" text-anchor="end" transform="rotate(-90 323.9 2228.3)">SB</text>
<text x="373.3" y="2228.3" font-size="31.5" textLength="62" lengthAdjust="spacing" text-anchor="end" transform="rotate(-90 373.3 2228.3)">VEH</text>
<text x="421.9" y="2228.3" font-size="31.5" text-anchor="end" transform="rotate(-90 421.9 2228.3)">SB</text>
<text x="471.3" y="2228.3" font-size="31.5" textLength="62" lengthAdjust="spacing" text-anchor="end" transform="rotate(-90 471.3 2228.3)">VEH</text>
<text x="520.0" y="2228.3" font-size="31.5" text-anchor="end" transform="rotate(-90 520.0 2228.3)">SB</text>
<text x="569.4" y="2228.3" font-size="31.5" textLength="62" lengthAdjust="spacing" text-anchor="end" transform="rotate(-90 569.4 2228.3)">VEH</text>
<text x="618.0" y="2228.3" font-size="31.5" text-anchor="end" transform="rotate(-90 618.0 2228.3)">SB</text>
<text x="667.5" y="2228.3" font-size="31.5" textLength="62" lengthAdjust="spacing" text-anchor="end" transform="rotate(-90 667.5 2228.3)">VEH</text>
<text x="716.0" y="2228.3" font-size="31.5" text-anchor="end" transform="rotate(-90 716.0 2228.3)">SB</text>
<text x="202.9" y="2307.8" font-size="33.3" text-anchor="end" transform="rotate(-90 202.9 2307.8)">MkP</text>
<text x="301.6" y="2307.8" font-size="33.3" text-anchor="end" transform="rotate(-90 301.6 2307.8)">preGM</text>
<text x="400.3" y="2307.8" font-size="33.3" text-anchor="end" transform="rotate(-90 400.3 2307.8)">GMP</text>
<text x="499.0" y="2307.8" font-size="33.3" text-anchor="end" transform="rotate(-90 499.0 2307.8)">preMegE</text>
<text x="597.7" y="2307.8" font-size="33.3" text-anchor="end" transform="rotate(-90 597.7 2307.8)">preCFU-E</text>
<text x="696.4" y="2307.8" font-size="33.3" text-anchor="end" transform="rotate(-90 696.4 2307.8)">CFU-E</text>
<line x1="119.0" y1="1808.0" x2="134.8" y2="1808.0" stroke="#000" stroke-width="6.6"/>
<line x1="119.0" y1="1888.1" x2="134.8" y2="1888.1" stroke="#000" stroke-width="6.6"/>
<line x1="119.0" y1="1968.2" x2="134.8" y2="1968.2" stroke="#000" stroke-width="6.6"/>
<line x1="119.0" y1="2048.3" x2="134.8" y2="2048.3" stroke="#000" stroke-width="6.6"/>
<line x1="119.0" y1="2128.4" x2="134.8" y2="2128.4" stroke="#000" stroke-width="6.6"/>
<line x1="119.0" y1="2208.5" x2="134.8" y2="2208.5" stroke="#000" stroke-width="6.6"/>
<line x1="134.8" y1="1804.7" x2="134.8" y2="2211.8" stroke="#000" stroke-width="6.7"/>
<line x1="119.0" y1="2208.5" x2="736.8" y2="2208.5" stroke="#000" stroke-width="6.8"/>
<line x1="140.6" y1="2208.5" x2="140.6" y2="2243.7" stroke="#000" stroke-width="6.8"/>
<line x1="240.9" y1="2208.5" x2="240.9" y2="2243.7" stroke="#000" stroke-width="6.8"/>
<line x1="338.4" y1="2208.5" x2="338.4" y2="2243.7" stroke="#000" stroke-width="6.8"/>
<line x1="437.0" y1="2208.5" x2="437.0" y2="2243.7" stroke="#000" stroke-width="6.8"/>
<line x1="535.3" y1="2208.5" x2="535.3" y2="2243.7" stroke="#000" stroke-width="6.8"/>
<line x1="633.0" y1="2208.5" x2="633.0" y2="2243.7" stroke="#000" stroke-width="6.8"/>
<line x1="730.7" y1="2208.5" x2="730.7" y2="2243.7" stroke="#000" stroke-width="6.8"/>
<line x1="169.0" y1="2139.5" x2="218.7" y2="2139.5" stroke="#000" stroke-width="6.5"/>
<text x="194.8" y="2142.8" font-size="32" text-anchor="middle">***</text>
<line x1="260.3" y1="1841.0" x2="309.0" y2="1841.0" stroke="#000" stroke-width="6.5"/>
<text x="285.6" y="1844.3" font-size="32" text-anchor="middle">***</text>
<line x1="364.8" y1="2006.8" x2="413.8" y2="2006.8" stroke="#000" stroke-width="6.5"/>
<text x="390.3" y="2010.1" font-size="32" text-anchor="middle">***</text>
<line x1="459.0" y1="2066.7" x2="508.0" y2="2066.7" stroke="#000" stroke-width="6.5"/>
<text x="484.5" y="2070.0" font-size="32" text-anchor="middle">***</text>
<line x1="558.9" y1="2161.5" x2="607.9" y2="2161.5" stroke="#000" stroke-width="6.5"/>
<text x="584.4" y="2164.8" font-size="32" text-anchor="middle">***</text>
<line x1="655.0" y1="2056.0" x2="704.0" y2="2056.0" stroke="#000" stroke-width="6.5"/>
<text x="680.5" y="2059.3" font-size="32" text-anchor="middle">*</text>
<g fill="#000">
<polygon points="159.9,2174.0 155.2,2178.6 148.7,2178.6 144.0,2174.0 144.0,2167.4 148.7,2162.8 155.2,2162.8 159.9,2167.4"/>
<polygon points="189.3,2172.0 184.6,2176.6 178.1,2176.6 173.4,2172.0 173.4,2165.4 178.1,2160.8 184.6,2160.8 189.3,2165.4"/>
<polygon points="166.9,2178.0 162.2,2182.6 155.6,2182.6 151.0,2178.0 151.0,2171.4 155.6,2166.8 162.2,2166.8 166.9,2171.4"/>
<polygon points="182.3,2178.0 177.7,2182.6 171.1,2182.6 166.4,2178.0 166.4,2171.4 171.1,2166.8 177.7,2166.8 182.3,2171.4"/>
<polygon points="174.6,2182.0 169.9,2186.6 163.4,2186.6 158.7,2182.0 158.7,2175.4 163.4,2170.8 169.9,2170.8 174.6,2175.4"/>
<polygon points="172.7,2175.0 168.0,2179.6 161.4,2179.6 156.8,2175.0 156.8,2168.4 161.4,2163.8 168.0,2163.8 172.7,2168.4"/>
<polygon points="178.5,2176.0 173.8,2180.6 167.2,2180.6 162.6,2176.0 162.6,2169.4 167.2,2164.8 173.8,2164.8 178.5,2169.4"/>
<polygon points="258.2,1903.3 253.5,1907.9 246.9,1907.9 242.3,1903.3 242.3,1896.7 246.9,1892.1 253.5,1892.1 258.2,1896.7"/>
<polygon points="287.3,1901.3 282.7,1905.9 276.1,1905.9 271.4,1901.3 271.4,1894.7 276.1,1890.1 282.7,1890.1 287.3,1894.7"/>
<polygon points="265.1,1907.3 260.4,1911.9 253.8,1911.9 249.2,1907.3 249.2,1900.7 253.8,1896.1 260.4,1896.1 265.1,1900.7"/>
<polygon points="280.4,1907.3 275.8,1911.9 269.2,1911.9 264.5,1907.3 264.5,1900.7 269.2,1896.1 275.8,1896.1 280.4,1900.7"/>
<polygon points="272.7,1911.3 268.1,1915.9 261.5,1915.9 256.9,1911.3 256.9,1904.7 261.5,1900.1 268.1,1900.1 272.7,1904.7"/>
<polygon points="270.8,1904.3 266.2,1908.9 259.6,1908.9 254.9,1904.3 254.9,1897.7 259.6,1893.1 266.2,1893.1 270.8,1897.7"/>
<polygon points="276.6,1905.3 271.9,1909.9 265.3,1909.9 260.7,1905.3 260.7,1898.7 265.3,1894.1 271.9,1894.1 276.6,1898.7"/>
<polygon points="267.0,1918.1 262.6,1922.6 256.3,1922.6 251.8,1918.1 251.8,1911.9 256.3,1907.4 262.6,1907.4 267.0,1911.9"/>
<polygon points="355.6,2054.3 350.9,2058.9 344.3,2058.9 339.7,2054.3 339.7,2047.7 344.3,2043.1 350.9,2043.1 355.6,2047.7"/>
<polygon points="384.9,2052.3 380.3,2056.9 373.7,2056.9 369.0,2052.3 369.0,2045.7 373.7,2041.1 380.3,2041.1 384.9,2045.7"/>
<polygon points="362.5,2058.3 357.9,2062.9 351.3,2062.9 346.6,2058.3 346.6,2051.7 351.3,2047.1 357.9,2047.1 362.5,2051.7"/>
<polygon points="378.0,2058.3 373.3,2062.9 366.7,2062.9 362.1,2058.3 362.1,2051.7 366.7,2047.1 373.3,2047.1 378.0,2051.7"/>
<polygon points="370.2,2062.3 365.6,2066.9 359.0,2066.9 354.4,2062.3 354.4,2055.7 359.0,2051.1 365.6,2051.1 370.2,2055.7"/>
<polygon points="368.3,2055.3 363.7,2059.9 357.1,2059.9 352.4,2055.3 352.4,2048.7 357.1,2044.1 363.7,2044.1 368.3,2048.7"/>
<polygon points="374.1,2056.3 369.5,2060.9 362.9,2060.9 358.2,2056.3 358.2,2049.7 362.9,2045.1 369.5,2045.1 374.1,2049.7"/>
<polygon points="453.2,2119.1 448.5,2123.7 442.0,2123.7 437.3,2119.1 437.3,2112.5 442.0,2107.9 448.5,2107.9 453.2,2112.5"/>
<polygon points="482.6,2117.1 477.9,2121.7 471.4,2121.7 466.7,2117.1 466.7,2110.5 471.4,2105.9 477.9,2105.9 482.6,2110.5"/>
<polygon points="460.2,2123.1 455.5,2127.7 448.9,2127.7 444.3,2123.1 444.3,2116.5 448.9,2111.9 455.5,2111.9 460.2,2116.5"/>
<polygon points="475.6,2123.1 471.0,2127.7 464.4,2127.7 459.7,2123.1 459.7,2116.5 464.4,2111.9 471.0,2111.9 475.6,2116.5"/>
<polygon points="467.9,2127.1 463.2,2131.7 456.7,2131.7 452.0,2127.1 452.0,2120.5 456.7,2115.9 463.2,2115.9 467.9,2120.5"/>
<polygon points="466.0,2120.1 461.3,2124.7 454.7,2124.7 450.1,2120.1 450.1,2113.5 454.7,2108.9 461.3,2108.9 466.0,2113.5"/>
<polygon points="471.8,2121.1 467.1,2125.7 460.5,2125.7 455.9,2121.1 455.9,2114.5 460.5,2109.9 467.1,2109.9 471.8,2114.5"/>
<polygon points="550.7,2199.1 546.0,2203.7 539.4,2203.7 534.8,2199.1 534.8,2192.5 539.4,2187.9 546.0,2187.9 550.7,2192.5"/>
<polygon points="580.5,2197.1 575.9,2201.7 569.3,2201.7 564.6,2197.1 564.6,2190.5 569.3,2185.9 575.9,2185.9 580.5,2190.5"/>
<polygon points="557.7,2200.1 553.1,2204.7 546.5,2204.7 541.8,2200.1 541.8,2193.5 546.5,2188.9 553.1,2188.9 557.7,2193.5"/>
<polygon points="573.5,2200.1 568.8,2204.7 562.2,2204.7 557.6,2200.1 557.6,2193.5 562.2,2188.9 568.8,2188.9 573.5,2193.5"/>
<polygon points="565.6,2200.1 560.9,2204.7 554.4,2204.7 549.7,2200.1 549.7,2193.5 554.4,2188.9 560.9,2188.9 565.6,2193.5"/>
<polygon points="563.6,2200.1 559.0,2204.7 552.4,2204.7 547.7,2200.1 547.7,2193.5 552.4,2188.9 559.0,2188.9 563.6,2193.5"/>
<polygon points="569.5,2200.1 564.9,2204.7 558.3,2204.7 553.6,2200.1 553.6,2193.5 558.3,2188.9 564.9,2188.9 569.5,2193.5"/>
<polygon points="648.3,2120.1 643.6,2124.7 637.0,2124.7 632.4,2120.1 632.4,2113.5 637.0,2108.9 643.6,2108.9 648.3,2113.5"/>
<polygon points="678.2,2118.1 673.6,2122.7 667.0,2122.7 662.3,2118.1 662.3,2111.5 667.0,2106.9 673.6,2106.9 678.2,2111.5"/>
<polygon points="655.4,2124.1 650.7,2128.7 644.1,2128.7 639.5,2124.1 639.5,2117.5 644.1,2112.9 650.7,2112.9 655.4,2117.5"/>
<polygon points="671.1,2124.1 666.5,2128.7 659.9,2128.7 655.2,2124.1 655.2,2117.5 659.9,2112.9 666.5,2112.9 671.1,2117.5"/>
<polygon points="663.2,2128.1 658.6,2132.7 652.0,2132.7 647.4,2128.1 647.4,2121.5 652.0,2116.9 658.6,2116.9 663.2,2121.5"/>
<polygon points="661.3,2121.1 656.6,2125.7 650.0,2125.7 645.4,2121.1 645.4,2114.5 650.0,2109.9 656.6,2109.9 661.3,2114.5"/>
<polygon points="667.2,2122.1 662.5,2126.7 655.9,2126.7 651.3,2122.1 651.3,2115.5 655.9,2110.9 662.5,2110.9 667.2,2115.5"/>
<polygon points="207.5,2185.2 215.7,2177.0 223.8,2185.2 215.7,2193.4"/>
<polygon points="211.5,2188.2 219.7,2180.0 227.8,2188.2 219.7,2196.4"/>
<polygon points="204.5,2191.2 212.7,2183.0 220.8,2191.2 212.7,2199.4"/>
<polygon points="209.5,2194.2 217.7,2186.0 225.8,2194.2 217.7,2202.4"/>
<polygon points="305.3,1876.6 313.5,1868.4 321.7,1876.6 313.5,1884.8"/>
<polygon points="309.3,1879.6 317.5,1871.4 325.7,1879.6 317.5,1887.8"/>
<polygon points="302.3,1882.6 310.5,1874.4 318.7,1882.6 310.5,1890.8"/>
<polygon points="307.3,1885.6 315.5,1877.4 323.7,1885.6 315.5,1893.8"/>
<polygon points="403.1,2092.5 411.3,2084.3 419.5,2092.5 411.3,2100.7"/>
<polygon points="407.1,2095.5 415.3,2087.3 423.5,2095.5 415.3,2103.7"/>
<polygon points="400.1,2098.5 408.3,2090.3 416.5,2098.5 408.3,2106.7"/>
<polygon points="405.1,2101.5 413.3,2093.3 421.5,2101.5 413.3,2109.7"/>
<polygon points="500.8,2095.7 508.9,2087.5 517.1,2095.7 508.9,2103.9"/>
<polygon points="504.8,2098.7 513.0,2090.5 521.2,2098.7 513.0,2106.9"/>
<polygon points="497.8,2101.7 505.9,2093.5 514.1,2101.7 505.9,2109.9"/>
<polygon points="502.8,2104.7 510.9,2096.5 519.1,2104.7 510.9,2112.9"/>
<polygon points="598.3,2182.0 606.5,2173.8 614.7,2182.0 606.5,2190.2"/>
<polygon points="602.3,2185.0 610.5,2176.8 618.7,2185.0 610.5,2193.2"/>
<polygon points="595.3,2188.0 603.5,2179.8 611.7,2188.0 603.5,2196.2"/>
<polygon points="600.3,2191.0 608.5,2182.8 616.7,2191.0 608.5,2199.2"/>
<polygon points="695.8,2095.7 704.0,2087.5 712.2,2095.7 704.0,2103.9"/>
<polygon points="699.8,2098.7 708.0,2090.5 716.2,2098.7 708.0,2106.9"/>
<polygon points="692.8,2101.7 701.0,2093.5 709.2,2101.7 701.0,2109.9"/>
<polygon points="697.8,2104.7 706.0,2096.5 714.2,2104.7 706.0,2112.9"/>
<polygon points="304.8,1867.0 313.0,1858.8 321.2,1867.0 313.0,1875.2"/>
<polygon points="314.8,1866.0 323.0,1857.8 331.2,1866.0 323.0,1874.2"/>
<polygon points="294.8,1880.0 303.0,1871.8 311.2,1880.0 303.0,1888.2"/>
<polygon points="303.8,1889.0 312.0,1880.8 320.2,1889.0 312.0,1897.2"/>
<polygon points="314.8,1881.0 323.0,1872.8 331.2,1881.0 323.0,1889.2"/>
<polygon points="696.2,2083.0 705.0,2074.2 713.8,2083.0 705.0,2091.8"/>
<polygon points="707.2,2092.0 716.0,2083.2 724.8,2092.0 716.0,2100.8"/>
<polygon points="681.2,2097.0 690.0,2088.2 698.8,2097.0 690.0,2105.8"/>
<polygon points="695.2,2112.0 704.0,2103.2 712.8,2112.0 704.0,2120.8"/>
<polygon points="661.9,2138.9 657.9,2142.9 652.1,2142.9 648.1,2138.9 648.1,2133.1 652.1,2129.1 657.9,2129.1 661.9,2133.1"/>
</g>
<circle cx="655" cy="2136" r="2.2" fill="#555"/>
<line x1="313.5" y1="1869.0" x2="313.5" y2="1880.0" stroke="#000" stroke-width="5"/>
<line x1="305.5" y1="1869.0" x2="321.5" y2="1869.0" stroke="#000" stroke-width="5"/>
<text x="793.6" y="1804.7" font-size="42.5" font-weight="bold">h</text>
<text x="825.3" y="2009.0" font-size="33" textLength="159" lengthAdjust="spacing" text-anchor="middle" transform="rotate(-90 825.3 2009.0)">Platelets/µl</text>
<text x="977.0" y="1819.1" font-size="30.5" textLength="126" lengthAdjust="spacing" text-anchor="end">2.0 × 10<tspan font-size="19.5" dy="-12.5">6</tspan></text>
<text x="977.0" y="1919.2" font-size="30.5" textLength="126" lengthAdjust="spacing" text-anchor="end">1.5 × 10<tspan font-size="19.5" dy="-12.5">6</tspan></text>
<text x="977.0" y="2019.3" font-size="30.5" textLength="126" lengthAdjust="spacing" text-anchor="end">1.0 × 10<tspan font-size="19.5" dy="-12.5">6</tspan></text>
<text x="977.0" y="2119.4" font-size="30.5" textLength="126" lengthAdjust="spacing" text-anchor="end">5.0 × 10<tspan font-size="19.5" dy="-12.5">5</tspan></text>
<text x="977.0" y="2219.5" font-size="30.5" text-anchor="end">0.0</text>
<path d="M1040.7 2208.7V1998.6H1111.3V2208.7" fill="#696969" stroke="#000" stroke-width="6" stroke-linejoin="round"/>
<path d="M1155.0 2208.7V2064.8H1225.7V2208.7" fill="#fff" stroke="#000" stroke-width="6" stroke-linejoin="round"/>
<line x1="988.7" y1="1808.3" x2="999.6" y2="1808.3" stroke="#000" stroke-width="6"/>
<line x1="988.7" y1="1908.4" x2="999.6" y2="1908.4" stroke="#000" stroke-width="6"/>
<line x1="988.7" y1="2008.5" x2="999.6" y2="2008.5" stroke="#000" stroke-width="6"/>
<line x1="988.7" y1="2108.6" x2="999.6" y2="2108.6" stroke="#000" stroke-width="6"/>
<line x1="988.7" y1="2208.7" x2="999.6" y2="2208.7" stroke="#000" stroke-width="6"/>
<line x1="999.6" y1="1805.3" x2="999.6" y2="2211.7" stroke="#000" stroke-width="6"/>
<line x1="988.7" y1="2208.7" x2="1267.0" y2="2208.7" stroke="#000" stroke-width="6"/>
<line x1="1075.8" y1="2208.7" x2="1075.8" y2="2219.6" stroke="#000" stroke-width="6"/>
<line x1="1190.2" y1="2208.7" x2="1190.2" y2="2219.6" stroke="#000" stroke-width="6"/>
<line x1="1077.0" y1="1945.8" x2="1077.0" y2="2046.2" stroke="#000" stroke-width="4.2"/>
<line x1="1056.0" y1="1945.8" x2="1098.0" y2="1945.8" stroke="#000" stroke-width="4.2"/>
<line x1="1056.0" y1="2046.2" x2="1098.0" y2="2046.2" stroke="#000" stroke-width="4.2"/>
<line x1="1190.2" y1="2003.6" x2="1190.2" y2="2122.0" stroke="#000" stroke-width="4.2"/>
<line x1="1169.2" y1="2003.6" x2="1211.2" y2="2003.6" stroke="#000" stroke-width="4.2"/>
<line x1="1169.2" y1="2122.0" x2="1211.2" y2="2122.0" stroke="#000" stroke-width="4.2"/>
<line x1="1073.0" y1="1876.8" x2="1191.4" y2="1876.8" stroke="#000" stroke-width="5.8"/>
<text x="1131.5" y="1878.0" font-size="30" text-anchor="middle">**</text>
<g fill="#000">
<polygon points="1079.0,1905.3 1087.0,1897.3 1095.0,1905.3 1087.0,1913.3"/>
<polygon points="1058.2,1917.7 1066.2,1909.7 1074.2,1917.7 1066.2,1925.7"/>
<polygon points="1036.9,1966.7 1044.9,1958.7 1052.9,1966.7 1044.9,1974.7"/>
<polygon points="1058.2,1957.9 1066.2,1949.9 1074.2,1957.9 1066.2,1965.9"/>
<polygon points="1079.0,1966.7 1087.0,1958.7 1095.0,1966.7 1087.0,1974.7"/>
<polygon points="1058.2,1978.8 1066.2,1970.8 1074.2,1978.8 1066.2,1986.8"/>
<polygon points="1079.0,2000.8 1087.0,1992.8 1095.0,2000.8 1087.0,2008.8"/>
<polygon points="1036.9,2009.7 1044.9,2001.7 1052.9,2009.7 1044.9,2017.7"/>
<polygon points="1097.1,2013.7 1105.1,2005.7 1113.1,2013.7 1105.1,2021.7"/>
<polygon points="1058.2,2023.7 1066.2,2015.7 1074.2,2023.7 1066.2,2031.7"/>
<polygon points="1079.0,2023.7 1087.0,2015.7 1095.0,2023.7 1087.0,2031.7"/>
<polygon points="1058.2,2045.8 1066.2,2037.8 1074.2,2045.8 1066.2,2053.8"/>
<polygon points="1079.0,2053.0 1087.0,2045.0 1095.0,2053.0 1087.0,2061.0"/>
<polygon points="1067.8,2085.1 1075.8,2077.1 1083.8,2085.1 1075.8,2093.1"/>
<polygon points="1182.2,1982.8 1190.2,1974.8 1198.2,1982.8 1190.2,1990.8"/>
<polygon points="1152.1,2016.1 1160.1,2008.1 1168.1,2016.1 1160.1,2024.1"/>
<polygon points="1182.2,2012.9 1190.2,2004.9 1198.2,2012.9 1190.2,2020.9"/>
<polygon points="1197.5,2009.7 1205.5,2001.7 1213.5,2009.7 1205.5,2017.7"/>
<polygon points="1213.5,2018.1 1221.5,2010.1 1229.5,2018.1 1221.5,2026.1"/>
<polygon points="1152.1,2039.0 1160.1,2031.0 1168.1,2039.0 1160.1,2047.0"/>
<polygon points="1167.4,2045.0 1175.4,2037.0 1183.4,2045.0 1175.4,2053.0"/>
<polygon points="1182.2,2033.7 1190.2,2025.7 1198.2,2033.7 1190.2,2041.7"/>
<polygon points="1197.5,2033.7 1205.5,2025.7 1213.5,2033.7 1205.5,2041.7"/>
<polygon points="1213.5,2043.0 1221.5,2035.0 1229.5,2043.0 1221.5,2051.0"/>
<polygon points="1167.4,2089.1 1175.4,2081.1 1183.4,2089.1 1175.4,2097.1"/>
<polygon points="1197.5,2087.1 1205.5,2079.1 1213.5,2087.1 1205.5,2095.1"/>
<polygon points="1182.2,2102.4 1190.2,2094.4 1198.2,2102.4 1190.2,2110.4"/>
<polygon points="1182.2,2146.5 1190.2,2138.5 1198.2,2146.5 1190.2,2154.5"/>
<polygon points="1189.4,2168.2 1197.4,2160.2 1205.4,2168.2 1197.4,2176.2"/>
<polygon points="1174.6,2177.4 1182.6,2169.4 1190.6,2177.4 1182.6,2185.4"/>
</g>
<text x="1093.0" y="2251.5" font-size="31" text-anchor="end" transform="rotate(-45 1093.0 2251.5)">VEH</text>
<text x="1208.0" y="2249.0" font-size="31" text-anchor="end" transform="rotate(-45 1208.0 2249.0)">SB</text>
</svg>
</body></html>
